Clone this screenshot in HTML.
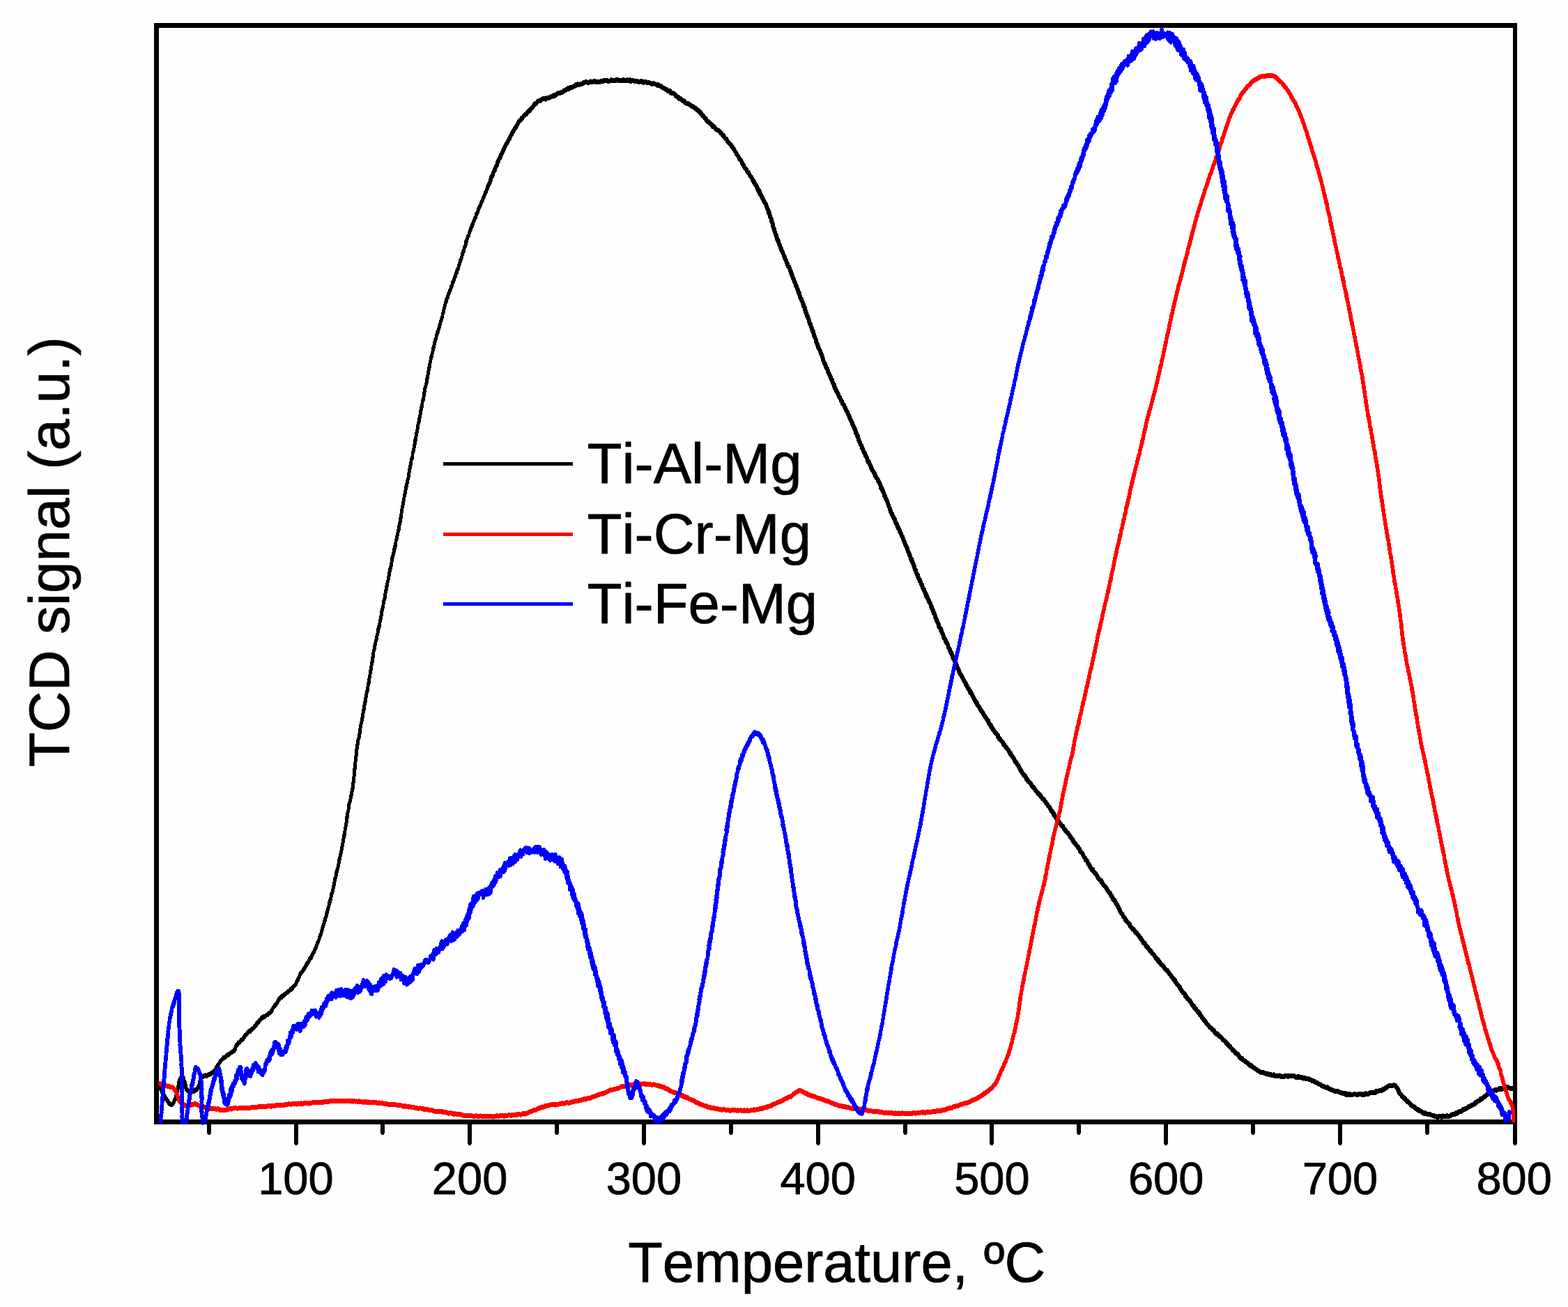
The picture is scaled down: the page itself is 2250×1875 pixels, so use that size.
<!DOCTYPE html>
<html lang="en">
<head>
<meta charset="utf-8">
<title>TCD signal vs Temperature</title>
<style>
html,body{margin:0;padding:0;background:#fefefe;}
body{width:2250px;height:1875px;overflow:hidden;}
svg{display:block;}
text{font-family:"Liberation Sans",Arial,Helvetica,sans-serif;fill:#000;stroke:#000;stroke-width:0.8px;stroke-linejoin:round;font-kerning:none;font-variant-ligatures:none;text-rendering:geometricPrecision;}
</style>
</head>
<body>
<svg width="2250" height="1875" viewBox="0 0 2250 1875">
<rect x="0" y="0" width="2250" height="1875" fill="#fefefe"/>
<g shape-rendering="crispEdges" fill="#000">
<rect x="221" y="33" width="1956" height="7"/>
<rect x="221" y="1606" width="1956" height="7"/>
<rect x="221" y="33" width="7" height="1580"/>
<rect x="2171" y="33" width="6" height="1580"/>
<rect x="297" y="1612" width="6" height="13.5"/>
<rect x="298" y="1625.5" width="4" height="2"/>
<rect x="422" y="1612" width="6" height="29.0"/>
<rect x="423" y="1641.0" width="4" height="2"/>
<rect x="546" y="1612" width="6" height="13.5"/>
<rect x="547" y="1625.5" width="4" height="2"/>
<rect x="671" y="1612" width="6" height="29.0"/>
<rect x="672" y="1641.0" width="4" height="2"/>
<rect x="796" y="1612" width="6" height="13.5"/>
<rect x="797" y="1625.5" width="4" height="2"/>
<rect x="921" y="1612" width="6" height="29.0"/>
<rect x="922" y="1641.0" width="4" height="2"/>
<rect x="1046" y="1612" width="6" height="13.5"/>
<rect x="1047" y="1625.5" width="4" height="2"/>
<rect x="1171" y="1612" width="6" height="29.0"/>
<rect x="1172" y="1641.0" width="4" height="2"/>
<rect x="1296" y="1612" width="6" height="13.5"/>
<rect x="1297" y="1625.5" width="4" height="2"/>
<rect x="1420" y="1612" width="6" height="29.0"/>
<rect x="1421" y="1641.0" width="4" height="2"/>
<rect x="1545" y="1612" width="6" height="13.5"/>
<rect x="1546" y="1625.5" width="4" height="2"/>
<rect x="1670" y="1612" width="6" height="29.0"/>
<rect x="1671" y="1641.0" width="4" height="2"/>
<rect x="1795" y="1612" width="6" height="13.5"/>
<rect x="1796" y="1625.5" width="4" height="2"/>
<rect x="1920" y="1612" width="6" height="29.0"/>
<rect x="1921" y="1641.0" width="4" height="2"/>
<rect x="2045" y="1612" width="6" height="13.5"/>
<rect x="2046" y="1625.5" width="4" height="2"/>
<rect x="2171" y="1612" width="6" height="29.0"/>
<rect x="2172" y="1641.0" width="4" height="2"/>
</g>
<g fill="none" stroke-linejoin="round" stroke-linecap="round" shape-rendering="crispEdges">
<g transform="scale(1 1.4583)"><path d="M229.2 1069.8 L230.5 1071.4 L231.6 1071.8 L232.0 1073.9 L233.1 1074.4 L234.7 1076.0 L235.5 1077.2 L236.3 1078.0 L237.1 1079.9 L237.8 1080.7 L238.8 1080.9 L239.8 1082.6 L240.3 1082.9 L241.8 1084.4 L242.8 1085.8 L244.9 1086.3 L246.7 1086.5 L248.9 1085.3 L250.2 1082.9 L250.7 1081.7 L251.8 1080.9 L252.1 1079.7 L252.4 1078.5 L252.8 1077.5 L253.4 1076.5 L253.9 1075.2 L254.5 1074.0 L254.7 1071.8 L255.2 1071.6 L255.5 1070.0 L255.6 1068.5 L256.0 1067.9 L256.1 1065.2 L257.3 1064.6 L257.5 1063.2 L258.5 1061.3 L259.2 1060.9 L260.8 1059.2 L261.9 1058.5 L263.2 1060.1 L263.9 1062.2 L264.2 1063.5 L264.7 1063.7 L265.5 1065.0 L265.7 1066.8 L266.6 1067.8 L266.7 1070.1 L267.5 1071.6 L268.6 1071.8 L269.0 1073.0 L270.5 1073.6 L271.8 1074.1 L273.7 1073.9 L275.0 1074.1 L276.7 1073.4 L279.1 1073.4 L280.5 1072.2 L282.1 1072.3 L282.9 1071.3 L284.3 1069.5 L285.1 1068.6 L285.9 1067.1 L286.5 1066.3 L286.5 1064.2 L287.5 1063.9 L287.8 1061.9 L288.7 1060.7 L289.3 1059.6 L291.0 1059.4 L292.6 1058.5 L294.9 1057.9 L296.6 1058.5 L298.3 1057.4 L300.5 1057.0 L301.8 1056.7 L303.9 1055.6 L305.2 1054.9 L307.2 1054.0 L308.2 1052.9 L308.7 1052.6 L310.1 1051.6 L310.4 1050.2 L311.4 1049.4 L312.3 1049.3 L312.5 1047.6 L313.9 1047.0 L314.8 1045.7 L316.1 1044.0 L317.6 1043.1 L318.2 1042.4 L319.4 1041.6 L320.9 1040.4 L321.4 1040.6 L323.3 1039.9 L324.4 1039.2 L326.2 1037.6 L327.7 1037.8 L329.3 1036.8 L330.7 1036.0 L332.2 1035.1 L333.8 1034.7 L335.2 1033.8 L336.3 1033.5 L337.3 1032.7 L338.0 1031.1 L337.9 1030.2 L338.8 1028.6 L339.9 1027.8 L340.8 1027.4 L342.1 1025.8 L343.0 1025.7 L344.4 1024.9 L345.6 1023.3 L347.0 1023.2 L347.8 1022.4 L349.3 1021.6 L350.3 1019.8 L351.1 1020.0 L351.8 1018.4 L353.0 1017.9 L354.2 1017.0 L355.6 1015.6 L356.2 1015.0 L357.4 1014.3 L359.3 1014.6 L359.8 1013.5 L361.2 1012.5 L362.5 1012.2 L363.8 1011.1 L364.8 1010.3 L366.6 1009.0 L368.0 1007.9 L368.4 1006.8 L369.6 1006.5 L370.8 1005.3 L371.8 1004.8 L372.5 1003.6 L373.6 1003.3 L374.5 1002.5 L376.0 1001.1 L377.5 1000.9 L378.8 999.9 L380.6 999.8 L382.6 998.5 L384.1 998.3 L385.0 997.2 L386.3 996.9 L387.9 996.1 L389.2 994.9 L390.3 993.9 L390.9 992.9 L391.8 991.4 L393.4 990.3 L393.8 989.5 L395.3 988.7 L395.6 988.4 L396.7 987.2 L397.9 986.2 L399.0 984.8 L400.0 983.0 L401.2 982.5 L403.2 980.7 L404.4 981.1 L405.1 979.7 L406.8 979.7 L407.8 978.2 L409.1 978.1 L410.8 977.1 L411.7 976.5 L412.9 975.8 L413.9 975.2 L415.7 974.4 L416.6 973.4 L417.8 973.4 L418.9 972.3 L419.9 971.8 L421.2 970.4 L421.7 970.4 L424.1 968.5 L424.7 967.8 L425.4 966.2 L426.1 965.6 L426.8 964.2 L427.8 964.0 L428.1 962.6 L429.1 961.6 L430.1 959.7 L431.2 957.7 L432.2 957.2 L432.8 956.2 L433.8 955.8 L434.5 955.1 L435.6 953.6 L436.5 952.9 L437.6 951.5 L438.3 950.8 L439.4 949.4 L440.2 949.1 L440.8 947.3 L441.5 946.9 L442.7 946.3 L443.7 944.4 L444.1 943.5 L445.0 943.1 L446.3 942.4 L446.7 941.4 L447.6 939.9 L448.7 938.6 L449.0 938.5 L449.9 937.0 L450.8 936.3 L451.2 934.7 L452.2 933.8 L452.7 932.8 L453.9 931.4 L454.2 930.0 L454.6 929.5 L455.1 928.6 L456.4 926.4 L457.0 925.6 L457.8 924.2 L458.4 922.2 L459.6 920.5 L459.8 919.4 L460.8 918.4 L461.0 916.7 L461.4 916.0 L462.0 915.3 L462.4 913.7 L462.9 913.2 L463.1 912.5 L464.2 909.7 L465.3 907.8 L465.7 906.5 L466.3 905.4 L466.7 904.2 L466.9 902.9 L467.2 902.6 L468.1 901.3 L468.5 900.1 L468.6 899.0 L469.4 897.6 L469.6 896.8 L470.2 895.8 L470.6 894.0 L471.5 892.5 L472.1 890.6 L472.3 888.9 L472.7 887.7 L473.6 887.4 L473.5 885.8 L474.0 885.4 L474.7 884.4 L474.9 882.6 L475.1 881.6 L475.6 881.0 L475.7 879.6 L476.5 878.2 L476.9 878.2 L477.7 875.6 L478.1 873.8 L478.5 873.3 L478.8 871.5 L479.3 870.7 L479.4 869.9 L479.3 868.9 L480.1 867.6 L480.3 866.5 L480.4 865.5 L480.7 864.4 L481.4 863.3 L481.7 862.9 L482.3 860.8 L482.5 860.4 L482.3 859.0 L482.8 857.7 L483.3 857.7 L483.5 856.6 L484.1 854.6 L484.6 854.2 L485.0 853.3 L485.2 851.8 L485.6 851.4 L486.0 849.8 L486.2 848.8 L486.1 847.2 L486.4 846.3 L486.8 845.7 L487.6 844.7 L487.7 843.8 L488.0 842.5 L488.6 841.4 L488.5 841.0 L489.6 838.4 L489.9 836.6 L490.4 835.2 L490.3 834.1 L491.1 833.0 L491.2 832.1 L491.6 830.1 L492.3 828.1 L492.5 826.1 L493.2 824.6 L493.6 822.0 L494.2 821.4 L494.6 819.9 L494.7 819.2 L494.7 818.8 L495.2 815.9 L495.9 814.0 L496.4 812.2 L496.3 810.8 L496.9 810.0 L497.2 809.2 L497.5 807.9 L497.2 806.8 L497.8 806.2 L497.7 804.5 L498.2 804.5 L498.4 802.2 L498.2 801.3 L498.5 800.1 L498.7 799.8 L499.5 798.2 L499.8 797.5 L500.0 797.0 L500.3 794.9 L500.1 794.5 L500.9 792.8 L500.7 792.7 L500.9 791.1 L501.4 790.5 L502.1 788.8 L502.3 788.5 L502.7 787.2 L503.1 785.9 L503.1 784.7 L503.7 784.0 L503.6 782.6 L504.3 782.1 L504.6 780.8 L504.7 779.4 L505.2 778.2 L505.3 778.1 L505.8 776.3 L505.7 776.1 L506.3 775.1 L506.7 773.6 L507.0 772.9 L506.8 771.4 L506.8 770.4 L507.6 768.9 L507.6 767.9 L507.4 767.5 L507.7 765.7 L507.7 765.3 L508.2 763.5 L508.1 763.6 L508.2 762.0 L508.5 761.2 L508.8 760.1 L508.8 758.3 L508.7 757.2 L509.3 756.2 L508.8 756.2 L509.2 754.1 L509.4 751.6 L509.8 750.1 L510.3 748.7 L510.6 747.7 L510.4 746.3 L510.7 744.6 L511.3 743.2 L511.6 740.8 L511.5 740.1 L511.9 738.6 L511.8 738.0 L511.8 736.9 L512.5 735.5 L512.8 734.5 L512.8 732.7 L513.7 731.2 L513.7 729.2 L514.0 727.5 L515.0 726.2 L515.2 725.5 L515.3 724.4 L515.5 722.7 L516.0 722.3 L516.3 720.7 L516.5 719.5 L517.0 719.0 L516.7 718.0 L517.0 715.8 L517.7 714.9 L517.8 714.2 L517.8 713.2 L518.2 711.7 L518.6 710.9 L519.2 709.2 L519.0 708.1 L519.6 706.7 L519.7 706.4 L520.4 705.5 L520.9 704.3 L520.7 702.3 L521.0 701.5 L521.4 700.6 L521.6 699.9 L521.8 698.3 L522.5 697.7 L522.4 695.9 L523.0 694.5 L522.8 694.1 L523.4 692.5 L523.4 691.5 L524.2 690.7 L524.6 690.0 L524.9 688.0 L524.6 686.9 L525.1 686.2 L525.1 685.4 L525.4 684.0 L525.8 683.5 L526.2 681.7 L526.2 680.9 L526.9 680.1 L527.4 679.2 L527.2 677.3 L527.8 677.0 L527.9 676.0 L528.2 674.3 L528.2 672.9 L528.8 673.0 L529.3 671.4 L529.4 671.0 L529.7 669.5 L529.9 667.4 L530.0 665.9 L530.7 665.8 L530.9 663.9 L531.0 662.9 L531.6 661.8 L532.0 660.3 L531.7 659.7 L532.1 659.1 L532.6 658.1 L532.7 655.9 L532.9 655.5 L533.1 654.2 L533.5 653.9 L533.3 652.6 L533.7 651.4 L534.4 650.9 L534.4 648.9 L534.9 647.9 L534.7 647.6 L534.9 645.9 L535.7 645.7 L535.5 644.0 L535.7 642.7 L536.0 642.7 L536.1 640.7 L536.5 639.5 L537.0 639.2 L537.5 638.0 L537.8 636.2 L537.7 636.3 L537.9 634.5 L538.5 633.4 L538.9 632.1 L538.9 632.2 L539.2 631.1 L539.5 630.1 L540.2 628.7 L540.2 626.9 L540.9 626.0 L540.9 625.8 L541.7 623.8 L542.1 623.3 L542.0 621.7 L542.3 621.8 L542.6 619.6 L542.8 618.6 L543.3 618.5 L543.4 616.5 L544.3 616.4 L544.7 614.4 L544.6 614.2 L545.0 612.8 L545.2 610.9 L545.5 610.8 L546.1 609.6 L546.1 608.5 L546.4 607.5 L547.0 606.0 L547.1 605.9 L547.6 604.0 L547.9 603.8 L547.7 602.0 L548.0 600.7 L548.8 600.1 L549.0 598.7 L548.7 598.6 L549.5 597.7 L549.8 596.1 L550.1 594.5 L550.2 593.8 L550.3 592.9 L550.7 591.7 L551.0 590.4 L551.3 589.7 L552.1 589.0 L552.3 587.8 L552.2 586.8 L552.5 584.7 L553.0 584.3 L553.2 583.0 L553.4 582.4 L553.8 580.8 L554.2 580.3 L554.8 578.8 L554.7 577.9 L554.8 576.6 L555.6 576.0 L555.4 575.0 L555.9 574.1 L556.2 572.1 L556.6 571.8 L556.9 570.7 L557.4 569.0 L557.4 568.1 L557.8 566.8 L558.3 566.3 L558.6 564.3 L558.6 563.5 L559.2 562.1 L559.2 561.2 L559.6 559.8 L560.1 559.8 L560.5 558.5 L561.0 557.5 L561.4 555.9 L561.5 554.5 L562.0 553.7 L562.0 553.3 L562.2 551.3 L562.9 550.8 L562.7 549.0 L563.2 548.0 L563.9 547.1 L563.8 546.2 L564.3 545.2 L564.8 544.4 L565.0 542.6 L565.7 542.2 L565.4 540.8 L566.2 540.4 L566.1 538.0 L566.7 537.5 L567.4 536.9 L567.3 535.3 L567.9 534.8 L567.9 533.1 L568.2 532.3 L568.5 531.6 L569.2 530.1 L569.2 528.6 L569.9 528.3 L570.2 526.5 L570.9 525.9 L570.9 524.3 L571.0 524.2 L571.2 522.7 L571.9 521.4 L572.3 521.1 L572.7 519.9 L572.5 518.0 L573.3 516.3 L573.4 515.9 L573.7 514.7 L574.5 512.8 L574.8 512.0 L574.5 510.7 L574.7 510.0 L575.2 509.5 L575.7 507.4 L575.9 505.8 L576.2 503.7 L576.7 502.2 L577.2 499.5 L577.4 498.9 L577.8 497.6 L578.2 496.5 L578.4 496.0 L578.3 495.1 L578.7 493.7 L579.2 492.7 L579.3 490.9 L579.9 490.7 L580.0 489.2 L580.4 487.7 L581.2 484.8 L581.6 484.8 L581.6 483.8 L582.0 481.7 L582.4 480.9 L582.7 480.1 L582.6 479.0 L583.4 477.9 L583.5 477.3 L583.8 475.8 L584.2 475.1 L584.3 473.1 L585.0 472.6 L585.0 471.9 L585.7 470.4 L586.1 469.7 L586.3 467.9 L586.1 467.3 L586.9 465.8 L587.1 464.9 L587.2 464.0 L587.8 462.5 L587.8 461.6 L588.3 460.7 L588.5 459.1 L588.8 458.1 L589.4 456.6 L589.4 455.9 L589.8 454.8 L590.3 452.4 L591.1 451.4 L591.9 448.9 L592.1 446.4 L592.6 444.7 L593.6 442.5 L594.1 441.0 L594.3 438.7 L595.2 436.6 L595.5 435.0 L595.5 433.6 L596.3 433.3 L596.4 432.4 L596.3 431.1 L597.0 429.5 L597.1 429.4 L597.3 428.1 L597.4 427.0 L597.8 425.7 L598.1 425.1 L598.7 423.6 L598.9 422.5 L599.3 421.2 L599.4 420.5 L599.6 418.8 L599.8 418.5 L600.3 416.6 L601.1 414.9 L601.6 413.6 L601.6 411.7 L602.0 411.6 L602.6 409.9 L602.3 409.8 L603.0 408.1 L603.3 406.7 L603.5 406.3 L603.8 404.6 L603.8 404.1 L604.6 402.4 L604.3 401.3 L605.1 400.6 L605.2 400.3 L605.6 398.3 L606.0 397.0 L606.0 396.8 L606.2 394.9 L606.8 394.2 L607.4 392.8 L607.6 392.1 L607.9 391.2 L608.1 390.0 L608.1 389.1 L608.8 387.9 L608.7 387.0 L608.9 385.8 L609.5 385.1 L609.8 383.7 L609.7 382.4 L610.5 380.6 L611.2 378.8 L611.9 377.3 L612.2 376.3 L612.4 374.7 L612.6 373.1 L613.2 372.5 L613.1 371.8 L613.7 370.3 L614.0 368.5 L614.7 367.4 L614.5 367.3 L614.7 365.6 L615.3 364.1 L615.9 363.2 L615.5 362.2 L615.9 361.3 L616.8 360.5 L616.5 359.1 L617.0 357.8 L617.3 356.5 L617.5 355.8 L617.8 355.2 L618.0 354.2 L618.4 352.0 L619.1 351.6 L619.5 350.5 L620.0 348.0 L620.6 346.6 L621.4 344.1 L621.4 343.1 L622.5 341.5 L622.7 340.4 L623.0 339.1 L623.6 337.4 L623.8 337.1 L624.2 335.7 L624.6 334.5 L625.3 333.9 L626.0 332.5 L625.9 331.3 L626.2 330.2 L627.0 329.7 L627.2 328.2 L627.6 327.2 L628.3 326.3 L629.0 325.7 L629.1 324.5 L629.3 323.9 L630.2 322.4 L630.7 321.2 L630.8 320.1 L631.2 319.5 L631.9 318.6 L631.9 317.6 L632.6 316.1 L633.0 315.2 L633.1 314.1 L633.9 313.5 L634.4 311.8 L634.8 311.5 L635.0 310.7 L635.0 309.4 L635.9 307.6 L636.1 307.5 L636.3 306.4 L637.1 304.8 L637.0 303.5 L637.9 302.6 L637.9 301.6 L638.8 300.3 L638.6 300.0 L639.3 298.2 L640.2 297.0 L640.1 296.6 L640.7 294.7 L641.7 293.6 L642.6 291.8 L643.1 289.8 L644.2 288.4 L645.1 286.4 L645.6 285.8 L646.6 284.8 L647.0 283.0 L647.2 282.1 L647.6 282.1 L648.7 281.1 L649.0 279.1 L649.5 278.0 L650.4 277.3 L650.5 277.1 L651.0 276.1 L651.6 274.8 L652.0 274.1 L652.8 272.4 L653.5 271.7 L653.8 270.1 L654.5 269.0 L655.3 268.3 L655.3 267.3 L655.8 266.3 L656.6 265.4 L657.0 264.2 L657.6 263.8 L658.0 262.8 L658.6 260.9 L658.8 260.8 L659.5 259.2 L660.1 258.7 L660.4 257.0 L660.9 255.5 L661.5 255.0 L662.0 253.9 L662.4 253.1 L662.7 252.4 L663.1 251.2 L663.6 250.0 L664.2 248.0 L664.8 247.9 L665.5 246.9 L666.1 244.8 L666.1 243.8 L666.9 243.2 L667.3 242.5 L668.0 241.3 L668.4 240.2 L668.3 239.5 L668.7 237.5 L669.7 236.8 L670.1 235.5 L670.2 235.3 L671.1 233.2 L672.3 231.7 L672.7 231.3 L673.1 230.3 L673.8 228.3 L673.9 227.9 L675.1 226.4 L675.3 225.3 L676.1 224.7 L676.4 224.0 L676.7 223.0 L677.7 222.2 L677.9 220.5 L678.4 220.3 L679.1 218.7 L680.3 217.2 L681.2 214.9 L682.7 213.6 L683.4 210.8 L684.9 209.8 L685.8 207.6 L686.6 206.6 L686.7 205.1 L687.4 204.7 L688.0 204.1 L688.8 202.6 L689.4 201.8 L690.0 200.7 L690.5 199.7 L691.9 197.5 L693.0 195.7 L693.6 194.5 L694.0 194.0 L694.7 192.8 L695.0 191.7 L695.8 191.2 L696.0 189.7 L696.8 189.7 L697.6 188.1 L698.2 187.1 L699.2 186.0 L699.7 183.9 L700.6 182.5" stroke="#000000" stroke-width="4.80"/></g>
<g transform="scale(1 1.2500)"><path d="M699.7 214.6 L700.6 212.9 L701.4 212.2 L701.6 211.5 L702.4 210.1 L703.2 209.0 L703.4 207.1 L704.1 206.3 L704.7 205.1 L704.9 203.4 L705.7 202.3 L706.8 201.8 L706.9 200.7 L707.8 198.5 L708.5 197.5 L709.3 196.2 L709.4 195.1 L710.4 194.7 L710.8 192.6 L711.3 192.2 L711.7 191.3 L712.8 190.1 L713.3 188.5 L714.1 186.9 L714.2 185.6 L715.3 184.4 L715.9 183.0 L716.9 181.9 L717.9 180.4 L718.6 178.2 L718.9 177.4 L719.8 176.6 L720.8 175.5 L721.5 174.2 L721.8 172.8 L722.8 172.0 L723.2 170.2 L724.1 168.9 L725.0 167.4 L725.5 167.0 L725.9 166.0 L726.8 165.4 L727.8 163.8 L728.5 163.2 L729.4 161.0 L731.2 159.1 L732.0 157.0 L732.5 156.1 L733.4 155.0 L734.5 153.8 L735.2 151.9 L736.5 151.2 L737.0 149.8 L737.9 148.7 L738.8 147.1 L740.0 146.8 L740.7 144.8 L741.1 144.4 L742.4 143.3 L742.7 142.3 L744.5 139.9 L746.1 138.3 L747.3 137.5 L748.8 135.3 L749.5 135.6 L750.7 134.2 L752.9 131.9 L754.9 131.2 L756.0 129.8 L757.2 128.6 L759.0 127.1 L760.3 127.0 L761.0 126.0 L761.9 124.6 L762.8 124.2 L764.3 123.0 L764.9 122.1 L765.9 120.9 L767.3 119.2 L769.4 118.7 L771.6 116.5 L773.2 115.9 L774.6 115.3 L775.5 115.6 L776.9 114.1 L780.2 113.2 L782.9 113.7 L785.8 112.2 L788.4 112.1 L790.6 111.2 L792.8 110.2 L794.8 110.5 L795.6 108.9 L797.8 109.1 L799.8 107.5 L802.3 106.8 L804.8 106.3 L807.3 105.8 L808.1 105.2 L809.6 103.8 L810.8 104.0 L812.6 102.8 L814.2 102.1 L815.4 101.3 L816.8 101.9 L818.5 100.3 L819.8 100.4 L821.3 100.2 L822.7 99.6 L824.6 99.0 L825.9 97.4 L827.3 97.8 L828.7 96.6 L830.7 97.3 L833.6 96.5 L834.9 96.2 L836.5 95.5 L837.8 94.4 L839.1 94.5 L840.9 94.1 L842.7 94.5 L844.1 94.8 L845.2 94.6 L847.3 93.6 L848.2 94.2 L850.3 94.1 L851.5 93.7 L852.8 93.1 L854.5 93.8 L855.8 93.9 L857.3 93.9 L858.9 93.6 L860.9 93.8 L862.1 93.3 L863.5 93.4 L864.9 93.4 L866.8 92.2 L868.5 92.5 L869.4 92.3 L870.9 92.2 L872.9 93.2 L874.4 92.9 L876.0 92.7 L877.2 91.9 L878.6 92.3 L880.1 92.5 L881.7 92.3 L883.4 92.3 L884.6 91.7 L886.5 91.7 L888.0 92.7 L889.3 92.7 L891.0 92.7 L892.5 92.4 L894.1 91.6 L895.5 92.2 L896.9 92.4 L898.8 92.6 L900.2 91.7 L901.7 92.5 L903.4 91.7 L904.4 93.2 L906.2 92.9 L908.0 92.5 L909.5 92.9 L911.5 93.0 L913.0 92.8 L914.6 93.4 L916.2 93.9 L917.4 94.2 L919.4 93.3 L920.8 93.3 L922.2 94.5 L924.1 94.7 L925.2 93.8 L928.2 94.7 L931.0 94.8 L933.5 95.6 L934.6 96.1 L935.9 96.1 L937.5 95.6 L939.4 96.6 L941.3 96.8 L943.0 97.8 L943.9 97.1 L945.9 98.2 L946.6 98.4 L948.6 99.0 L949.9 100.3 L951.3 100.8 L953.1 101.5 L954.3 101.9 L955.4 102.6 L957.1 103.2 L958.3 104.1 L959.5 104.7 L961.5 104.4 L962.4 106.5 L963.6 107.0 L965.4 106.7 L966.8 107.3 L968.3 108.5 L969.8 110.1 L970.6 110.1 L972.0 111.4 L973.3 111.3 L974.7 113.2 L976.2 113.2 L977.7 114.4 L979.1 115.7 L980.4 115.8 L982.2 116.2 L983.1 117.8 L984.6 118.6 L986.3 118.5 L987.3 118.7 L989.1 119.8 L990.1 120.0 L991.4 121.6 L992.8 121.7 L994.5 122.3 L995.8 122.8 L997.0 124.1 L998.9 124.6 L999.8 126.0 L1001.9 126.4 L1003.2 128.2 L1004.2 128.1 L1005.6 129.1 L1006.2 131.2 L1007.5 131.8 L1008.1 132.9 L1009.3 132.7 L1010.7 135.0 L1011.2 135.3 L1012.8 136.1 L1013.4 137.7 L1014.6 139.0 L1015.9 139.6 L1016.8 139.6 L1018.0 141.0 L1019.1 141.9 L1020.1 142.2 L1021.7 143.3 L1022.3 145.0 L1023.8 145.4 L1024.9 145.4 L1026.1 147.2 L1027.2 148.1 L1028.4 148.9 L1029.5 149.1 L1030.7 149.6 L1032.1 150.9 L1033.3 151.6 L1034.2 152.6 L1035.7 153.2 L1036.4 155.2 L1037.5 155.2 L1038.9 156.0 L1039.3 156.8 L1040.6 159.0 L1041.5 159.1 L1042.9 159.8 L1043.4 161.7 L1044.5 162.5 L1045.6 163.7 L1047.1 164.6 L1047.7 165.9 L1049.1 166.2 L1049.8 167.8 L1051.7 169.6 L1052.6 170.6 L1053.6 171.7 L1054.0 172.4 L1054.7 173.6 L1056.1 175.0 L1056.6 176.8 L1057.9 177.6 L1058.2 178.1 L1059.2 179.1 L1059.9 180.2 L1060.7 182.0 L1061.8 182.7 L1062.5 184.1 L1063.5 184.3 L1064.4 186.1 L1064.9 187.9 L1066.1 188.1 L1066.4 189.3 L1067.5 190.2 L1068.1 191.6 L1069.0 192.9 L1070.0 193.2 L1071.1 194.5 L1071.4 195.3 L1072.2 196.5 L1073.6 198.3 L1074.3 198.1 L1074.8 199.2 L1075.7 200.9 L1076.3 201.7 L1077.4 203.0 L1078.6 203.7 L1079.2 204.6 L1079.9 206.2 L1080.5 207.2" stroke="#000000" stroke-width="5.60"/></g>
<g transform="scale(1 1.1667)"><path d="M1079.9 221.0 L1080.5 222.0 L1081.6 222.7 L1082.3 224.9 L1083.2 225.2 L1084.6 227.9 L1085.4 228.8 L1086.0 229.8 L1086.9 231.6 L1087.4 232.8 L1088.3 234.6 L1089.5 234.5 L1090.1 236.1 L1090.4 238.2 L1091.7 239.4 L1092.3 240.9 L1092.9 241.7 L1093.7 243.3 L1094.6 243.6 L1094.8 245.3 L1095.8 246.2 L1096.7 248.2 L1097.2 248.9 L1097.8 249.5 L1099.1 251.6 L1100.3 254.5 L1100.6 255.3 L1101.5 257.1 L1102.2 257.9 L1102.9 259.7 L1103.1 261.4 L1103.8 262.2 L1104.5 264.6 L1105.2 266.6 L1106.6 268.7 L1107.0 272.2 L1107.7 273.0 L1108.4 274.6 L1109.1 277.1 L1109.6 279.5 L1110.7 281.5 L1111.4 284.0 L1112.3 286.2 L1112.7 287.8 L1113.5 288.1 L1114.0 290.6 L1114.1 290.8 L1115.2 293.4 L1115.1 294.5 L1116.4 295.3 L1116.9 296.9 L1117.8 299.3 L1118.6 300.9 L1119.8 304.0 L1120.7 305.4 L1121.1 306.9 L1122.4 308.8 L1122.9 310.1 L1123.0 310.7 L1124.2 312.7 L1124.8 313.9 L1125.3 315.1 L1126.0 315.9 L1126.1 317.0 L1126.7 318.2 L1127.7 319.5 L1128.1 320.5 L1128.8 322.4 L1129.7 324.4 L1129.9 324.6 L1130.5 327.0 L1131.6 327.8 L1132.3 328.1 L1133.0 329.9 L1133.4 331.3 L1134.6 333.5 L1134.8 334.7 L1135.7 336.2 L1135.8 337.2 L1136.7 338.5 L1137.3 340.4 L1137.8 341.5 L1138.2 342.9 L1139.2 343.6 L1139.1 344.1 L1140.2 346.5 L1140.7 347.2 L1141.1 347.8 L1141.7 350.4 L1142.0 351.1 L1143.0 352.4 L1143.2 353.0 L1144.0 355.3 L1144.7 355.7 L1145.2 357.6 L1145.5 358.8 L1146.0 359.2 L1146.3 361.3 L1147.4 361.5 L1147.5 363.2 L1148.1 365.1 L1148.7 366.1 L1149.5 367.1 L1150.3 368.5 L1150.5 370.1 L1151.0 370.5 L1151.9 372.7 L1152.2 373.5 L1152.8 374.5 L1152.9 376.2 L1154.1 376.8 L1154.7 378.5 L1155.2 380.5 L1155.3 381.0 L1156.3 383.5 L1156.8 384.2 L1157.1 385.8 L1157.9 387.2 L1158.0 388.6 L1159.1 389.5 L1158.9 390.2 L1159.9 391.9 L1160.7 393.5 L1161.0 394.1 L1161.4 396.2 L1162.3 397.8 L1162.3 398.4 L1163.3 399.0 L1163.7 401.5 L1165.1 404.1 L1166.0 407.0 L1166.9 407.9 L1167.5 410.6 L1168.1 412.2 L1168.8 413.2 L1169.4 414.5 L1169.4 415.4 L1170.5 416.8 L1171.2 420.0 L1172.3 422.2 L1173.1 423.9 L1173.7 425.6 L1174.7 428.3 L1176.0 429.8 L1177.1 432.2 L1177.5 433.3 L1178.1 434.7 L1179.5 437.4 L1180.4 439.9 L1181.1 442.9 L1182.2 444.7 L1183.6 447.9 L1184.2 447.6 L1184.6 450.2 L1185.5 450.5 L1185.5 451.6 L1186.6 452.8 L1187.3 454.1 L1187.8 456.1 L1188.1 457.1 L1189.5 459.0 L1190.6 461.8 L1192.1 463.6 L1192.1 465.2 L1193.0 466.3 L1193.9 467.1 L1194.2 468.7 L1194.6 469.9 L1195.4 471.0 L1196.3 473.1 L1197.1 473.2 L1197.3 475.5 L1197.7 475.4 L1198.4 478.0 L1199.3 478.4 L1199.7 480.3 L1201.0 481.2 L1201.6 482.2 L1201.8 482.9 L1202.5 484.0 L1203.2 485.0 L1203.6 487.5 L1204.9 488.6 L1205.2 489.2 L1206.1 490.9 L1206.6 491.7 L1207.5 493.4 L1208.0 493.3 L1208.8 495.9 L1209.4 496.6 L1210.0 497.3 L1211.1 498.2 L1211.7 500.2 L1212.4 501.6 L1213.4 502.1 L1214.1 504.0 L1214.7 504.9 L1215.4 506.3 L1216.2 506.8 L1216.8 508.7 L1217.4 510.1 L1217.9 510.8 L1218.8 512.1 L1219.1 513.4 L1219.7 514.3 L1220.6 515.9 L1221.6 517.6 L1221.8 518.8 L1222.6 519.5 L1222.9 521.3 L1223.6 521.7 L1224.3 523.0 L1224.9 524.3 L1225.6 525.7 L1226.4 527.9 L1227.1 528.4 L1227.5 530.2 L1228.1 531.0 L1228.3 532.8 L1229.2 533.5 L1229.8 534.4 L1230.4 537.0 L1231.2 537.0 L1231.6 539.4 L1231.8 540.4 L1232.4 541.1 L1233.0 542.5 L1234.1 544.2 L1234.7 545.9 L1234.8 546.9 L1236.0 547.8 L1236.2 548.3 L1236.8 549.8 L1237.3 551.4 L1238.2 552.0 L1238.5 553.6 L1239.5 555.0 L1240.1 556.6 L1240.8 557.1 L1241.4 558.6 L1241.7 559.0 L1242.4 561.1 L1243.3 561.6 L1243.8 562.5 L1244.5 564.2 L1245.2 566.1 L1245.4 567.4 L1246.1 568.6 L1247.3 568.6 L1247.5 569.7 L1248.6 571.9 L1249.3 573.1 L1249.5 574.3 L1250.2 574.8 L1251.0 576.5 L1251.6 577.5 L1252.5 579.1 L1253.1 579.7 L1253.9 580.9 L1254.8 581.6 L1255.1 582.6 L1256.0 585.1 L1256.8 585.9 L1257.8 587.4 L1258.0 587.7 L1258.9 588.9 L1259.7 589.8 L1260.2 592.0 L1260.8 592.3 L1261.9 593.6 L1262.7 595.4 L1263.3 596.5 L1263.7 597.2 L1264.0 599.5 L1264.8 599.4 L1266.0 601.4 L1266.4 603.2 L1267.1 603.5 L1267.4 605.4 L1268.3 606.1 L1268.6 607.8 L1269.1 609.5 L1270.1 609.8 L1270.7 611.8 L1270.9 612.9 L1272.0 614.2 L1272.5 615.2 L1273.3 617.1 L1273.5 617.4 L1274.0 618.7 L1274.6 620.3 L1275.0 621.8 L1275.6 623.0 L1276.4 624.1 L1277.1 626.6 L1277.8 627.9 L1278.0 628.8 L1278.7 630.4 L1279.5 631.3 L1280.3 631.6 L1280.4 633.8 L1281.6 634.4 L1281.6 635.0 L1282.8 637.2 L1283.1 638.4 L1284.1 638.5 L1284.7 641.2 L1285.4 642.3 L1285.8 643.0 L1286.2 644.5 L1287.2 645.1 L1287.4 645.9 L1288.3 648.3 L1289.0 649.4 L1289.4 649.6 L1290.1 650.9 L1291.1 652.2 L1291.4 653.9 L1292.1 655.4 L1292.8 656.5 L1293.2 657.0 L1293.9 659.2 L1294.9 659.9 L1295.2 660.4 L1296.1 662.5 L1296.4 663.2 L1297.1 665.3 L1297.5 665.9 L1298.3 667.6 L1298.5 668.2 L1299.4 670.5 L1300.0 670.7 L1300.5 672.3 L1301.5 673.6 L1302.2 675.0 L1302.3 675.9 L1303.1 678.0 L1303.9 679.5 L1304.3 679.8 L1305.2 681.4 L1305.3 682.6 L1306.2 684.7 L1306.6 685.3 L1307.0 687.2 L1308.1 687.7 L1308.3 690.0 L1309.3 690.3 L1310.0 692.5 L1310.4 693.2 L1311.2 694.7 L1311.6 696.8 L1312.3 696.9 L1312.4 698.2 L1313.0 700.6 L1313.9 701.2 L1314.3 702.6 L1315.0 704.2 L1315.6 705.7 L1316.5 707.0 L1317.0 707.3 L1317.4 709.6 L1318.0 710.5 L1318.5 712.2 L1319.2 712.7 L1320.2 713.6 L1320.2 715.3 L1321.2 716.0 L1321.7 718.2 L1322.7 719.7 L1323.3 719.6 L1323.6 721.3 L1324.0 723.0 L1324.8 724.2 L1325.7 724.6 L1326.1 726.1 L1326.6 726.6 L1327.4 728.2 L1328.0 730.2 L1329.0 730.8 L1329.1 732.6 L1329.9 732.7 L1330.9 735.2 L1331.2 735.8 L1332.2 737.0 L1332.5 737.6 L1332.9 739.9 L1334.0 740.0 L1334.5 741.2 L1335.2 742.7 L1335.8 744.2 L1336.0 745.6 L1337.0 746.1 L1337.2 747.7 L1338.3 750.1 L1338.7 751.2 L1339.4 751.6 L1339.9 753.8 L1340.5 754.6 L1341.2 755.3 L1341.6 757.2 L1342.3 758.8 L1342.7 759.7 L1343.4 760.4 L1344.2 763.1 L1344.6 763.5 L1345.1 764.9 L1345.7 765.9 L1346.7 767.3 L1346.8 769.1 L1347.3 769.9 L1348.3 771.9 L1348.8 771.9 L1349.8 773.1 L1350.0 775.0 L1351.1 776.0 L1351.1 777.0 L1351.8 778.0 L1352.8 779.8 L1353.3 780.6 L1353.9 782.8 L1354.2 784.0 L1354.9 784.8 L1356.0 785.6 L1356.6 786.7 L1356.9 788.7 L1357.7 788.6 L1358.0 790.5 L1358.8 791.0 L1359.7 792.6 L1360.4 793.8 L1360.6 795.1 L1361.6 797.0 L1362.1 797.2 L1362.7 798.4 L1363.2 799.2 L1363.6 801.8 L1364.7 802.0 L1365.2 802.8 L1366.0 804.9 L1366.5 805.8 L1366.9 807.6 L1367.4 807.7 L1367.9 810.2 L1368.6 810.0 L1369.4 811.3 L1369.9 813.5 L1370.4 814.2 L1371.5 816.0 L1372.1 816.0 L1372.8 818.0 L1372.8 819.8 L1373.4 821.0 L1374.0 820.8 L1374.9 822.8 L1375.7 824.3 L1376.0 825.4 L1376.8 826.9 L1377.7 827.7 L1378.0 829.2 L1378.9 829.3 L1379.7 831.4 L1380.3 832.1 L1381.2 833.0 L1381.6 834.4 L1382.8 836.0 L1383.2 837.2 L1384.4 838.4 L1384.7 838.6 L1386.0 840.8 L1386.3 842.1 L1387.2 843.1 L1387.9 844.3 L1388.7 845.1 L1389.4 846.8 L1390.6 847.3 L1390.8 848.4 L1392.1 849.8 L1392.4 851.7 L1393.5 851.7 L1394.5 853.6 L1395.4 855.3 L1396.1 856.5 L1396.6 857.6 L1397.5 858.6 L1398.1 859.7 L1398.8 861.3 L1399.7 862.1 L1401.1 863.7 L1401.9 864.3 L1402.2 866.4 L1403.2 867.5 L1404.2 868.1 L1405.1 869.5 L1406.2 870.8 L1406.6 871.9 L1407.4 873.6 L1408.3 874.1 L1409.4 875.3 L1410.5 877.2 L1410.9 877.8 L1412.1 879.1 L1412.8 880.0 L1413.6 881.5 L1414.6 882.2 L1415.4 883.1 L1416.5 885.3 L1418.0 886.4 L1418.5 888.3 L1419.8 889.9 L1420.3 890.7 L1421.7 891.6 L1422.2 893.8 L1423.0 893.9 L1424.1 896.2 L1425.1 896.7 L1426.1 898.6 L1426.7 898.6 L1427.8 900.4 L1428.5 901.2 L1429.7 901.7 L1430.4 902.8 L1431.8 903.9 L1432.1 905.9 L1433.1 907.0 L1434.1 908.7 L1435.2 908.9 L1435.8 910.2 L1437.2 911.6 L1438.1 912.4 L1439.2 913.3 L1439.8 915.2 L1440.9 915.5 L1441.9 917.0 L1442.4 917.5 L1443.7 918.5 L1444.3 919.9 L1445.1 920.5 L1446.6 921.6 L1447.4 922.4 L1448.0 924.3 L1448.9 926.1 L1450.3 926.3 L1450.6 928.3 L1451.9 928.8 L1452.2 929.2 L1453.5 931.3 L1454.2 932.0 L1454.9 933.2 L1455.8 934.8 L1456.6 935.5 L1457.3 937.2 L1458.7 937.7 L1459.4 939.6 L1459.8 940.0 L1461.1 941.2 L1461.4 942.3 L1462.8 944.0 L1463.0 945.0 L1464.2 946.4 L1464.8 948.1 L1466.0 948.3 L1466.6 949.3 L1467.3 951.0 L1468.4 952.3 L1469.7 952.8 L1470.2 954.0 L1471.3 954.6 L1472.2 956.1 L1472.9 957.9 L1474.2 958.5 L1474.7 959.9 L1475.8 961.1 L1477.9 962.2 L1479.8 964.7 L1481.3 967.0 L1483.2 968.0 L1484.0 969.8 L1485.2 970.2 L1486.1 972.2 L1487.3 973.4 L1488.8 974.4 L1489.4 975.6 L1490.7 976.5 L1491.9 976.7 L1492.6 978.6 L1493.6 978.4 L1494.4 980.2 L1495.7 981.9 L1496.5 982.1 L1498.1 983.5 L1499.2 984.8 L1500.3 986.4 L1501.9 987.9 L1503.3 989.8 L1504.0 990.5 L1505.0 991.8 L1505.8 992.4 L1507.0 993.8 L1507.5 995.0 L1508.4 996.8 L1509.5 997.6 L1510.3 998.3 L1510.8 999.4 L1512.0 1000.2 L1512.3 1002.3 L1513.2 1002.3 L1514.9 1005.0 L1516.7 1006.7 L1517.5 1007.9 L1518.3 1009.4 L1519.3 1009.9 L1520.7 1012.1 L1521.2 1012.6 L1521.9 1012.8 L1523.2 1015.3 L1523.8 1015.6 L1525.2 1015.9 L1526.0 1017.3 L1527.0 1019.2 L1528.0 1020.2 L1528.4 1021.0 L1529.6 1021.5 L1530.3 1022.8 L1531.4 1023.7 L1532.7 1024.5 L1533.6 1025.5 L1534.4 1027.0 L1535.1 1028.1 L1535.8 1028.8 L1536.9 1029.8 L1538.2 1031.6 L1539.0 1032.7 L1539.5 1032.7 L1540.4 1035.1 L1541.6 1036.3 L1542.4 1036.5 L1543.6 1038.3 L1544.4 1038.9 L1545.3 1039.6 L1546.6 1041.7 L1547.2 1041.7 L1548.4 1043.3 L1549.2 1044.4 L1549.7 1046.1 L1550.6 1047.5 L1551.4 1047.7 L1552.1 1048.6 L1553.4 1049.5 L1553.9 1050.6 L1554.7 1052.5 L1555.7 1054.1 L1556.8 1054.9 L1557.8 1056.8 L1558.2 1057.7 L1559.3 1057.9 L1560.2 1058.9 L1561.0 1061.4 L1561.8 1062.3 L1562.6 1063.0 L1563.1 1064.1 L1564.1 1065.8 L1565.3 1067.2 L1566.6 1069.2 L1567.9 1069.0 L1568.6 1070.2 L1569.2 1071.8 L1570.5 1072.5 L1571.2 1073.9 L1572.3 1074.4 L1573.8 1076.2 L1575.8 1079.7 L1577.5 1081.3 L1579.7 1083.4 L1580.7 1083.2 L1581.3 1085.5 L1582.5 1086.6 L1583.0 1087.6 L1584.9 1089.6 L1586.7 1091.0 L1587.6 1091.6 L1588.7 1093.9 L1589.4 1094.7 L1590.3 1095.4 L1590.8 1096.9 L1592.2 1098.3 L1592.9 1098.3 L1593.4 1099.6 L1594.4 1101.6 L1595.3 1102.3 L1596.0 1102.7 L1596.7 1105.0 L1598.8 1106.7 L1600.1 1108.1 L1600.5 1109.1 L1601.4 1110.6 L1602.9 1112.5 L1603.2 1113.0 L1603.8 1114.1 L1604.7 1115.9 L1605.4 1116.9 L1606.5 1118.0 L1606.9 1120.2 L1607.8 1121.2 L1608.6 1122.6 L1609.2 1123.2 L1610.7 1124.5 L1611.4 1125.6 L1612.0 1127.2 L1613.3 1127.9 L1614.2 1129.5 L1614.9 1131.1 L1616.3 1131.6 L1616.8 1133.3 L1618.1 1134.0 L1619.0 1134.8 L1620.1 1136.2 L1621.2 1136.9 L1621.7 1138.9 L1623.1 1139.9 L1624.3 1140.9 L1625.1 1142.2 L1626.4 1142.5 L1627.1 1143.1 L1628.2 1144.6 L1629.3 1146.1 L1630.7 1147.1 L1631.5 1147.2 L1632.5 1149.1 L1633.5 1149.8 L1634.4 1151.1 L1635.5 1152.1 L1636.5 1153.9 L1637.3 1154.4 L1638.3 1155.4 L1639.4 1157.1 L1640.0 1157.8 L1640.7 1159.2 L1642.8 1159.8 L1644.2 1163.1 L1646.6 1164.8 L1648.1 1166.2 L1650.0 1169.2 L1651.1 1168.9 L1651.9 1170.1 L1653.4 1172.4 L1654.5 1172.8 L1655.1 1173.3 L1656.1 1174.8 L1657.2 1175.9 L1658.5 1177.8 L1659.3 1178.7 L1660.3 1179.0 L1661.7 1179.7 L1662.2 1182.2 L1663.6 1182.4 L1664.8 1184.2 L1665.6 1185.1 L1666.4 1186.3 L1667.7 1186.6 L1668.4 1187.1 L1669.7 1188.3 L1671.0 1190.7 L1671.7 1191.3 L1673.0 1192.2 L1674.2 1193.0 L1675.2 1193.5 L1676.2 1195.2 L1676.9 1195.8 L1678.4 1197.5 L1679.1 1198.3 L1680.4 1199.6 L1681.0 1201.2 L1682.5 1202.1 L1683.5 1203.1 L1684.1 1204.6 L1685.3 1204.4 L1686.3 1205.9 L1686.7 1207.7 L1687.7 1208.1 L1688.6 1209.4 L1689.8 1211.0 L1691.0 1212.2 L1691.8 1212.6 L1692.9 1213.5 L1693.4 1215.2 L1694.3 1216.3 L1695.1 1216.9 L1695.9 1218.4 L1697.0 1220.1 L1698.0 1220.2 L1699.2 1221.3 L1700.2 1222.9 L1700.7 1224.3 L1702.2 1224.7 L1702.8 1226.1 L1704.0 1227.9 L1704.3 1228.0 L1705.8 1229.0 L1706.5 1230.3 L1707.1 1230.5 L1708.6 1232.1 L1709.2 1233.3 L1710.4 1234.9 L1710.8 1235.5 L1711.7 1236.4 L1713.2 1237.3 L1713.8 1238.9 L1715.0 1240.0 L1715.8 1240.1 L1716.8 1241.4 L1717.3 1241.9 L1718.9 1243.7 L1719.1 1244.9 L1720.6 1244.9 L1721.7 1246.2 L1722.2 1248.1 L1723.1 1248.6 L1724.1 1250.1 L1725.3 1251.5 L1726.3 1252.5 L1726.8 1252.8 L1728.1 1254.8 L1728.5 1255.6 L1729.5 1255.5 L1731.4 1258.7 L1733.3 1260.5 L1734.7 1261.6 L1735.5 1262.9 L1736.6 1263.3 L1737.8 1264.2 L1739.5 1265.9 L1740.8 1266.5 L1741.7 1266.9 L1742.8 1269.0 L1743.9 1269.9 L1745.1 1270.8 L1746.2 1272.0 L1747.3 1271.7 L1748.9 1273.7 L1750.2 1274.2 L1751.3 1274.9 L1752.3 1276.0 L1753.4 1276.7 L1754.6 1278.4 L1756.0 1279.1 L1757.2 1280.2 L1758.6 1280.7 L1759.7 1283.1 L1760.8 1283.7 L1762.3 1283.9 L1762.8 1285.5 L1764.5 1286.6 L1765.5 1287.4 L1766.7 1289.1 L1767.6 1289.8 L1768.8 1291.2 L1770.1 1292.1 L1771.3 1293.0 L1772.6 1294.5 L1773.8 1294.9 L1775.0 1295.6 L1776.5 1296.8 L1777.1 1297.6 L1778.7 1299.7 L1779.8 1300.8 L1780.7 1301.6 L1782.3 1301.5 L1783.0 1302.7 L1784.7 1303.8 L1786.3 1304.4 L1787.5 1305.5 L1788.9 1306.6 L1790.7 1307.2 L1791.8 1308.8 L1793.2 1309.8 L1795.0 1309.6 L1795.9 1311.3 L1797.3 1311.9 L1800.0 1313.2 L1801.5 1314.4 L1803.2 1315.3 L1805.0 1316.2 L1805.7 1316.5 L1807.9 1318.2 L1810.2 1318.4 L1812.7 1319.0 L1814.2 1319.3 L1816.0 1319.8 L1817.2 1320.5 L1818.8 1320.1 L1820.8 1321.5 L1822.5 1321.0 L1824.3 1321.8 L1826.1 1322.0 L1828.1 1321.5 L1829.7 1322.9 L1831.4 1323.0 L1833.0 1322.8 L1834.9 1323.2 L1836.3 1322.5 L1838.2 1323.7 L1839.9 1323.7 L1841.5 1323.9 L1842.8 1323.7 L1844.6 1322.6 L1846.5 1322.9 L1848.5 1323.7 L1849.9 1322.6 L1851.3 1323.0 L1853.1 1322.7 L1854.7 1322.9 L1856.6 1322.8 L1859.4 1324.5 L1861.3 1324.2 L1862.9 1324.9 L1863.8 1323.8 L1865.6 1324.8 L1867.6 1324.3 L1869.0 1325.7 L1870.2 1326.0 L1872.2 1325.3 L1873.6 1326.2 L1875.2 1326.0 L1876.6 1326.1 L1877.7 1327.1 L1880.7 1327.8 L1883.1 1329.3 L1884.9 1329.1 L1886.6 1330.2 L1887.9 1330.9 L1889.4 1331.4 L1890.9 1331.6 L1892.1 1332.6 L1894.6 1333.8 L1897.4 1335.2 L1900.4 1336.2 L1901.4 1336.8 L1903.1 1337.4 L1905.3 1337.0 L1906.4 1338.6 L1908.2 1339.0 L1910.3 1340.0 L1911.7 1340.4 L1913.7 1340.8 L1914.9 1341.6 L1916.6 1342.0 L1918.3 1341.9 L1919.7 1341.8 L1922.0 1342.9 L1923.5 1343.4 L1925.2 1344.0 L1926.4 1344.1 L1928.4 1344.2 L1930.3 1344.5 L1931.7 1346.0 L1933.5 1345.2 L1934.7 1346.2 L1936.6 1345.4 L1938.0 1346.3 L1939.6 1345.8 L1942.0 1345.7 L1943.6 1345.3 L1944.8 1345.3 L1946.8 1346.0 L1948.5 1346.3 L1950.2 1345.1 L1951.6 1344.9 L1953.6 1345.4 L1955.0 1346.1 L1957.0 1345.5 L1958.3 1345.8 L1960.3 1344.7 L1961.7 1345.6 L1963.7 1345.4 L1965.0 1344.0 L1967.0 1343.8 L1968.4 1343.8 L1970.3 1343.4 L1971.6 1343.7 L1973.5 1343.6 L1974.7 1341.8 L1976.8 1341.9 L1978.6 1341.4 L1979.6 1340.9 L1981.5 1340.9 L1983.5 1340.5 L1984.7 1339.4 L1986.5 1339.4 L1988.3 1338.1 L1990.5 1336.5 L1992.1 1335.6 L1993.5 1335.1 L1995.1 1334.8 L1997.2 1335.0 L1999.8 1334.3 L2002.5 1335.2 L2003.2 1336.4 L2004.6 1337.4 L2005.4 1338.4 L2005.9 1340.0 L2006.8 1341.2 L2007.8 1343.6 L2009.1 1345.2 L2009.9 1345.4 L2011.8 1347.6 L2013.7 1350.0 L2014.9 1349.8 L2016.0 1351.3 L2016.9 1352.1 L2018.4 1354.1 L2019.5 1353.9 L2020.3 1354.9 L2021.8 1356.0 L2023.3 1356.8 L2025.2 1359.3 L2028.1 1360.5 L2029.3 1361.0 L2030.3 1361.6 L2031.5 1363.1 L2032.8 1363.8 L2034.0 1363.8 L2035.5 1365.4 L2036.4 1365.0 L2037.5 1365.8 L2039.0 1366.4 L2040.4 1367.2 L2043.1 1369.3 L2044.6 1368.4 L2046.8 1369.5 L2048.3 1369.8 L2049.5 1369.8 L2051.9 1370.2 L2053.2 1371.0 L2055.1 1371.4 L2057.0 1371.5 L2058.5 1372.9 L2060.2 1373.1 L2061.5 1373.1 L2063.4 1373.5 L2065.2 1372.4 L2066.9 1372.4 L2068.5 1373.3 L2070.0 1372.2 L2072.2 1372.3 L2073.8 1372.6 L2075.0 1373.0 L2076.8 1371.9 L2078.8 1372.7 L2080.0 1372.4 L2081.5 1371.7 L2083.5 1370.5 L2085.0 1370.1 L2086.8 1369.9 L2088.1 1369.8 L2089.5 1368.4 L2091.0 1369.1 L2092.3 1367.6 L2094.3 1366.8 L2095.8 1366.4 L2096.7 1366.4 L2098.6 1365.3 L2099.6 1364.1 L2100.9 1364.3 L2102.8 1363.1 L2104.0 1363.1 L2105.5 1362.3 L2107.0 1361.0 L2108.5 1360.9 L2109.5 1360.3 L2110.9 1359.2 L2112.7 1359.1 L2113.9 1358.4 L2115.5 1357.0 L2116.2 1357.2 L2117.6 1355.7 L2118.9 1355.1 L2120.8 1353.6 L2121.9 1353.4 L2123.4 1353.4 L2124.8 1351.3 L2126.0 1351.1 L2127.3 1350.8 L2128.9 1349.2 L2130.2 1348.6 L2132.1 1347.0 L2133.3 1346.4 L2134.4 1345.7 L2136.1 1345.2 L2137.8 1344.5 L2139.0 1343.9 L2140.1 1343.5 L2142.1 1342.5 L2143.5 1341.0 L2145.6 1340.0 L2147.0 1340.7 L2148.5 1339.8 L2150.2 1339.6 L2152.0 1338.3 L2153.2 1339.1 L2155.1 1338.9 L2156.8 1337.8 L2158.3 1338.1 L2160.2 1337.7 L2161.9 1336.8 L2163.6 1336.5 L2165.2 1337.9 L2166.3 1338.0 L2168.0 1338.2 L2170.2 1338.8 L2171.8 1338.8" stroke="#000000" stroke-width="6.00"/></g>
<g transform="scale(1 1.2727)"><path d="M229.5 1221.2 L231.1 1222.1 L232.6 1222.7 L233.6 1222.8 L235.4 1223.5 L236.8 1223.5 L238.7 1223.9 L240.9 1224.6 L242.7 1224.6 L244.9 1225.6 L246.8 1225.6 L248.4 1226.2 L249.7 1227.2 L250.8 1228.9 L252.2 1230.2 L253.2 1232.0 L253.4 1233.3 L254.1 1234.1 L254.5 1235.6 L255.2 1236.7 L255.9 1237.2 L256.1 1238.2 L256.6 1239.3 L257.4 1240.8 L258.0 1241.9 L259.2 1242.5 L260.5 1243.6 L261.5 1244.5 L263.0 1245.0 L265.6 1246.0 L267.3 1246.7 L268.8 1246.6 L270.7 1246.0 L272.4 1245.1 L274.2 1245.5 L276.1 1244.8 L278.2 1244.8 L279.7 1244.0 L281.5 1244.8 L283.1 1245.2 L285.3 1246.1 L286.8 1246.9 L288.3 1246.8 L290.0 1247.8 L291.5 1248.4 L293.2 1248.3 L294.8 1248.6 L296.4 1249.0 L299.5 1250.0 L302.2 1249.2 L304.2 1249.7 L305.4 1249.4 L307.1 1250.0 L308.6 1249.7 L310.0 1250.3 L311.6 1250.1 L313.6 1250.0 L315.2 1251.0 L316.9 1251.1 L318.3 1251.0 L320.0 1251.4 L321.7 1251.1 L323.6 1251.4 L325.2 1250.9 L326.5 1250.8 L328.1 1250.1 L329.7 1249.7 L331.3 1250.2 L333.4 1249.6 L335.0 1249.1 L337.5 1248.9 L340.8 1249.4 L342.1 1249.3 L343.8 1249.2 L345.3 1249.2 L346.8 1249.2 L348.3 1248.9 L350.1 1249.1 L351.4 1249.3 L353.1 1248.9 L355.7 1248.7 L358.7 1248.6 L361.6 1248.4 L364.6 1248.2 L366.0 1247.9 L367.8 1247.9 L369.3 1247.8 L371.2 1247.6 L373.9 1247.7 L376.6 1247.2 L379.4 1247.4 L381.3 1247.0 L382.7 1247.2 L384.3 1246.6 L385.9 1246.9 L387.4 1246.7 L388.9 1247.0 L390.5 1246.9 L391.7 1246.3 L393.5 1246.7 L394.9 1246.6 L396.6 1245.9 L398.0 1246.0 L399.3 1245.8 L400.9 1245.7 L402.4 1245.5 L404.0 1245.7 L405.6 1245.7 L406.9 1245.9 L408.3 1245.3 L409.9 1245.2 L411.3 1245.4 L412.9 1244.6 L414.6 1244.5 L416.0 1244.6 L417.5 1245.1 L419.2 1244.5 L420.7 1244.6 L422.0 1244.1 L423.7 1244.4 L425.5 1244.7 L427.0 1244.1 L428.7 1243.7 L430.0 1244.2 L431.8 1243.7 L433.4 1244.4 L434.8 1243.9 L437.7 1243.6 L440.8 1243.6 L443.2 1244.0 L444.7 1243.3 L446.5 1243.4 L448.3 1243.0 L450.9 1243.0 L452.7 1242.8 L454.8 1242.8 L457.3 1242.3 L460.0 1242.7 L462.4 1242.2 L464.1 1242.5 L465.8 1241.7 L467.2 1241.5 L469.1 1241.5 L470.6 1241.6 L472.3 1241.6 L474.1 1241.0 L475.8 1241.1 L477.5 1241.1 L479.1 1241.2 L481.0 1240.9 L482.9 1241.1 L484.4 1240.7 L486.4 1241.3 L488.4 1240.9 L489.8 1241.1 L492.8 1241.0 L495.9 1241.1 L497.4 1241.4 L498.9 1240.9 L500.7 1240.8 L502.0 1241.4 L503.4 1241.5 L505.4 1241.2 L506.8 1241.6 L508.7 1241.1 L510.1 1241.5 L511.7 1241.4 L513.2 1241.7 L515.1 1241.3 L516.5 1242.1 L518.4 1242.0 L519.6 1242.2 L521.6 1242.5 L523.1 1241.7 L524.7 1242.0 L526.1 1242.8 L527.7 1242.1 L530.4 1243.0 L533.1 1242.9 L535.0 1242.5 L536.8 1242.5 L538.2 1243.0 L539.8 1242.8 L541.6 1243.5 L543.3 1243.0 L544.6 1243.3 L546.2 1243.6 L549.4 1243.7 L551.9 1244.2 L554.8 1244.4 L557.9 1244.9 L560.8 1244.9 L563.6 1245.1 L565.1 1245.4 L566.7 1245.0 L568.1 1245.4 L569.8 1245.4 L571.3 1246.0 L572.6 1246.1 L574.1 1245.8 L575.8 1246.1 L577.5 1246.5 L578.7 1247.0 L580.1 1247.1 L581.6 1246.7 L583.6 1247.4 L584.7 1247.1 L586.6 1247.8 L588.0 1247.5 L589.5 1247.9 L590.8 1248.0 L592.5 1248.2 L593.9 1248.2 L595.6 1248.9 L597.1 1248.9 L598.7 1249.1 L600.0 1249.4 L601.6 1249.4 L602.8 1249.2 L604.4 1249.4 L606.2 1250.0 L607.7 1249.7 L609.1 1250.7 L610.6 1250.5 L612.1 1250.3 L613.5 1250.6 L615.1 1251.0 L616.8 1250.9 L618.0 1251.2 L619.5 1251.4 L621.1 1251.8 L622.5 1252.4 L624.1 1252.6 L625.8 1252.5 L627.2 1252.9 L628.6 1252.8 L630.2 1253.0 L631.9 1252.7 L633.2 1252.8 L634.7 1253.0 L636.3 1254.0 L637.8 1253.6 L639.4 1253.8 L641.0 1254.4 L642.2 1254.1 L644.0 1255.0 L645.5 1254.7 L647.2 1254.5 L648.3 1255.4 L650.0 1254.9 L651.5 1256.0 L653.0 1255.6 L654.4 1255.5 L656.3 1256.1 L657.8 1255.8 L659.0 1256.0 L660.6 1256.2 L662.0 1256.6 L663.6 1256.5 L665.0 1257.5 L666.5 1257.2 L668.2 1257.3 L669.5 1257.2 L671.1 1257.5 L673.0 1257.7 L674.4 1257.4 L675.6 1257.8 L677.3 1257.9 L678.8 1258.0 L680.4 1258.4 L681.8 1258.0 L683.5 1257.9 L684.7 1258.0 L686.2 1258.5 L688.0 1258.1 L689.2 1257.9 L690.8 1258.0 L692.4 1258.5 L693.8 1258.0 L695.6 1258.0 L696.8 1258.3 L698.4 1258.1 L700.0 1258.3 L701.7 1258.5 L703.3 1258.6 L704.8 1258.5 L706.2 1258.7 L707.8 1258.8 L709.5 1258.5 L710.8 1258.6 L712.5 1257.9 L713.9 1257.9 L715.6 1258.3 L717.2 1257.6 L719.0 1258.0 L720.1 1257.5 L721.7 1257.7 L723.6 1258.2 L725.0 1257.4 L727.8 1257.4 L730.6 1256.9 L733.3 1257.5 L735.3 1256.6 L737.1 1256.6 L739.0 1256.7 L740.8 1256.9 L742.1 1256.3 L744.1 1256.4 L745.4 1256.2 L747.1 1256.5 L748.5 1256.3 L750.1 1255.3 L751.8 1255.4 L753.1 1255.7 L754.8 1255.0 L756.7 1254.9 L759.4 1253.6 L762.2 1252.8 L763.7 1252.5 L765.2 1251.9 L766.4 1251.5 L768.2 1251.5 L769.6 1250.8 L770.8 1249.9 L772.5 1249.7 L773.6 1248.9 L775.1 1249.0 L777.1 1248.0 L778.6 1247.7 L780.1 1247.8 L781.7 1247.3 L783.2 1246.2 L786.1 1246.3 L788.8 1245.7 L791.8 1244.9 L793.3 1245.1 L794.9 1245.3 L796.4 1245.4 L798.2 1245.2 L799.7 1244.8 L801.2 1244.8 L802.6 1244.4 L804.4 1244.2 L805.7 1243.6 L807.2 1243.7 L809.0 1244.0 L810.6 1243.4 L812.3 1243.2 L813.7 1242.8 L815.3 1243.1 L816.9 1243.1 L818.3 1242.9 L819.9 1242.4 L821.2 1242.1 L823.0 1241.6 L824.6 1241.6 L825.9 1240.8 L827.5 1240.8 L829.2 1241.2 L830.9 1240.6 L832.2 1239.9 L833.9 1240.0 L835.4 1239.6 L837.0 1239.2 L838.3 1238.9 L839.9 1239.2 L841.2 1238.7 L843.0 1238.0 L844.1 1238.0 L847.4 1237.7 L850.1 1236.6 L851.6 1236.3 L853.5 1235.7 L854.8 1235.6 L856.7 1234.7 L857.8 1234.2 L859.5 1234.2 L860.9 1233.4 L862.6 1233.3 L864.1 1232.9 L865.2 1232.2 L867.0 1232.2 L868.2 1231.7 L869.8 1231.3 L871.0 1230.6 L874.1 1229.6 L876.5 1228.6 L878.1 1228.1 L879.6 1228.2 L881.1 1227.9 L882.9 1227.6 L884.4 1227.2 L885.9 1227.0 L888.6 1226.4 L891.2 1224.9 L894.0 1224.5 L897.1 1224.2 L900.1 1224.0 L901.5 1223.4 L903.3 1223.1 L904.8 1223.1 L906.6 1223.0 L908.3 1223.1 L910.2 1222.0 L911.8 1222.5 L913.2 1221.8 L915.0 1221.9 L916.7 1222.3 L918.2 1221.7 L920.0 1222.0 L921.8 1221.9 L923.2 1221.6 L925.2 1221.9 L926.5 1221.8 L928.2 1222.1 L929.9 1221.9 L931.6 1222.2 L933.7 1222.4 L935.1 1223.0 L936.7 1222.6 L938.7 1222.5 L940.4 1223.1 L941.7 1223.3 L943.5 1223.6 L945.1 1223.6 L946.6 1224.8 L948.2 1224.7 L949.5 1224.9 L951.4 1225.7 L952.6 1225.5 L953.9 1226.7 L955.3 1226.9 L956.9 1227.5 L958.1 1227.4 L959.2 1228.6 L960.8 1229.2 L962.4 1229.8 L963.6 1230.4 L965.3 1230.8 L966.5 1231.2 L968.1 1231.9 L969.7 1231.6 L970.9 1232.2 L972.4 1232.7 L973.9 1233.0 L975.2 1233.8 L976.6 1234.2 L978.5 1235.2 L979.7 1234.9 L981.5 1236.3 L982.9 1236.0 L984.2 1237.3 L986.0 1236.9 L987.1 1237.8 L988.5 1238.6 L989.9 1239.1 L991.3 1239.4 L993.2 1240.1 L994.2 1240.1 L995.9 1240.9 L997.2 1241.6 L998.7 1242.6 L999.9 1242.8 L1001.3 1243.3 L1002.9 1243.4 L1004.1 1244.5 L1005.3 1245.0 L1007.0 1245.3 L1008.6 1246.0 L1009.8 1246.1 L1011.4 1246.4 L1013.1 1246.5 L1014.7 1247.3 L1016.5 1248.1 L1018.0 1248.1 L1019.9 1248.8 L1021.7 1249.2 L1023.0 1248.8 L1025.0 1249.0 L1026.5 1249.9 L1028.3 1249.8 L1030.1 1250.0 L1031.6 1250.7 L1033.1 1250.5 L1035.0 1250.9 L1036.5 1250.9 L1038.1 1250.7 L1039.9 1250.9 L1041.9 1251.1 L1043.2 1251.7 L1045.1 1251.3 L1046.8 1251.7 L1048.3 1251.8 L1049.9 1251.5 L1051.9 1251.7 L1053.6 1251.5 L1054.9 1251.4 L1056.8 1251.9 L1058.1 1251.5 L1060.2 1251.9 L1061.9 1251.5 L1063.5 1251.6 L1065.3 1252.1 L1066.9 1251.7 L1068.8 1251.6 L1070.0 1252.1 L1071.7 1251.5 L1073.6 1252.0 L1075.4 1251.9 L1076.6 1251.8 L1078.6 1251.2 L1080.1 1251.2 L1081.7 1250.8 L1083.6 1251.1 L1085.4 1250.8 L1086.7 1250.3 L1088.4 1250.7 L1090.1 1249.7 L1091.8 1249.4 L1093.4 1249.6 L1095.2 1248.8 L1096.5 1248.7 L1098.4 1248.3 L1100.0 1248.3 L1101.3 1247.3 L1102.9 1247.2 L1104.5 1246.8 L1105.9 1246.2 L1107.4 1246.2 L1108.6 1245.0 L1110.1 1244.7 L1111.8 1244.2 L1113.2 1244.0 L1114.7 1243.0 L1116.1 1242.7 L1117.1 1242.5 L1120.2 1241.5 L1121.3 1241.3 L1123.0 1240.5 L1124.7 1239.5 L1126.0 1239.0 L1127.3 1238.2 L1129.1 1238.0 L1130.5 1237.1 L1131.7 1236.7 L1134.6 1236.2 L1136.9 1234.9 L1137.9 1234.0 L1139.4 1232.8 L1140.6 1232.2 L1141.5 1231.5 L1144.1 1230.6 L1146.7 1229.3 L1149.7 1229.7 L1151.1 1230.1 L1152.9 1231.0 L1154.4 1231.4 L1156.1 1232.7 L1157.8 1232.7 L1159.7 1234.1 L1161.4 1234.4 L1163.5 1234.7 L1166.1 1235.7 L1168.5 1235.9 L1171.7 1237.0 L1174.3 1238.2 L1175.8 1238.1 L1177.1 1238.7 L1178.6 1238.9 L1180.4 1239.4 L1181.6 1239.4 L1183.4 1240.3 L1185.8 1241.3 L1188.7 1241.4 L1190.1 1242.1 L1191.7 1242.9 L1193.0 1243.2 L1194.4 1243.5 L1195.9 1243.8 L1197.3 1244.6 L1198.9 1245.0 L1200.5 1245.3 L1202.1 1245.6 L1203.8 1246.4 L1205.0 1246.2 L1206.9 1246.3 L1209.5 1247.2 L1212.6 1247.4 L1215.4 1248.5 L1216.9 1248.0 L1218.5 1248.5 L1220.0 1249.1 L1221.3 1249.4 L1222.9 1249.2 L1224.4 1249.5 L1225.9 1249.8 L1227.5 1249.6 L1228.8 1249.6 L1230.5 1250.5 L1232.0 1250.0 L1233.3 1250.6 L1234.8 1250.5 L1236.9 1251.3 L1238.2 1251.5 L1240.0 1251.3 L1241.7 1251.3 L1243.2 1251.3 L1245.0 1252.0 L1246.8 1252.1 L1248.3 1252.0 L1250.1 1252.2 L1251.7 1252.7 L1253.3 1252.8 L1254.8 1252.6 L1256.8 1252.6 L1258.1 1252.6 L1260.1 1252.8 L1261.6 1253.3 L1263.5 1253.5 L1265.0 1253.2 L1266.7 1254.0 L1268.3 1254.2 L1269.9 1254.3 L1271.7 1254.3 L1272.9 1254.7 L1275.0 1254.1 L1276.2 1254.4 L1277.9 1254.5 L1279.6 1254.5 L1281.3 1254.8 L1283.1 1255.1 L1284.9 1254.7 L1286.9 1255.4 L1289.6 1254.8 L1292.4 1255.1 L1295.3 1254.7 L1298.3 1255.4 L1301.4 1255.4 L1302.9 1255.3 L1304.5 1255.4 L1306.0 1254.9 L1307.4 1255.1 L1309.1 1255.1 L1310.4 1254.5 L1311.9 1254.5 L1313.6 1255.0 L1315.0 1254.7 L1316.9 1254.4 L1319.4 1254.5 L1321.1 1254.0 L1322.6 1253.8 L1324.1 1254.1 L1325.6 1253.6 L1327.4 1254.4 L1329.1 1253.7 L1330.8 1253.3 L1332.0 1253.2 L1333.6 1253.6 L1335.5 1253.4 L1337.1 1253.2 L1338.7 1253.2 L1340.0 1252.7 L1341.5 1252.8 L1344.7 1252.3 L1347.2 1252.5 L1349.8 1251.9 L1351.6 1251.8 L1353.4 1251.0 L1355.1 1251.0 L1356.4 1251.1 L1358.1 1250.3 L1359.6 1249.8 L1362.3 1249.1 L1365.1 1249.2 L1367.8 1247.7 L1370.5 1247.4 L1373.3 1246.4 L1374.7 1246.3 L1376.1 1246.1 L1377.7 1245.4 L1379.1 1245.0 L1381.0 1244.6 L1382.2 1244.2 L1384.1 1243.6 L1385.3 1243.3 L1387.0 1243.1 L1388.2 1243.1 L1389.8 1242.5 L1391.3 1242.2 L1393.9 1240.7 L1396.6 1239.9 L1398.5 1239.5 L1399.8 1238.9 L1401.5 1238.3 L1402.8 1237.8 L1404.3 1236.9 L1405.6 1236.0 L1406.9 1236.0 L1408.2 1234.9 L1409.6 1234.4 L1410.6 1233.6 L1412.2 1232.5 L1413.1 1232.5 L1415.0 1231.0 L1416.0 1230.7 L1417.5 1229.9 L1418.8 1229.0 L1420.2 1228.0 L1421.8 1227.3 L1423.2 1226.7 L1424.3 1225.7 L1425.3 1224.2 L1426.6 1223.2 L1428.1 1221.6 L1429.0 1220.5 L1430.0 1219.6 L1430.5 1218.4 L1431.5 1216.6 L1432.0 1216.0 L1432.6 1214.5 L1433.1 1213.4 L1434.1 1212.2 L1434.5 1211.2 L1435.3 1210.0 L1436.0 1208.4 L1436.5 1207.7 L1437.4 1206.1 L1438.0 1205.3 L1438.6 1204.5 L1439.4 1202.8 L1439.9 1202.0 L1440.4 1201.1 L1441.0 1199.5 L1441.8 1198.4 L1442.3 1196.9 L1443.4 1196.3 L1443.7 1194.8 L1444.2 1193.3 L1444.9 1193.0 L1445.5 1191.1 L1445.9 1189.8 L1446.9 1189.2 L1447.4 1188.2 L1447.8 1186.5 L1448.4 1184.3 L1449.2 1182.1 L1450.3 1180.2 L1450.7 1177.8 L1451.5 1177.1 L1451.8 1175.9 L1452.3 1174.5 L1452.4 1173.3 L1452.8 1171.5 L1453.2 1170.7 L1453.8 1168.2 L1454.5 1166.3 L1455.6 1164.1 L1455.9 1163.2 L1456.1 1161.6 L1456.4 1160.4 L1456.8 1159.8 L1457.2 1158.0 L1457.3 1156.5 L1457.8 1155.5 L1457.9 1154.4 L1458.3 1153.1 L1458.8 1152.2 L1459.0 1151.1 L1459.3 1150.0 L1459.5 1148.5 L1460.1 1147.4 L1460.5 1145.2 L1460.8 1143.8 L1460.8 1142.2 L1461.2 1141.3 L1461.3 1140.3 L1461.6 1138.8 L1462.0 1137.9 L1462.1 1136.4 L1462.4 1135.3 L1462.5 1133.7 L1462.8 1132.8 L1463.1 1131.1 L1463.2 1130.3 L1463.3 1128.6 L1463.9 1127.4 L1463.9 1126.4 L1463.9 1125.2 L1464.4 1123.1 L1465.2 1120.6 L1465.2 1119.9 L1465.6 1118.0 L1465.7 1117.1 L1466.3 1116.0 L1466.5 1113.8 L1467.1 1111.3 L1467.7 1109.6 L1468.2 1107.2 L1468.9 1105.3 L1469.1 1103.3 L1469.4 1102.7 L1469.6 1101.4 L1469.9 1100.1 L1470.6 1098.0 L1471.3 1095.8 L1471.5 1094.6 L1471.6 1093.3 L1472.1 1091.6 L1472.4 1090.6 L1472.6 1089.7 L1473.0 1088.7 L1473.2 1087.7 L1473.5 1086.1 L1474.1 1084.6 L1474.3 1084.0 L1474.3 1082.6 L1474.9 1081.2 L1475.3 1080.2 L1475.3 1078.7 L1475.8 1077.6 L1476.3 1076.5 L1476.6 1074.6 L1476.7 1074.2 L1477.2 1072.9 L1477.2 1071.7 L1477.6 1070.4 L1478.0 1069.4 L1478.3 1068.3 L1478.5 1066.7 L1478.9 1065.5 L1478.9 1064.7 L1479.3 1063.1 L1479.5 1061.6 L1480.2 1060.5 L1480.2 1059.8 L1480.5 1058.5 L1480.9 1057.5 L1481.2 1055.8 L1481.4 1054.6 L1481.6 1053.2 L1481.9 1052.2 L1482.5 1051.6 L1482.6 1049.7 L1482.9 1048.9 L1483.3 1047.2 L1483.6 1046.2 L1483.7 1045.5 L1484.0 1044.0 L1484.6 1042.9 L1485.0 1041.5 L1485.3 1040.0 L1485.6 1039.2 L1485.4 1037.8 L1486.2 1037.1 L1486.4 1036.0 L1486.3 1034.3 L1486.8 1033.7 L1487.3 1031.8 L1487.7 1031.0 L1487.7 1029.4 L1488.0 1028.6 L1488.3 1027.2 L1488.9 1026.2 L1488.9 1025.3 L1489.2 1023.7 L1489.5 1022.4 L1490.2 1021.5 L1490.4 1020.4 L1490.8 1019.1 L1491.0 1017.5 L1491.2 1016.3 L1491.8 1015.0 L1492.3 1014.1 L1492.5 1012.9 L1493.0 1011.6 L1493.5 1010.7 L1493.5 1009.1 L1494.3 1008.4 L1494.4 1007.4 L1494.7 1006.3 L1495.5 1004.9 L1495.5 1003.5 L1496.3 1002.5 L1496.3 1001.0 L1496.7 1000.0 L1497.1 998.8 L1497.8 998.0 L1497.9 996.7 L1498.1 995.7 L1498.8 994.1 L1499.1 992.7 L1499.5 991.6 L1499.8 990.9 L1500.1 989.6 L1500.0 988.0 L1500.9 986.3 L1501.5 983.2 L1501.6 982.3 L1501.8 981.0 L1502.2 980.0 L1502.4 978.9 L1503.0 977.8 L1503.2 977.0 L1503.2 975.7 L1503.5 973.8 L1504.1 973.1 L1504.4 971.6 L1504.8 970.2 L1504.9 968.8 L1505.4 966.3 L1506.1 966.0 L1506.1 964.3 L1506.4 963.4 L1506.8 961.6 L1507.3 961.1 L1507.3 959.3 L1507.7 958.2 L1508.1 956.6 L1508.4 955.6 L1508.8 954.2 L1509.2 952.9 L1509.7 951.6 L1510.0 950.8 L1510.2 949.2 L1510.6 948.1 L1510.7 946.6 L1511.0 945.0 L1511.6 944.1 L1511.7 942.6 L1511.9 942.1 L1512.6 939.6 L1513.4 938.0 L1513.8 936.0 L1514.3 934.5 L1514.5 933.7 L1514.8 932.7 L1515.3 931.4 L1515.5 930.4 L1516.3 928.0 L1517.2 925.6 L1517.7 923.5 L1518.8 921.6 L1518.9 920.4 L1519.3 919.0 L1519.4 917.6 L1520.0 916.8 L1520.8 914.6 L1521.4 912.7 L1521.5 911.0 L1521.8 909.7 L1522.3 908.7 L1522.3 907.9 L1522.8 906.4 L1523.1 905.1 L1523.4 903.4 L1523.5 902.7 L1523.9 900.9 L1524.4 900.3 L1524.7 898.7 L1524.7 897.8 L1525.0 896.5 L1525.6 894.9 L1525.6 894.0 L1526.2 892.8 L1526.9 890.2 L1527.1 889.2 L1527.4 887.8 L1527.6 886.8 L1528.1 885.9 L1528.4 884.3 L1528.8 883.3 L1529.0 881.7 L1529.4 880.7 L1529.4 879.3 L1529.9 878.6 L1530.4 877.2 L1530.8 875.9 L1530.9 875.2 L1531.4 873.7 L1531.8 872.2 L1532.0 871.8 L1532.8 868.9 L1533.4 866.9 L1533.9 865.4 L1534.1 864.4 L1534.7 862.8 L1534.8 861.3 L1535.3 860.0 L1535.8 858.7 L1535.9 858.2 L1536.5 856.7 L1536.8 855.0 L1537.2 854.4 L1537.5 853.0 L1538.2 851.6 L1538.3 850.4 L1538.9 849.1 L1539.3 846.9 L1540.2 844.7 L1540.2 843.0 L1540.8 841.5 L1540.9 839.7 L1541.4 837.9 L1541.7 835.9 L1542.3 834.4 L1542.5 833.4 L1543.0 831.9 L1543.4 830.3 L1544.0 828.0 L1544.2 826.6 L1545.2 823.6 L1545.6 823.0 L1545.9 821.9 L1546.0 820.1 L1546.6 819.5 L1546.8 817.8 L1547.1 817.2 L1547.6 815.2 L1548.2 814.6 L1548.2 812.6 L1548.8 811.5 L1549.1 810.4 L1549.4 809.1 L1549.7 807.4 L1550.3 806.3 L1550.8 804.8 L1551.2 803.7 L1551.3 802.3 L1551.6 801.9 L1552.0 800.5 L1552.6 799.2 L1552.6 797.8 L1552.9 796.4 L1553.4 795.1 L1553.9 794.2 L1554.0 792.8 L1554.3 791.5 L1554.8 790.2 L1555.2 789.2 L1555.6 788.0 L1556.0 787.4 L1556.4 785.5 L1556.8 784.6 L1557.1 783.4 L1557.3 782.0 L1557.7 780.9 L1558.1 780.0 L1558.2 778.2 L1558.5 777.3 L1558.9 776.3 L1559.1 775.0 L1559.8 774.2 L1560.1 772.8 L1560.4 771.9 L1560.8 770.2 L1561.0 769.4 L1561.4 767.9 L1561.6 766.8 L1562.1 765.9 L1562.7 764.7 L1563.0 762.7 L1562.9 761.8 L1563.6 760.8 L1563.7 759.2 L1564.0 758.0 L1564.3 757.4 L1564.7 755.7 L1565.2 754.5 L1565.7 753.8 L1566.1 752.6 L1566.3 751.0 L1566.5 749.9 L1566.9 749.2 L1567.2 747.8 L1567.7 745.9 L1567.8 745.2 L1568.4 743.6 L1568.5 742.6 L1568.9 741.4 L1569.5 740.4 L1569.5 739.0 L1569.9 737.6 L1570.2 736.3 L1570.6 735.8 L1571.1 734.4 L1571.1 733.1 L1571.6 731.5 L1571.9 730.6 L1572.0 729.3 L1572.7 728.3 L1572.7 726.6 L1573.2 725.7 L1573.4 724.4 L1573.8 723.3 L1574.3 721.9 L1574.5 720.8 L1574.8 719.3 L1575.0 718.7 L1575.2 717.3 L1575.6 715.9 L1576.0 714.5 L1576.2 714.0 L1576.5 712.1 L1577.2 711.0 L1577.2 710.2 L1578.0 708.4 L1578.2 707.4 L1578.7 706.3 L1579.0 705.2 L1579.0 703.8 L1579.6 702.3 L1579.6 701.9 L1580.4 700.4 L1580.3 699.2 L1581.1 698.1 L1581.3 696.6 L1581.6 695.9 L1581.9 693.9 L1582.1 693.5 L1582.7 692.3 L1582.8 690.3 L1583.4 689.5 L1583.6 688.1 L1584.1 687.4 L1584.4 685.9 L1584.6 684.7 L1585.0 683.4 L1585.3 682.8 L1585.8 680.8 L1586.1 680.3 L1586.3 679.2 L1586.9 677.2 L1587.1 676.3 L1587.4 675.3 L1587.9 674.2 L1588.3 672.6 L1588.6 671.6 L1588.6 670.8 L1589.2 669.1 L1589.7 668.1 L1589.9 667.4 L1590.1 665.8 L1590.5 664.3 L1590.9 663.8 L1591.3 661.9 L1591.7 661.0 L1591.8 659.9 L1592.2 658.7 L1592.6 657.5 L1592.9 655.7 L1593.2 654.4 L1593.8 654.0 L1593.9 652.2 L1594.4 651.5 L1594.5 649.8 L1594.9 648.5 L1595.1 647.5 L1595.4 646.1 L1595.9 645.0 L1596.4 644.4 L1596.6 642.5 L1597.0 641.3 L1597.4 640.2 L1597.6 639.3 L1597.9 638.0 L1598.1 636.2 L1598.4 635.8 L1598.6 633.9 L1599.0 632.8 L1599.6 631.3 L1599.6 630.0 L1600.0 629.4 L1600.4 628.2 L1600.7 626.7 L1601.0 625.2 L1601.6 624.7 L1601.5 623.0 L1602.2 622.1 L1602.5 621.1 L1602.6 619.9 L1602.9 618.0 L1603.6 617.4 L1603.7 615.8 L1604.2 614.5 L1604.4 614.0 L1604.6 612.8 L1605.4 611.6 L1605.4 609.7 L1605.8 608.5 L1606.4 607.7 L1606.7 606.4 L1606.9 605.7 L1607.1 603.8 L1607.8 602.9 L1608.1 602.1 L1608.4 600.6 L1608.7 599.3 L1608.8 598.0 L1609.5 597.0 L1609.4 595.9 L1610.2 594.7 L1610.3 593.3 L1610.8 592.3 L1611.0 591.3 L1611.6 590.0 L1611.8 588.8 L1611.9 587.3 L1612.3 585.9 L1613.0 584.7 L1613.3 584.1 L1613.4 582.1 L1613.6 581.5 L1614.2 580.0 L1614.5 578.6 L1614.9 578.0 L1615.3 576.6 L1615.6 574.9 L1615.8 574.0 L1616.0 572.5 L1616.8 571.9 L1616.9 570.7 L1617.4 569.4 L1617.6 568.0 L1618.2 567.3 L1618.1 566.0 L1618.7 564.4 L1619.1 563.1 L1619.5 562.2 L1619.7 560.5 L1620.2 560.2 L1620.5 558.4 L1620.8 557.0 L1621.1 556.1 L1621.4 554.8 L1621.5 553.8 L1621.9 552.3 L1622.3 551.1 L1622.5 550.7 L1622.9 549.4 L1623.4 547.5 L1623.7 546.7 L1623.9 545.5 L1624.2 544.1 L1624.9 543.4 L1625.1 541.7 L1625.8 540.4 L1625.8 539.1 L1626.5 538.0 L1626.8 537.3 L1627.1 535.4 L1627.4 534.4 L1627.8 533.5 L1628.4 532.4 L1628.5 531.3 L1628.9 529.6 L1629.4 528.5 L1629.5 527.4 L1630.0 525.8 L1630.4 525.5 L1630.8 523.8 L1631.2 522.9 L1631.6 521.4 L1632.0 520.1 L1632.5 519.0 L1632.9 517.7 L1633.2 516.3 L1633.6 515.4 L1633.7 513.8 L1634.3 513.2 L1634.9 512.0 L1635.3 510.9 L1635.4 508.9 L1635.8 508.2 L1636.2 506.5 L1636.5 505.8 L1636.9 504.0 L1637.5 503.3 L1637.5 502.0 L1638.1 500.8 L1638.5 499.8 L1639.0 498.7 L1639.1 496.7 L1639.5 495.5 L1639.9 494.7 L1640.3 493.8 L1640.7 492.5 L1640.8 491.3 L1641.3 489.6 L1641.8 488.6 L1642.0 487.1 L1642.5 486.1 L1642.8 485.2 L1643.0 483.8 L1643.4 482.2 L1643.9 481.6 L1643.9 479.6 L1644.4 478.4 L1644.8 477.4 L1645.1 476.6 L1645.6 475.5 L1645.8 473.8 L1646.4 472.9 L1646.7 471.1 L1647.0 470.3 L1647.7 469.1 L1648.0 468.1 L1648.2 466.6 L1648.8 465.6 L1649.0 463.9 L1649.6 462.8 L1649.8 461.6 L1650.4 460.7 L1651.0 459.5 L1651.2 458.6 L1651.4 457.1 L1652.3 455.6 L1652.3 454.2 L1652.7 453.6 L1653.3 452.5 L1653.9 450.5 L1654.1 449.5 L1654.5 448.1 L1654.9 447.2 L1655.4 446.1 L1656.1 444.5 L1656.1 444.0 L1656.6 442.4 L1657.0 441.5 L1657.7 440.0 L1657.7 438.5 L1658.4 437.5 L1658.6 436.1 L1658.8 435.0 L1659.5 433.8 L1659.7 432.5 L1660.5 430.4 L1661.1 428.5 L1661.7 425.6 L1662.5 423.9 L1662.6 422.4 L1663.3 421.4 L1663.4 419.9 L1663.7 419.1 L1664.4 418.0 L1664.7 416.6 L1664.6 415.3 L1665.1 413.8 L1665.4 413.3 L1666.1 411.3 L1666.1 410.9 L1666.5 408.9 L1666.9 407.5 L1667.2 406.4 L1667.9 404.6 L1668.2 403.3 L1668.7 402.5 L1669.2 400.7 L1669.4 398.9 L1669.9 396.8 L1670.7 394.7 L1671.2 392.4 L1672.0 389.6 L1672.3 388.6 L1672.4 387.6 L1672.9 386.6 L1673.1 385.3 L1673.4 384.0 L1673.7 383.1 L1674.0 381.4 L1674.3 380.2 L1674.8 378.9 L1674.9 378.3 L1675.4 376.5 L1675.7 375.8 L1676.2 374.6 L1676.5 372.9 L1676.8 371.3 L1677.2 370.8 L1677.6 369.6 L1677.8 368.3 L1678.0 366.8 L1678.3 365.9 L1678.8 364.0 L1679.4 363.1 L1679.3 362.1 L1679.9 360.6 L1680.3 359.1 L1680.4 358.1 L1680.7 357.0 L1681.2 355.3 L1681.4 354.0 L1681.9 353.5 L1682.4 352.2 L1682.6 351.0 L1682.9 349.4 L1683.5 348.1 L1683.7 347.2 L1683.8 346.0 L1684.5 345.1 L1684.7 343.9 L1684.9 342.7 L1685.5 341.4 L1685.8 340.0 L1686.3 338.5 L1686.4 337.8 L1687.1 336.1 L1687.3 335.2 L1687.6 334.3 L1688.0 333.0 L1688.4 331.2 L1689.0 330.0 L1689.0 328.7 L1689.5 327.5 L1689.8 327.2 L1690.2 325.8 L1690.6 323.9 L1690.9 322.8 L1691.7 321.9 L1691.8 320.4 L1692.3 319.4 L1692.5 318.3 L1693.2 317.1 L1693.5 315.7 L1693.9 314.4 L1694.4 314.0 L1694.6 312.4 L1694.9 311.5 L1695.4 310.3 L1695.7 308.8 L1696.3 307.4 L1696.5 306.3 L1696.8 305.7 L1697.2 304.4 L1697.5 303.4 L1698.1 302.0 L1698.3 300.7 L1699.0 299.3 L1699.0 298.2 L1699.7 297.4 L1699.8 295.8 L1700.6 294.6 L1700.6 293.9 L1701.3 292.3 L1701.7 291.3 L1702.2 289.6 L1702.5 289.1 L1702.9 287.5 L1703.1 286.7 L1703.8 285.3 L1704.0 284.1 L1704.6 282.6 L1704.6 281.4 L1705.0 280.0 L1705.6 278.9 L1706.0 278.0 L1706.6 276.3 L1707.0 275.1 L1707.1 274.3 L1707.8 272.8 L1708.1 271.9 L1708.3 270.5 L1709.0 268.8 L1709.0 268.4 L1709.6 266.8 L1710.1 265.6 L1710.2 264.3 L1710.9 263.4 L1711.1 261.6 L1711.8 260.5 L1711.8 260.0 L1712.5 258.8 L1712.7 257.7 L1713.2 256.3 L1713.7 255.2 L1713.9 253.8 L1714.5 252.5 L1714.9 250.7 L1715.7 248.7 L1716.6 246.1 L1717.1 244.9 L1717.7 243.3 L1718.1 242.8 L1718.4 240.8 L1718.9 239.4 L1719.3 239.0 L1720.2 236.8 L1720.6 236.1 L1720.8 235.1 L1721.3 233.7 L1722.0 232.5 L1722.3 230.7 L1723.0 229.6 L1723.4 228.8 L1723.6 227.6 L1724.6 226.1 L1724.9 224.8 L1725.5 223.5 L1725.6 222.6 L1726.2 221.5 L1726.6 220.6 L1727.2 219.0 L1727.8 217.5 L1728.3 217.1 L1728.9 214.5 L1729.7 212.7 L1731.0 210.4 L1731.9 208.2 L1732.7 206.5 L1733.5 204.2 L1733.9 202.4 L1734.8 200.9 L1735.2 200.1 L1735.5 198.5 L1736.2 196.9 L1736.8 196.0 L1737.4 195.2 L1738.1 194.2 L1738.7 191.7 L1739.9 189.8 L1740.7 187.2 L1741.9 185.0 L1742.5 184.0 L1742.9 182.6 L1743.6 182.3 L1744.1 180.5 L1744.6 179.8 L1744.8 177.7 L1746.0 176.5 L1746.6 174.1 L1747.4 172.6 L1747.7 171.5 L1748.3 170.0 L1749.0 169.4 L1749.2 168.1 L1749.9 167.2 L1750.6 165.9 L1750.6 164.3 L1751.2 163.4 L1751.7 162.2 L1752.4 160.9 L1753.1 159.9 L1753.5 158.5 L1753.9 157.2 L1754.1 155.7 L1754.9 154.8 L1755.7 153.0 L1756.6 150.8 L1757.6 148.9 L1758.2 146.8 L1758.9 145.3 L1759.3 143.5 L1759.9 142.8 L1760.7 141.2 L1761.5 139.0 L1762.3 136.8 L1763.1 135.4 L1764.3 132.6 L1764.5 132.2 L1765.3 130.9 L1766.0 129.6 L1766.9 128.0 L1768.1 126.1 L1769.0 124.0 L1769.9 123.4 L1770.7 122.4 L1771.2 120.8 L1772.2 119.8 L1773.0 118.6 L1773.5 117.7 L1774.6 115.9 L1775.4 114.7 L1776.2 114.1 L1776.8 112.5 L1777.6 111.9 L1778.6 110.9 L1779.2 109.7 L1780.1 108.1 L1781.6 106.2 L1783.1 104.3 L1784.6 103.5 L1785.5 102.4 L1786.4 101.1 L1787.6 100.0 L1788.6 99.5 L1789.6 97.9 L1790.7 97.5 L1791.5 96.5 L1792.4 96.0 L1793.7 95.1 L1795.4 93.1 L1797.9 91.4 L1800.2 90.6 L1801.2 89.5 L1802.8 89.4 L1804.4 88.3 L1805.8 88.0 L1807.1 87.2 L1808.5 86.5 L1810.2 86.2 L1811.6 86.1 L1813.0 85.7 L1814.6 86.1 L1817.4 85.4 L1820.0 85.5 L1822.0 85.5 L1823.9 85.4 L1825.5 85.3 L1826.9 85.6 L1828.6 86.2 L1830.1 86.7 L1831.5 88.2 L1833.3 88.8 L1835.0 90.7 L1837.1 91.9 L1838.4 92.7 L1839.3 93.3 L1840.6 94.6 L1841.5 95.4 L1842.6 96.4 L1843.4 97.4 L1844.8 99.0 L1845.8 99.9 L1847.0 101.1 L1848.1 102.0 L1849.1 103.7 L1850.0 104.8 L1851.2 106.1 L1852.6 108.7 L1854.1 110.3 L1855.5 112.6 L1857.1 114.1 L1857.7 115.1 L1858.6 116.1 L1859.3 117.5 L1859.6 119.0 L1860.3 119.9 L1861.0 120.5 L1862.0 122.4 L1862.7 123.4 L1863.3 124.2 L1864.2 125.6 L1864.7 126.6 L1865.2 128.3 L1866.0 129.6 L1866.6 130.5 L1867.7 132.8 L1868.5 134.8 L1869.7 137.3 L1870.6 138.8 L1871.6 141.4 L1872.6 144.0 L1873.0 144.7 L1873.3 145.5 L1873.9 146.7 L1874.4 147.8 L1875.2 149.4 L1875.5 150.6 L1875.9 152.0 L1876.6 152.8 L1876.7 153.6 L1877.2 155.5 L1877.7 156.5 L1878.4 157.6 L1878.8 159.4 L1879.6 160.4 L1879.9 161.9 L1880.5 162.4 L1880.7 163.6 L1881.2 165.1 L1881.9 166.2 L1882.1 167.6 L1882.8 169.4 L1883.5 170.6 L1884.0 172.7 L1884.9 174.7 L1885.8 176.5 L1886.7 178.8 L1887.6 180.9 L1888.4 183.1 L1888.9 185.6 L1889.7 186.9 L1889.9 187.9 L1890.3 189.2 L1890.7 189.9 L1891.5 190.9 L1891.5 192.4 L1892.0 193.7 L1892.5 194.5 L1893.1 196.2 L1893.2 196.9 L1893.5 198.4 L1894.2 199.8 L1894.4 201.2 L1895.2 202.0 L1895.2 203.0 L1895.9 204.1 L1896.3 206.0 L1896.4 206.7 L1897.0 208.2 L1897.7 209.8 L1897.9 210.4 L1898.3 211.8 L1898.6 213.8 L1899.1 214.6 L1899.7 216.5 L1899.8 217.5 L1900.7 219.1 L1901.1 221.5 L1901.9 223.9 L1902.8 226.1 L1903.2 228.6 L1904.1 230.3 L1904.5 232.7 L1905.0 235.1 L1905.6 236.1 L1905.8 237.7 L1906.2 238.6 L1906.6 239.8 L1906.7 241.2 L1907.3 241.6 L1907.6 242.8 L1907.9 244.4 L1908.2 245.3 L1908.3 246.4 L1908.5 247.5 L1908.8 249.4 L1909.3 250.6 L1909.9 251.4 L1909.8 253.0 L1910.1 253.9 L1910.8 254.7 L1910.8 256.4 L1911.1 257.8 L1911.7 258.7 L1912.0 259.5 L1912.4 261.1 L1912.5 262.5 L1912.8 263.0 L1913.3 264.2 L1913.5 265.6 L1913.8 266.9 L1914.2 268.3 L1914.4 269.1 L1914.9 270.2 L1915.1 272.0 L1915.5 272.5 L1915.5 274.2 L1916.2 275.4 L1916.6 276.6 L1916.7 278.0 L1916.9 278.4 L1917.3 279.5 L1917.7 281.1 L1917.8 282.3 L1918.3 283.6 L1918.8 284.8 L1919.0 285.3 L1919.3 287.0 L1919.4 287.9 L1919.9 288.9 L1920.0 290.1 L1920.5 291.7 L1921.4 294.1 L1922.0 296.5 L1922.5 298.5 L1922.9 300.9 L1923.9 302.8 L1924.2 303.7 L1924.6 305.2 L1924.7 306.1 L1925.2 308.0 L1925.3 308.7 L1925.6 310.1 L1926.1 311.3 L1926.1 312.2 L1926.9 312.9 L1927.0 314.4 L1927.1 315.5 L1927.8 316.5 L1927.9 318.3 L1928.1 318.7 L1928.6 320.4 L1928.7 321.8 L1929.3 322.7 L1929.4 324.2 L1929.7 325.4 L1930.2 326.5 L1930.5 327.4 L1931.0 328.4 L1931.0 330.1 L1931.7 330.4 L1931.9 332.2 L1931.9 332.9 L1932.2 334.6 L1932.5 335.8 L1933.1 337.1 L1933.1 338.1 L1933.7 339.8 L1934.4 341.0 L1934.6 343.0 L1934.8 343.7 L1935.3 345.1 L1935.7 346.3 L1935.7 346.9 L1936.3 348.9 L1936.2 350.0 L1936.6 351.0 L1936.9 352.0 L1937.3 353.8 L1937.8 355.2 L1938.2 356.4 L1938.2 357.7 L1938.8 358.3 L1938.7 360.4 L1939.1 361.6 L1939.8 362.5 L1939.9 363.4 L1940.0 365.4 L1940.6 366.1 L1940.7 367.2 L1941.3 368.7 L1941.3 370.5 L1941.7 371.1 L1942.2 372.5 L1942.4 373.9 L1942.8 374.9 L1943.0 376.8 L1943.2 377.5 L1943.6 378.8 L1943.9 380.1 L1944.4 380.9 L1944.5 382.8 L1944.6 383.7 L1945.0 384.7 L1945.8 386.7 L1946.0 389.3 L1946.9 391.3 L1947.4 393.4 L1947.8 395.5 L1948.3 397.4 L1948.7 399.2 L1948.9 401.1 L1949.4 402.0 L1949.7 403.1 L1949.8 404.8 L1950.2 405.9 L1950.7 407.6 L1950.8 408.7 L1951.4 409.9 L1951.9 412.2 L1952.1 415.1 L1952.7 416.5 L1953.0 418.0 L1953.6 420.6 L1954.2 422.0 L1954.5 424.1 L1954.9 425.3 L1954.9 426.6 L1955.6 429.4 L1955.9 431.2 L1956.6 433.2 L1956.7 434.6 L1957.0 435.7 L1957.2 437.5 L1957.2 438.1 L1957.6 439.2 L1957.8 440.6 L1958.1 441.7 L1958.3 443.1 L1958.5 444.7 L1958.5 445.6 L1959.0 447.2 L1959.3 447.8 L1959.4 449.4 L1959.8 450.8 L1959.8 451.8 L1960.1 453.2 L1960.2 454.8 L1960.8 455.8 L1960.9 457.5 L1961.4 458.9 L1961.6 459.4 L1961.6 460.8 L1962.1 462.4 L1962.4 463.0 L1962.3 465.0 L1962.7 465.9 L1963.0 467.2 L1963.0 468.5 L1963.8 469.6 L1963.8 470.9 L1964.0 472.2 L1964.6 473.3 L1964.8 474.6 L1965.1 476.1 L1965.4 477.3 L1965.7 477.8 L1965.7 479.8 L1965.9 481.1 L1966.5 481.6 L1966.9 483.4 L1966.9 484.3 L1967.4 485.8 L1967.6 487.2 L1967.8 488.5 L1968.4 489.7 L1968.4 490.3 L1968.7 491.7 L1969.0 492.6 L1969.1 493.7 L1969.3 495.1 L1970.0 497.9 L1970.2 499.3 L1970.6 500.6 L1970.8 501.3 L1971.0 503.0 L1971.5 504.4 L1971.7 505.5 L1971.8 506.9 L1972.0 507.4 L1972.7 508.5 L1973.0 510.6 L1972.8 511.3 L1973.4 513.0 L1973.6 514.2 L1973.8 515.2 L1973.9 516.3 L1974.2 517.6 L1974.5 518.1 L1974.8 519.5 L1975.1 520.4 L1975.3 521.8 L1975.5 523.3 L1975.9 524.4 L1976.2 526.5 L1976.8 529.2 L1976.8 529.9 L1977.3 531.3 L1977.5 532.8 L1977.4 533.8 L1978.0 535.4 L1978.1 536.8 L1978.5 537.7 L1978.6 538.6 L1979.0 540.8 L1979.4 543.7 L1979.7 546.0 L1979.9 547.0 L1979.8 548.2 L1980.0 549.5 L1980.5 550.7 L1980.7 551.4 L1980.8 552.8 L1981.2 554.1 L1981.2 555.5 L1981.6 556.7 L1981.6 558.0 L1982.2 559.8 L1982.2 561.0 L1982.6 562.1 L1982.9 563.7 L1982.8 565.0 L1983.4 565.6 L1983.6 567.3 L1983.9 568.9 L1984.0 570.0 L1984.0 571.2 L1984.5 572.4 L1984.6 573.2 L1984.8 574.4 L1985.2 576.1 L1985.4 577.5 L1985.5 578.6 L1986.0 579.8 L1986.0 580.7 L1986.3 582.0 L1986.7 583.3 L1986.7 585.1 L1987.1 586.3 L1987.3 586.7 L1987.4 588.7 L1987.6 589.1 L1988.1 590.6 L1988.1 591.7 L1988.6 592.8 L1988.8 594.2 L1989.1 596.0 L1989.4 597.1 L1989.8 597.7 L1989.7 599.7 L1990.1 600.6 L1990.6 601.7 L1990.7 603.4 L1991.0 604.0 L1991.1 606.0 L1991.5 606.8 L1991.9 608.1 L1992.2 609.1 L1992.3 610.4 L1992.3 611.9 L1992.8 612.7 L1993.0 614.0 L1993.4 615.7 L1993.7 616.9 L1994.0 618.3 L1994.4 621.4 L1994.8 623.6 L1995.5 624.9 L1995.5 625.6 L1995.9 626.9 L1995.8 628.4 L1996.5 630.1 L1996.5 630.5 L1996.7 632.1 L1997.0 633.2 L1997.1 634.9 L1997.5 635.5 L1997.6 636.5 L1997.8 637.6 L1998.3 640.3 L1998.9 642.7 L1999.0 645.3 L1999.5 647.3 L2000.1 649.5 L2000.3 650.4 L2000.4 651.6 L2000.7 653.2 L2000.9 654.3 L2001.0 656.0 L2001.7 656.6 L2002.2 659.3 L2002.5 661.2 L2003.1 663.9 L2003.6 665.9 L2003.9 666.8 L2004.1 668.7 L2004.0 669.2 L2004.6 670.8 L2004.6 671.4 L2005.2 673.6 L2005.7 675.0 L2005.8 676.5 L2005.9 677.6 L2006.3 678.9 L2006.2 679.7 L2006.4 681.3 L2007.0 682.6 L2007.3 684.1 L2007.5 685.0 L2007.6 686.4 L2007.9 687.1 L2008.1 688.6 L2008.3 689.8 L2008.5 691.2 L2008.7 691.9 L2009.2 693.7 L2009.1 695.0 L2009.5 695.7 L2009.5 696.7 L2009.8 699.0 L2010.4 701.0 L2010.5 702.2 L2010.4 703.0 L2011.0 703.9 L2010.7 705.8 L2011.2 707.0 L2011.1 708.0 L2011.5 709.2 L2011.7 710.8 L2012.1 713.4 L2012.2 715.5 L2012.5 718.3 L2013.2 720.1 L2013.1 722.0 L2013.4 722.9 L2013.6 724.3 L2014.0 724.8 L2014.3 727.7 L2014.7 729.5 L2015.3 731.7 L2015.6 734.1 L2016.0 735.9 L2016.5 736.7 L2016.7 738.3 L2017.1 738.9 L2017.2 740.7 L2017.5 741.1 L2017.8 743.0 L2018.0 743.5 L2018.0 744.7 L2018.5 746.5 L2018.9 749.0 L2019.3 749.6 L2019.7 750.8 L2019.8 752.0 L2020.4 753.1 L2020.4 754.3 L2021.0 756.0 L2021.2 756.8 L2021.3 758.7 L2021.9 759.1 L2022.2 761.0 L2022.4 762.4 L2022.7 763.1 L2023.1 764.8 L2023.4 765.8 L2023.9 766.6 L2024.0 767.9 L2024.3 768.8 L2024.5 770.8 L2025.4 772.3 L2025.7 773.7 L2025.9 775.0 L2026.0 776.2 L2026.1 777.5 L2026.4 779.1 L2026.9 779.6 L2027.2 781.1 L2027.4 782.4 L2027.7 783.1 L2028.0 784.8 L2028.4 787.1 L2028.6 789.6 L2029.3 791.9 L2029.4 792.5 L2029.9 794.3 L2030.0 794.7 L2030.1 796.2 L2030.2 797.2 L2030.7 798.9 L2031.0 800.1 L2031.1 801.3 L2031.3 801.9 L2031.8 803.1 L2031.7 804.7 L2032.0 805.8 L2032.3 806.9 L2032.9 808.0 L2032.8 809.7 L2033.4 810.5 L2033.6 811.4 L2033.5 812.6 L2034.0 814.3 L2034.0 814.8 L2034.6 817.3 L2035.1 820.0 L2035.4 821.2 L2035.8 822.6 L2036.0 823.9 L2036.2 824.7 L2036.4 825.5 L2036.7 827.4 L2037.3 828.2 L2037.3 829.2 L2037.6 830.5 L2038.1 831.9 L2038.3 834.1 L2038.9 836.7 L2039.3 838.8 L2039.9 840.6 L2040.1 841.8 L2040.6 843.2 L2041.1 844.3 L2041.3 845.9 L2041.8 847.2 L2042.0 848.1 L2042.6 850.0 L2042.7 850.4 L2043.4 852.5 L2043.6 853.7 L2044.0 855.0 L2044.2 855.6 L2045.0 857.5 L2045.0 859.3 L2045.5 860.8 L2046.4 863.5 L2046.9 865.7 L2047.2 866.6 L2047.4 868.1 L2047.7 869.5 L2048.3 870.5 L2048.2 871.5 L2048.8 872.8 L2049.0 873.7 L2049.3 875.3 L2049.5 877.1 L2050.1 878.3 L2050.1 879.3 L2050.7 880.2 L2050.9 881.8 L2051.2 882.9 L2051.4 883.8 L2051.7 885.3 L2052.1 886.2 L2052.2 888.1 L2052.6 889.2 L2053.2 889.7 L2053.2 891.0 L2053.4 892.1 L2054.0 893.8 L2054.1 894.8 L2054.6 896.2 L2054.9 897.4 L2054.9 898.0 L2055.6 899.5 L2055.9 900.9 L2056.2 902.1 L2056.3 903.5 L2056.8 904.3 L2057.1 905.3 L2057.2 906.8 L2057.8 907.6 L2057.8 908.7 L2058.3 910.2 L2058.5 911.3 L2058.7 912.7 L2058.9 913.8 L2059.2 915.0 L2059.7 916.1 L2059.9 917.7 L2060.2 918.6 L2060.9 919.6 L2060.9 921.1 L2061.2 922.4 L2061.7 923.1 L2061.9 924.5 L2062.1 925.8 L2062.3 926.7 L2062.6 928.0 L2063.0 929.1 L2063.6 930.6 L2063.6 931.3 L2064.1 932.9 L2064.3 933.6 L2064.6 935.5 L2064.9 936.6 L2065.1 937.5 L2065.4 939.0 L2065.9 940.0 L2066.1 941.0 L2066.6 941.9 L2066.7 943.4 L2067.1 945.2 L2067.3 946.1 L2067.5 947.6 L2067.9 948.7 L2068.0 949.4 L2068.6 950.4 L2068.6 951.7 L2069.2 953.4 L2069.2 954.4 L2069.9 955.7 L2070.1 956.7 L2070.2 957.7 L2070.6 958.9 L2071.0 960.0 L2071.3 961.2 L2071.6 963.0 L2072.0 963.8 L2072.3 964.7 L2072.3 966.0 L2072.6 967.0 L2072.9 968.7 L2073.4 969.7 L2073.8 971.1 L2074.0 972.5 L2074.1 973.6 L2074.4 974.3 L2074.8 975.9 L2074.8 977.1 L2075.6 977.7 L2075.9 979.2 L2076.1 980.4 L2076.2 981.8 L2076.5 982.6 L2076.9 983.9 L2077.0 985.0 L2077.7 986.7 L2077.7 987.6 L2078.2 988.5 L2078.7 990.4 L2078.9 991.5 L2079.2 992.1 L2079.7 993.9 L2080.0 994.4 L2080.6 996.3 L2080.8 996.9 L2080.9 998.0 L2081.6 999.6 L2082.1 1000.4 L2082.2 1001.7 L2082.8 1003.3 L2083.2 1004.3 L2083.3 1005.4 L2083.6 1006.8 L2084.3 1007.9 L2084.8 1008.7 L2085.0 1009.8 L2085.2 1011.5 L2085.7 1012.9 L2086.0 1013.7 L2086.4 1014.8 L2086.9 1016.0 L2087.1 1017.6 L2087.3 1018.7 L2087.8 1019.7 L2088.1 1020.6 L2088.2 1022.3 L2088.6 1023.1 L2088.9 1024.6 L2089.4 1025.8 L2089.3 1026.8 L2089.8 1027.8 L2090.3 1029.2 L2090.6 1030.5 L2090.6 1032.0 L2090.8 1032.7 L2091.2 1033.7 L2091.7 1035.1 L2092.1 1036.8 L2092.0 1037.4 L2092.6 1039.0 L2092.7 1039.9 L2093.4 1041.6 L2093.4 1042.6 L2094.1 1043.7 L2094.2 1045.2 L2094.6 1046.1 L2095.1 1046.7 L2095.1 1047.9 L2095.5 1050.0 L2096.1 1050.6 L2096.4 1051.9 L2096.8 1053.0 L2097.4 1054.5 L2097.3 1055.6 L2098.1 1056.6 L2098.1 1057.4 L2098.7 1058.9 L2099.1 1060.4 L2099.5 1061.5 L2099.9 1062.7 L2100.3 1063.5 L2100.5 1065.2 L2101.2 1065.8 L2101.2 1067.3 L2102.0 1068.9 L2102.0 1069.9 L2102.4 1071.2 L2102.7 1072.6 L2103.3 1073.1 L2103.6 1074.2 L2104.0 1075.4 L2104.2 1076.9 L2105.0 1078.3 L2105.3 1078.9 L2105.6 1080.2 L2106.0 1082.0 L2106.2 1082.9 L2106.8 1084.0 L2106.9 1085.6 L2107.7 1086.1 L2108.1 1087.6 L2108.5 1088.6 L2108.5 1090.4 L2109.0 1090.7 L2109.3 1092.2 L2110.0 1094.0 L2110.1 1094.4 L2110.4 1096.4 L2110.9 1096.8 L2111.2 1098.3 L2111.8 1099.5 L2112.2 1100.6 L2112.6 1102.1 L2112.9 1102.7 L2113.1 1104.1 L2113.8 1105.8 L2114.1 1106.8 L2114.2 1107.4 L2114.5 1109.0 L2115.0 1110.7 L2115.3 1111.6 L2115.8 1112.3 L2116.4 1114.1 L2116.6 1115.0 L2116.8 1116.3 L2117.5 1117.8 L2117.9 1118.9 L2118.0 1120.2 L2118.3 1120.7 L2118.9 1122.4 L2119.3 1123.5 L2119.7 1124.5 L2119.8 1125.6 L2120.4 1127.2 L2120.7 1128.2 L2121.3 1129.5 L2121.5 1130.5 L2121.7 1131.7 L2122.5 1133.0 L2122.6 1134.4 L2122.9 1135.4 L2123.3 1136.7 L2123.8 1138.1 L2124.3 1138.9 L2124.8 1140.3 L2124.9 1141.1 L2125.1 1142.4 L2125.7 1143.5 L2125.9 1144.8 L2126.2 1145.7 L2126.8 1147.4 L2127.1 1148.6 L2127.6 1149.3 L2128.2 1151.0 L2128.6 1152.3 L2128.9 1152.9 L2129.2 1154.6 L2129.8 1155.4 L2130.3 1157.4 L2130.6 1158.6 L2131.0 1159.7 L2131.2 1160.6 L2132.0 1162.1 L2132.5 1162.9 L2132.5 1164.3 L2133.4 1165.7 L2133.7 1165.9 L2134.5 1169.0 L2135.1 1170.8 L2135.8 1171.9 L2136.4 1172.9 L2136.6 1174.8 L2137.4 1175.8 L2138.0 1176.8 L2138.2 1177.9 L2139.0 1179.3 L2139.4 1180.7 L2139.9 1181.6 L2140.2 1183.2 L2141.4 1185.0 L2142.4 1186.7 L2143.4 1188.9 L2144.1 1190.2 L2144.8 1192.1 L2145.9 1193.2 L2146.6 1194.3 L2147.4 1195.1 L2148.4 1196.0 L2148.8 1197.2 L2149.2 1198.9 L2150.2 1199.8 L2150.5 1201.8 L2151.4 1203.9 L2151.9 1204.3 L2152.5 1205.5 L2153.0 1206.8 L2153.4 1208.0 L2153.5 1209.9 L2154.2 1211.2 L2154.4 1212.4 L2155.2 1213.9 L2155.6 1215.1 L2156.0 1216.2 L2156.3 1217.6 L2156.9 1218.4 L2157.0 1220.2 L2157.4 1220.7 L2158.4 1223.6 L2158.6 1224.1 L2159.4 1225.9 L2159.9 1227.2 L2160.4 1228.0 L2160.8 1229.6 L2161.6 1230.8 L2161.9 1232.1 L2162.4 1233.2 L2163.1 1234.9 L2164.0 1237.0 L2164.9 1239.2 L2165.8 1239.9 L2167.0 1241.3 L2167.6 1242.5 L2168.6 1243.8 L2169.4 1245.5 L2170.2 1246.5 L2170.2 1247.8 L2170.3 1249.1 L2170.9 1250.2 L2170.7 1251.5 L2171.0 1254.0 L2171.2 1254.7 L2171.5 1256.3 L2171.4 1258.1 L2171.7 1259.7 L2171.5 1261.0 L2171.7 1262.7" stroke="#ff0000" stroke-width="5.50"/></g>
<g transform="scale(1 1.2500)"><path d="M230.5 1286.9 L230.8 1285.3 L230.9 1284.8 L230.6 1284.0 L230.7 1282.8 L230.8 1281.3 L231.2 1281.4 L231.0 1279.8 L231.4 1279.9 L231.5 1278.3 L231.8 1277.0 L231.8 1276.4 L231.5 1275.3 L231.7 1275.2 L231.7 1274.0 L232.1 1272.7 L232.1 1271.4 L231.9 1270.6 L232.4 1269.9 L232.2 1269.1 L232.4 1267.8 L232.7 1267.3 L232.5 1266.2 L232.7 1265.6 L233.0 1264.0 L233.2 1262.8 L232.9 1262.7 L232.9 1261.3 L232.9 1260.3 L233.5 1259.1 L233.7 1257.6 L233.7 1256.8 L233.8 1255.4 L234.0 1254.8 L233.9 1253.3 L233.8 1252.5 L234.2 1252.1 L234.4 1250.4 L234.2 1250.1 L234.1 1249.0 L234.3 1247.7 L234.3 1247.8 L234.4 1246.3 L234.6 1246.3 L234.5 1244.9 L234.9 1244.7 L235.2 1243.8 L234.9 1242.4 L235.1 1242.2 L235.5 1240.4 L235.1 1239.7 L235.2 1239.2 L235.6 1238.1 L235.3 1237.5 L235.6 1236.9 L236.0 1236.3 L235.8 1235.4 L236.0 1233.8 L236.3 1234.0 L236.3 1233.2 L236.1 1231.9 L236.0 1231.4 L236.0 1229.8 L236.2 1229.2 L236.4 1228.2 L236.3 1227.6 L236.4 1227.0 L236.4 1226.9 L236.9 1225.2 L236.7 1224.6 L236.9 1223.5 L237.3 1223.8 L237.1 1222.4 L237.0 1221.1 L237.2 1220.5 L237.6 1219.6 L237.2 1219.8 L237.6 1217.9 L237.7 1217.0 L237.7 1217.4 L238.0 1216.3 L237.7 1215.0 L237.7 1214.7 L238.1 1214.0 L238.0 1212.4 L238.4 1212.6 L238.5 1211.6 L238.6 1210.7 L238.3 1209.6 L238.5 1208.2 L238.3 1207.7 L238.6 1207.4 L239.1 1206.3 L239.2 1206.2 L239.3 1204.6 L238.9 1203.6 L239.0 1202.8 L239.4 1202.9 L239.6 1201.5 L239.6 1201.1 L239.3 1200.1 L239.9 1199.4 L239.9 1198.1 L239.7 1197.7 L239.8 1196.8 L240.4 1195.5 L240.1 1195.3 L240.4 1193.5 L240.1 1192.6 L240.7 1192.6 L240.3 1191.7 L241.0 1190.7 L240.7 1189.7 L240.6 1188.2 L241.3 1188.1 L241.1 1187.7 L241.1 1186.8 L241.5 1185.1 L241.2 1184.4 L241.4 1183.6 L241.5 1182.2 L241.6 1181.7 L241.9 1180.0 L242.2 1179.5 L242.2 1178.5 L242.5 1177.0 L242.6 1175.4 L242.7 1174.7 L242.6 1174.6 L242.8 1173.4 L243.3 1172.6 L243.3 1171.5 L243.6 1170.9 L243.5 1169.6 L243.8 1168.3 L244.3 1167.7 L244.4 1167.2 L244.8 1165.9 L244.8 1165.2 L244.9 1164.6 L245.2 1163.2 L245.5 1162.6 L245.9 1161.7 L246.3 1160.2 L246.2 1160.2 L246.7 1158.3 L246.5 1157.7 L246.8 1156.6 L247.1 1156.2 L247.9 1155.7 L247.8 1154.5 L248.4 1153.0 L248.9 1153.2 L248.8 1152.4 L249.2 1151.0 L250.0 1150.7 L249.8 1149.4 L250.5 1148.1 L250.8 1147.0 L251.5 1145.7 L251.7 1145.4 L251.8 1144.4 L252.5 1143.7 L252.4 1143.5 L253.2 1142.8 L253.1 1141.1 L253.4 1141.0 L253.8 1139.3 L254.4 1139.5 L255.1 1137.8 L255.1 1137.8 L256.4 1137.9 L256.4 1138.1 L256.9 1140.1 L256.5 1141.7 L257.0 1142.5 L256.6 1143.7 L256.7 1144.8 L256.9 1145.0 L257.0 1146.6 L256.8 1146.4 L257.0 1147.5 L256.7 1148.3 L256.7 1149.2 L256.8 1150.3 L257.1 1151.2 L257.0 1152.0 L256.8 1152.8 L256.8 1153.8 L257.1 1155.4 L256.7 1156.3 L257.2 1156.8 L257.1 1158.2 L256.9 1159.7 L256.9 1160.2 L257.0 1161.8 L256.8 1162.5 L257.1 1163.1 L256.9 1163.7 L256.7 1164.2 L256.7 1165.9 L256.8 1166.0 L256.8 1167.6 L257.3 1168.2 L256.9 1168.5 L257.0 1169.5 L256.9 1170.3 L257.0 1171.8 L257.5 1172.1 L257.0 1173.4 L257.1 1173.4 L256.9 1174.2 L257.3 1175.2 L257.1 1176.0 L257.0 1176.5 L257.1 1177.5 L257.1 1177.8 L257.3 1178.9 L257.5 1180.0 L257.6 1181.0 L257.7 1182.1 L257.5 1182.2 L257.9 1182.8 L257.8 1184.2 L257.4 1185.2 L257.9 1185.8 L257.9 1186.8 L257.5 1187.2 L257.8 1188.4 L258.0 1189.2 L257.9 1190.1 L258.0 1190.6 L257.8 1190.6 L257.8 1191.8 L257.8 1193.2 L258.1 1193.8 L258.2 1194.6 L258.2 1194.6 L258.4 1196.3 L258.3 1196.8 L258.5 1197.0 L258.6 1198.1 L258.2 1198.9 L258.7 1199.6 L258.8 1201.4 L258.7 1201.4 L258.7 1202.6 L259.0 1203.3 L259.0 1203.5 L258.8 1204.5 L259.2 1205.3 L259.2 1205.8 L258.9 1206.9 L259.4 1208.2 L259.5 1208.5 L259.4 1209.6 L259.5 1209.9 L259.8 1210.8 L260.0 1212.6 L259.4 1212.7 L260.0 1214.2 L259.9 1214.1 L259.8 1215.8 L259.8 1216.1 L259.9 1216.8 L260.5 1217.1 L260.4 1218.4 L260.5 1219.5 L260.2 1220.5 L260.4 1220.2 L260.1 1221.6 L260.5 1222.1 L260.3 1223.0 L260.5 1224.4 L260.3 1225.5 L260.9 1225.9 L261.0 1227.8 L261.1 1228.5 L260.8 1229.8 L261.2 1231.2 L260.8 1232.1 L260.8 1232.8 L260.7 1235.0 L260.8 1236.3 L260.8 1236.6 L261.0 1237.6 L260.9 1239.8 L261.3 1240.8 L261.1 1242.1 L261.3 1242.8 L261.2 1243.0 L261.2 1244.3 L261.3 1245.4 L261.0 1245.4 L261.4 1246.4 L261.1 1247.5 L261.0 1248.8 L261.4 1249.0 L261.3 1249.9 L261.2 1250.9 L261.0 1251.5 L261.0 1253.3 L261.2 1253.6 L261.5 1255.8 L261.2 1255.6 L261.0 1256.4 L261.1 1257.2 L261.1 1258.3 L261.3 1260.0 L261.4 1260.3 L261.2 1261.4 L261.2 1262.1 L261.0 1263.0 L261.5 1263.7 L261.2 1265.3 L261.5 1265.8 L261.1 1266.8 L261.2 1268.0 L261.5 1269.5 L261.5 1269.4 L260.9 1271.2 L261.5 1271.8 L261.3 1272.2 L261.2 1274.3 L261.5 1275.1 L261.6 1275.2 L261.0 1276.0 L261.3 1277.6 L261.6 1278.5 L261.4 1279.3 L261.3 1279.9 L261.1 1281.3 L261.2 1282.7 L261.5 1282.9 L261.3 1283.9 L261.6 1285.3 L261.4 1285.4 L261.8 1287.5 L262.9 1287.0 L264.3 1286.7 L265.3 1287.3 L266.9 1287.6 L267.4 1285.8 L267.1 1284.5 L267.9 1284.2 L267.6 1281.9 L268.0 1281.8 L268.1 1280.3 L268.5 1280.5 L268.3 1278.1 L268.5 1277.8 L269.0 1276.5 L269.2 1276.5 L269.2 1274.6 L269.7 1273.8 L269.7 1272.7 L269.4 1272.6 L269.6 1272.0 L270.0 1269.7 L269.9 1269.2 L270.4 1269.1 L270.1 1267.2 L270.4 1267.4 L270.5 1264.9 L270.5 1264.6 L271.4 1264.7 L271.4 1264.1 L271.8 1262.1 L271.3 1262.3 L272.0 1259.8 L272.1 1259.5 L272.1 1258.6 L272.1 1257.1 L272.4 1256.9 L273.2 1255.6 L273.4 1255.0 L273.1 1255.3 L273.7 1253.8 L273.2 1253.1 L273.7 1253.1 L273.8 1250.9 L274.8 1249.1 L274.6 1249.5 L275.3 1246.8 L274.8 1245.7 L276.0 1245.0 L276.1 1245.1 L276.0 1242.7 L276.9 1242.5 L276.4 1241.8 L276.7 1240.0 L276.6 1239.9 L277.7 1238.7 L278.0 1236.4 L277.5 1236.3 L278.5 1236.3 L278.1 1233.8 L278.3 1233.4 L279.1 1231.8 L279.2 1232.0 L279.4 1231.2 L279.4 1229.4 L279.3 1228.7 L280.2 1227.1 L279.9 1227.6 L280.7 1224.9 L281.5 1226.2 L282.8 1227.3 L284.0 1228.1 L283.9 1226.7 L284.2 1228.5 L285.5 1229.1 L285.3 1229.9 L286.1 1231.4 L286.6 1232.7 L286.8 1231.8 L287.4 1233.1 L287.3 1234.2 L287.8 1234.6 L287.4 1235.7 L287.5 1238.4 L288.2 1238.0 L288.1 1240.8 L288.4 1240.0 L288.9 1242.3 L289.2 1241.7 L288.7 1244.4 L289.2 1245.5 L288.3 1244.7 L288.5 1245.3 L289.6 1247.3 L289.6 1247.7 L289.6 1248.8 L288.9 1250.6 L289.8 1249.8 L289.5 1252.1 L289.1 1252.5 L289.0 1253.1 L289.2 1255.2 L289.7 1255.3 L289.0 1256.8 L289.8 1257.3 L289.4 1258.2 L290.0 1260.0 L289.1 1259.7 L289.5 1261.8 L289.8 1261.4 L289.2 1264.0 L289.5 1263.8 L289.4 1266.5 L289.4 1266.4 L289.5 1266.9 L290.1 1269.4 L289.5 1268.1 L289.9 1269.1 L289.1 1271.8 L289.6 1272.5 L289.6 1273.5 L289.6 1272.4 L289.1 1274.3 L289.9 1276.1 L289.2 1276.1 L289.6 1276.9 L289.4 1277.4 L289.9 1280.1 L289.4 1280.0 L290.3 1282.0 L289.6 1280.6 L290.7 1283.7 L290.3 1282.0 L291.0 1283.7 L291.2 1285.2 L291.3 1284.7 L291.4 1285.7 L291.1 1288.2 L293.4 1286.5 L293.4 1285.8 L294.1 1284.7 L294.0 1283.2 L295.0 1284.2 L294.5 1282.3 L295.6 1279.9 L296.0 1279.1 L296.0 1279.4 L296.3 1277.6 L296.2 1277.6 L296.5 1277.1 L296.7 1275.6 L296.4 1275.4 L297.2 1273.2 L297.8 1273.9 L297.7 1271.0 L298.1 1269.7 L298.0 1269.5 L298.1 1268.8 L298.8 1266.7 L299.2 1266.0 L299.5 1267.4 L299.4 1264.3 L299.6 1264.5 L300.3 1262.9 L300.4 1264.8 L300.5 1263.4 L300.0 1263.1 L300.6 1262.1 L301.3 1258.7 L301.3 1260.4 L300.7 1257.7 L301.7 1256.2 L302.1 1255.8 L302.2 1254.6 L302.0 1256.4 L301.9 1253.1 L302.6 1252.2 L302.3 1250.8 L302.7 1252.5 L303.6 1251.4 L303.2 1250.2 L303.4 1248.5 L304.3 1247.0 L304.8 1246.9 L304.7 1247.2 L304.4 1246.8 L305.3 1243.9 L305.8 1242.7 L306.3 1243.0 L305.9 1242.6 L306.4 1239.3 L307.2 1237.8 L307.8 1237.5 L308.0 1239.4 L308.3 1237.3 L308.4 1233.9 L308.4 1233.6 L309.6 1233.9 L309.9 1234.9 L309.9 1231.3 L311.0 1229.6 L310.8 1230.1 L311.5 1229.2 L312.2 1229.3 L314.1 1226.6 L315.2 1228.8 L314.8 1231.7 L315.2 1229.1 L315.3 1232.2 L316.4 1233.7 L316.0 1232.2 L315.6 1234.8 L316.5 1234.3 L316.7 1235.6 L317.2 1237.8 L316.5 1239.4 L316.5 1238.5 L317.1 1238.3 L316.9 1241.9 L317.0 1241.6 L318.2 1240.6 L317.4 1243.5 L317.9 1244.5 L318.4 1243.2 L317.9 1244.6 L317.7 1248.2 L318.7 1248.2 L317.9 1249.7 L319.0 1248.7 L319.1 1249.5 L318.6 1248.7 L318.8 1249.5 L319.2 1254.0 L319.8 1255.3 L320.1 1253.3 L320.1 1255.0 L320.6 1256.2 L320.2 1257.6 L321.2 1256.4 L321.4 1256.2 L320.8 1258.0 L321.7 1262.5 L322.1 1260.4 L322.5 1261.3 L322.2 1265.3 L323.2 1265.3 L324.1 1267.2 L324.8 1267.0 L325.9 1267.6 L326.5 1267.4 L327.1 1264.3 L327.1 1265.2 L327.3 1265.9 L327.6 1260.2 L327.9 1264.2 L328.5 1258.9 L328.5 1257.3 L329.6 1259.5 L329.8 1259.3 L329.3 1257.7 L329.9 1258.2 L330.7 1257.8 L330.2 1256.7 L331.5 1256.2 L330.9 1251.1 L331.3 1249.4 L332.6 1253.0 L332.7 1252.3 L333.3 1248.1 L333.2 1246.0 L334.6 1245.5 L334.7 1245.6 L334.7 1243.9 L335.5 1245.8 L336.0 1242.8 L337.1 1243.0 L337.4 1242.8 L336.8 1240.8 L337.7 1242.0 L338.0 1240.7 L338.6 1237.0 L339.2 1235.5 L339.5 1235.2 L338.8 1234.6 L340.0 1238.2 L339.4 1234.7 L340.3 1235.6 L340.2 1233.1 L340.7 1234.2 L341.0 1233.8 L341.4 1228.7 L342.3 1229.3 L341.9 1229.4 L342.2 1229.5 L343.3 1228.7 L344.2 1225.1 L344.9 1226.0 L345.7 1225.2 L345.9 1225.7 L345.3 1228.0 L346.3 1230.3 L345.8 1233.3 L345.8 1231.7 L346.3 1234.3 L346.8 1234.6 L346.6 1233.6 L346.6 1237.5 L347.5 1237.8 L347.3 1236.9 L348.4 1238.6 L348.0 1238.8 L349.2 1238.4 L349.3 1239.4 L350.8 1243.3 L350.8 1237.8 L351.1 1237.9 L351.6 1236.1 L351.5 1235.4 L352.5 1237.7 L351.6 1238.3 L351.7 1234.1 L352.9 1235.7 L352.8 1232.6 L352.4 1232.7 L352.4 1229.1 L353.0 1227.3 L353.2 1230.9 L353.8 1228.3 L354.4 1226.7 L354.5 1228.2 L355.5 1229.7 L356.5 1228.8 L356.5 1231.7 L356.7 1229.5 L357.4 1234.3 L358.4 1234.0 L359.4 1234.7 L360.2 1232.0 L360.2 1232.2 L360.4 1230.1 L361.6 1231.1 L361.8 1227.3 L362.0 1227.5 L362.7 1226.2 L363.2 1228.3 L363.0 1225.7 L364.1 1223.1 L364.2 1225.8 L364.1 1222.4 L364.6 1223.0 L366.7 1220.3 L367.3 1221.4 L368.4 1223.1 L368.9 1223.4 L369.7 1223.6 L369.6 1226.9 L369.7 1226.1 L370.3 1227.3 L370.4 1229.5 L371.1 1224.6 L371.5 1227.4 L371.6 1228.3 L373.1 1230.6 L373.9 1228.5 L374.7 1232.0 L376.6 1231.3 L376.7 1233.5 L377.4 1229.1 L377.7 1231.8 L378.9 1230.1 L378.9 1228.9 L379.0 1230.5 L379.5 1227.5 L380.5 1227.6 L380.5 1223.5 L381.0 1221.4 L381.8 1221.9 L382.2 1220.3 L382.0 1219.4 L382.5 1218.1 L382.4 1220.6 L383.2 1216.8 L383.7 1217.4 L384.4 1217.5 L385.1 1215.1 L386.0 1217.3 L385.4 1216.4 L386.9 1215.4 L386.5 1214.9 L387.6 1209.1 L387.4 1214.1 L388.7 1208.9 L388.5 1207.4 L389.1 1210.4 L389.7 1205.6 L390.9 1208.7 L390.4 1208.6 L391.2 1207.1 L391.7 1207.0 L392.2 1205.8 L391.9 1204.1 L392.6 1203.7 L392.9 1203.8 L393.4 1199.1 L393.5 1197.5 L394.3 1196.2 L394.8 1196.0 L396.2 1197.1 L397.0 1200.1 L397.2 1200.6 L398.1 1199.6 L398.7 1202.2 L398.8 1200.3 L399.8 1199.0 L399.8 1203.5 L399.4 1204.2 L400.6 1207.1 L400.5 1208.4 L401.2 1206.0 L402.2 1203.9 L402.5 1208.5 L403.0 1210.3 L404.0 1208.1 L405.2 1210.3 L405.9 1207.5 L407.1 1207.7 L408.6 1205.4 L409.2 1205.3 L409.4 1203.7 L410.0 1207.1 L410.8 1204.9 L410.8 1200.9 L411.2 1201.8 L412.0 1202.3 L411.6 1201.0 L413.1 1199.0 L412.5 1196.5 L412.8 1194.9 L414.3 1196.8 L414.4 1197.1 L415.1 1195.0 L415.1 1194.2 L415.6 1193.1 L416.0 1189.6 L416.4 1190.2 L416.9 1186.9 L416.6 1185.5 L417.7 1190.2 L418.0 1185.7 L418.6 1187.5 L418.7 1183.2 L418.8 1183.4 L419.4 1182.4 L420.4 1184.6 L420.4 1181.5 L421.2 1177.8 L422.9 1180.1 L423.8 1178.5 L423.7 1177.8 L425.3 1181.1 L426.8 1177.8 L427.1 1175.7 L428.3 1176.8 L428.7 1175.8 L429.4 1180.7 L430.5 1183.0 L431.5 1181.7 L432.5 1175.3 L433.9 1176.1 L434.6 1175.0 L434.4 1178.3 L435.9 1178.0 L436.6 1172.1 L437.2 1175.5 L437.6 1176.2 L438.0 1175.6 L439.2 1168.3 L439.0 1171.8 L440.6 1167.0 L440.7 1170.5 L441.2 1170.6 L442.3 1164.3 L442.8 1166.9 L443.5 1166.9 L443.7 1167.0 L444.6 1165.3 L445.5 1163.1 L445.8 1164.9 L447.1 1164.2 L447.3 1160.2 L447.3 1164.2 L449.2 1162.6 L450.0 1160.4 L451.8 1162.8 L452.4 1160.0 L452.7 1164.8 L453.1 1164.2 L453.9 1166.4 L454.7 1162.9 L454.9 1163.2 L456.6 1166.0 L457.8 1167.5 L457.6 1166.5 L459.3 1165.7 L459.9 1160.6 L460.8 1163.5 L461.1 1163.4 L461.3 1156.7 L462.1 1160.8 L462.3 1159.5 L463.8 1155.0 L464.0 1157.2 L464.4 1153.0 L464.7 1156.0 L465.9 1153.2 L465.6 1154.9 L467.0 1150.1 L467.4 1154.1 L468.4 1150.7 L468.6 1150.4 L468.8 1146.9 L469.4 1149.8 L470.2 1148.2 L470.9 1147.2 L471.2 1143.2 L472.8 1144.9 L472.8 1145.9 L474.6 1141.7 L475.2 1142.5 L475.9 1139.7 L476.1 1146.2 L478.1 1142.1 L478.8 1140.1 L480.0 1140.9 L481.4 1143.0 L482.4 1144.1 L482.9 1136.9 L484.0 1137.7 L485.1 1136.4 L486.9 1142.3 L487.9 1142.7 L489.6 1135.7 L490.4 1138.1 L490.8 1142.4 L492.0 1139.2 L493.5 1142.3 L494.7 1138.0 L495.7 1136.4 L497.6 1143.5 L497.7 1136.1 L498.7 1139.2 L500.4 1144.4 L501.5 1137.3 L502.5 1143.0 L503.5 1145.5 L504.0 1137.8 L506.1 1144.2 L506.9 1138.1 L507.8 1141.6 L508.1 1137.2 L509.2 1134.8 L510.5 1134.5 L511.1 1133.6 L512.6 1131.8 L513.5 1132.8 L513.6 1138.9 L514.7 1138.5 L516.3 1137.5 L516.3 1132.9 L517.1 1136.8 L518.9 1133.3 L519.4 1129.9 L520.7 1130.6 L521.2 1126.7 L521.6 1125.3 L523.4 1129.3 L523.9 1131.7 L525.2 1127.2 L526.3 1125.8 L528.1 1127.2 L528.2 1129.4 L529.1 1134.3 L529.4 1135.9 L530.0 1136.0 L531.2 1130.3 L531.5 1131.7 L531.7 1131.7 L532.3 1140.1 L533.7 1140.2 L533.3 1134.9 L535.0 1133.5 L535.9 1136.2 L537.3 1134.0 L538.8 1136.4 L538.8 1132.4 L540.6 1136.7 L540.4 1135.1 L541.9 1132.3 L542.1 1130.9 L542.2 1136.1 L543.5 1129.8 L543.4 1128.0 L544.7 1131.1 L544.9 1127.5 L546.0 1131.5 L546.9 1129.5 L546.9 1123.8 L548.2 1126.3 L548.9 1122.3 L549.7 1124.4 L550.4 1128.9 L550.9 1120.1 L552.2 1123.9 L553.0 1121.3 L553.1 1126.1 L554.2 1119.1 L555.2 1122.6 L555.7 1121.3 L557.1 1120.7 L557.7 1122.1 L559.5 1123.1 L559.8 1121.1 L560.9 1121.1 L561.4 1121.9 L563.5 1118.0 L563.9 1118.0 L565.3 1112.9 L567.3 1114.7 L567.7 1113.9 L569.2 1121.1 L569.8 1114.7 L571.6 1116.2 L571.7 1120.6 L573.2 1120.5 L574.3 1117.2 L575.4 1123.8 L575.4 1118.7 L576.8 1123.0 L577.5 1120.1 L578.6 1120.7 L579.7 1128.1 L580.1 1125.8 L582.2 1122.0 L583.7 1129.6 L584.4 1124.2 L586.1 1124.8 L586.3 1128.3 L587.6 1122.0 L587.8 1121.4 L588.8 1127.0 L590.0 1125.6 L590.8 1124.3 L590.7 1120.4 L592.6 1123.6 L592.5 1117.9 L593.8 1116.5 L594.5 1112.9 L595.1 1116.3 L595.4 1112.0 L597.4 1117.4 L598.1 1115.2 L598.8 1117.0 L599.7 1108.2 L600.2 1109.8 L601.0 1109.3 L601.6 1115.0 L602.5 1108.0 L603.2 1109.3 L604.5 1107.4 L604.5 1110.3 L605.5 1109.1 L607.7 1107.7 L608.1 1106.5 L609.6 1102.8 L610.3 1101.9 L611.7 1103.8 L612.5 1101.7 L613.0 1104.1 L614.7 1104.2 L615.2 1104.0 L615.5 1104.0 L616.7 1101.8 L617.5 1100.5 L617.9 1097.7 L618.4 1099.7 L619.3 1099.7 L619.6 1096.9 L621.3 1095.1 L621.6 1096.8 L622.0 1100.9 L622.7 1098.1 L623.2 1090.6 L624.8 1093.5 L624.5 1092.3 L625.6 1094.9 L625.9 1089.3 L627.6 1093.5 L627.3 1088.9 L628.3 1091.5 L629.3 1092.5 L630.2 1088.6 L630.8 1090.1 L631.5 1086.9 L632.3 1088.6 L633.1 1082.4 L633.7 1080.6 L634.4 1085.6 L634.9 1088.6 L635.8 1082.8 L636.8 1086.6 L637.4 1081.4 L638.0 1081.6 L639.1 1079.5 L639.5 1081.5 L640.3 1078.8 L642.0 1083.2 L642.8 1078.6 L643.7 1076.6 L644.8 1078.5 L646.1 1073.3 L647.3 1075.1 L648.0 1079.5 L649.0 1072.9 L649.1 1079.1 L649.4 1070.3 L650.9 1074.1 L652.1 1076.1 L652.5 1077.7 L653.3 1072.6 L654.3 1070.8 L654.8 1072.2 L655.6 1075.0 L656.9 1070.4 L657.0 1068.3 L658.2 1069.5 L659.3 1072.0 L660.6 1067.6 L660.7 1068.3 L662.2 1065.0 L662.5 1068.9 L662.8 1063.4 L664.5 1067.5 L664.7 1060.0 L665.8 1064.7 L666.4 1066.8 L667.2 1060.6 L667.0 1058.3 L668.1 1059.3 L668.2 1055.5 L669.2 1058.7 L669.3 1061.7 L670.0 1051.7 L670.1 1058.0 L670.4 1056.3 L670.4 1051.7 L671.8 1053.5 L672.0 1048.9 L672.1 1051.5 L672.2 1051.5 L672.9 1054.0 L673.3 1047.5 L673.1 1044.2 L674.2 1042.8 L673.7 1042.6 L674.5 1048.1 L675.0 1047.1 L674.8 1038.4 L676.1 1040.2 L676.5 1039.6 L676.3 1037.8 L676.6 1043.0 L677.6 1036.8 L677.9 1036.2 L677.8 1040.2 L678.9 1039.9 L679.1 1035.8 L679.3 1029.3 L680.6 1036.3 L680.3 1036.0 L681.4 1029.5 L681.9 1035.1 L682.5 1034.4 L683.0 1028.3 L684.5 1026.3 L684.9 1032.2 L686.0 1031.0 L686.8 1024.9 L688.0 1024.8 L689.8 1025.6 L690.5 1023.7 L691.7 1026.1 L692.7 1022.9 L693.6 1029.8 L695.1 1023.9 L696.1 1023.9 L697.1 1021.0 L698.4 1023.5 L698.7 1026.5 L699.5 1021.8 L701.2 1019.7 L701.6 1025.7 L702.9 1018.3 L703.2 1022.8 L703.8 1024.3 L704.1 1023.5 L705.0 1015.9 L705.5 1014.2 L706.4 1014.7 L707.2 1017.1 L707.1 1013.0 L707.9 1011.9 L708.8 1010.2 L708.9 1013.4 L709.2 1014.8 L709.9 1012.9 L710.7 1008.7 L711.0 1005.8 L711.3 1012.3 L712.0 1009.8 L712.3 1008.0 L713.2 1006.7 L713.7 1001.8 L714.3 1002.6 L714.6 1006.6 L715.6 1002.7 L717.2 1005.3 L718.0 1005.3 L717.8 998.9 L718.5 1002.0 L720.1 998.2 L720.6 1000.4 L721.7 995.8 L722.7 996.1 L723.2 993.8 L723.4 1000.2 L724.9 997.7 L724.8 990.6 L725.8 991.5 L726.7 992.7 L727.2 991.5 L728.7 989.7 L729.8 992.8 L730.4 989.3 L730.8 992.8 L731.5 985.7 L732.9 992.6 L733.0 985.0 L734.5 989.8 L734.3 985.8 L735.2 990.4 L736.1 991.0 L737.6 982.5 L738.3 984.9 L739.2 988.5 L739.4 980.9 L741.0 983.5 L741.8 985.5 L742.3 986.3 L743.0 982.2 L743.1 984.0 L744.3 981.7 L745.7 977.6 L746.7 976.1 L747.9 982.7 L748.5 979.7 L750.6 980.0 L751.2 975.8 L751.7 976.3 L753.2 974.4 L754.2 973.4 L755.8 978.1 L756.4 973.6 L757.8 975.2 L759.4 974.0 L759.8 978.8 L760.7 975.6 L762.1 977.8 L763.4 977.1 L764.1 976.2 L765.7 974.3 L767.0 977.8 L767.6 972.9 L769.3 972.3 L769.9 973.4 L771.0 977.7 L772.2 972.4 L772.9 976.3 L773.9 973.8 L774.5 972.7 L776.5 980.3 L776.3 980.4 L778.3 979.4 L778.2 979.2 L779.5 976.8 L780.6 975.5 L782.0 982.0 L782.5 985.2 L783.5 979.0 L784.1 978.2 L785.0 984.7 L787.1 980.5 L787.5 984.0 L789.5 987.1 L789.9 986.0 L791.9 985.9 L792.4 980.9 L794.2 982.5 L794.7 985.0 L795.8 988.1 L796.8 980.9 L798.1 987.0 L799.4 988.2 L800.5 990.9 L800.8 987.2 L801.2 985.8 L802.5 984.2 L803.7 985.8 L804.4 994.4 L804.6 986.1 L805.6 988.2 L806.6 987.1 L807.3 996.1 L807.9 992.8 L807.8 995.8 L808.6 994.3 L808.9 995.2 L809.7 999.7 L810.5 994.1 L810.2 997.7 L811.1 997.7 L811.1 996.2 L811.7 1000.8 L813.0 1006.2 L813.3 1008.0 L813.8 1005.3 L813.9 1000.7 L814.1 1006.8 L813.9 1007.2 L815.0 1007.2 L815.0 1006.3 L814.9 1012.7 L814.9 1006.9 L816.0 1010.2 L815.6 1013.2 L816.3 1013.3 L816.7 1013.6 L817.2 1013.2 L817.0 1012.1 L818.3 1016.5 L817.7 1020.4 L818.2 1013.9 L818.9 1016.3 L819.2 1020.1 L819.3 1021.2 L819.5 1021.5 L820.6 1018.5 L820.9 1019.5 L821.3 1027.9 L821.8 1027.2 L822.4 1022.2 L823.0 1028.8 L822.3 1030.6 L823.0 1025.1 L824.1 1029.6 L824.3 1026.3 L824.6 1026.4 L824.4 1030.2 L824.5 1033.1 L825.1 1031.1 L826.1 1033.2 L826.7 1035.8 L827.1 1036.1 L827.5 1039.9 L827.0 1039.5 L827.6 1040.5 L828.4 1041.9 L828.1 1038.4 L829.3 1044.8 L829.6 1036.9 L829.9 1038.3 L830.2 1045.9 L830.0 1047.9 L831.1 1042.3 L830.9 1045.0 L832.0 1047.2 L831.5 1042.6 L831.8 1051.0 L832.3 1049.5 L832.7 1051.6 L833.2 1047.2 L834.0 1051.8 L834.1 1055.2 L834.7 1048.3 L834.3 1050.5 L834.7 1058.2 L835.4 1051.0 L834.9 1059.3 L835.8 1056.0 L835.8 1054.6 L836.5 1057.6 L836.8 1060.5 L836.1 1058.6 L836.5 1064.9 L837.2 1057.5 L837.0 1061.4 L837.6 1064.3 L837.8 1063.0 L837.5 1066.0 L838.2 1061.5 L838.6 1071.6 L838.3 1064.3 L839.3 1066.4 L839.1 1069.4 L839.3 1070.9 L839.9 1075.4 L840.7 1067.4 L840.4 1075.3 L841.0 1076.2 L841.0 1075.7 L840.9 1073.1 L841.7 1079.6 L842.1 1078.6 L841.6 1080.2 L842.3 1078.6 L842.5 1077.9 L842.6 1079.3 L842.3 1079.4 L842.8 1086.5 L843.3 1081.4 L843.2 1080.9 L843.6 1080.8 L843.5 1088.7 L844.3 1085.4 L844.7 1084.9 L844.4 1083.5 L844.9 1086.6 L845.6 1089.8 L846.1 1088.6 L846.4 1091.8 L845.6 1088.7 L846.5 1097.3 L846.5 1096.1 L846.8 1097.9 L846.6 1095.0 L847.9 1093.9 L847.4 1092.3 L847.5 1095.5 L848.4 1095.8 L848.3 1096.5 L848.8 1103.7 L849.1 1098.1 L849.5 1106.3 L849.6 1098.7 L850.1 1107.1 L849.8 1100.9 L849.8 1105.5 L850.9 1107.3 L851.2 1104.0 L850.8 1110.0 L851.4 1107.5 L851.7 1107.7 L851.2 1109.2 L851.5 1112.0 L852.1 1111.5 L852.6 1110.0 L852.9 1108.8 L853.8 1115.3 L854.2 1111.2 L854.0 1118.5 L854.0 1113.3 L854.1 1114.7 L855.1 1115.0 L855.5 1119.0 L855.5 1121.4 L855.8 1122.9 L856.1 1120.5 L856.6 1120.6 L856.9 1126.3 L857.3 1122.7 L857.6 1129.9 L857.5 1123.9 L857.9 1131.1 L857.7 1122.9 L858.4 1129.9 L859.1 1127.8 L859.6 1127.3 L859.7 1126.8 L859.1 1128.0 L859.4 1132.3 L860.3 1130.0 L861.1 1132.5 L860.5 1131.5 L861.5 1139.5 L861.1 1131.7 L862.1 1134.6 L862.7 1137.9 L862.6 1137.3 L863.1 1139.2 L862.8 1144.4 L862.8 1143.6 L863.2 1143.9 L864.0 1147.2 L863.8 1145.1 L864.5 1149.3 L865.4 1147.3 L864.8 1144.5 L865.1 1147.0 L865.3 1145.6 L866.2 1150.7 L865.9 1154.9 L866.0 1151.7 L866.2 1155.3 L867.3 1150.4 L867.4 1156.6 L867.1 1152.8 L867.6 1159.0 L867.5 1157.8 L868.3 1156.5 L868.5 1161.5 L868.3 1162.3 L868.8 1162.2 L869.6 1157.3 L869.9 1166.0 L869.5 1157.5 L869.5 1167.4 L869.6 1167.7 L870.1 1166.8 L870.3 1162.2 L871.2 1162.3 L871.1 1171.1 L871.8 1171.5 L872.3 1164.2 L871.7 1172.3 L872.5 1165.8 L872.5 1168.5 L872.8 1168.4 L872.7 1178.1 L873.4 1177.9 L873.5 1175.0 L873.8 1175.3 L874.1 1178.6 L874.4 1180.0 L875.1 1174.9 L875.3 1179.4 L876.3 1178.9 L875.7 1185.6 L876.8 1184.2 L876.4 1179.7 L876.7 1179.5 L876.8 1184.6 L877.5 1185.9 L877.8 1181.4 L878.5 1188.4 L878.6 1188.2 L879.1 1193.2 L879.6 1191.4 L879.4 1188.4 L879.7 1195.5 L879.9 1190.6 L880.3 1189.1 L881.3 1188.6 L881.3 1198.4 L881.3 1196.6 L881.9 1194.3 L882.1 1194.3 L883.3 1201.5 L883.8 1195.9 L883.9 1199.3 L884.2 1202.2 L884.1 1206.8 L884.0 1205.7 L885.4 1204.4 L885.4 1209.5 L885.3 1207.2 L886.3 1205.8 L886.5 1206.8 L886.6 1209.5 L887.1 1207.8 L887.4 1210.5 L887.2 1211.9 L887.6 1215.1 L888.1 1214.4 L888.5 1213.1 L888.5 1211.1 L889.6 1215.1 L889.6 1216.2 L890.4 1215.0 L890.0 1220.7 L890.8 1220.4 L891.7 1223.4 L892.1 1217.8 L891.9 1224.8 L892.8 1220.2 L892.3 1222.0 L892.6 1223.6 L893.8 1225.7 L893.8 1223.3 L894.0 1230.7 L894.7 1227.5 L894.8 1230.7 L895.6 1227.2 L896.0 1229.8 L896.3 1230.0 L896.5 1231.8 L897.0 1230.7 L897.2 1235.6 L897.4 1234.1 L898.6 1235.9 L898.3 1236.6 L899.2 1236.5 L899.2 1242.5 L898.9 1240.7 L899.8 1242.9 L899.5 1240.2 L899.7 1243.3 L900.2 1243.8 L900.0 1247.1 L900.6 1246.1 L900.3 1248.5 L901.1 1246.9 L901.3 1251.1 L900.8 1251.6 L900.9 1248.7 L901.7 1251.6 L901.7 1253.3 L902.6 1255.8 L902.1 1255.5 L903.0 1255.5 L903.9 1256.0 L904.0 1259.7 L905.3 1257.3 L906.7 1259.4 L907.4 1258.0 L907.6 1252.8 L908.3 1255.0 L908.7 1255.4 L908.3 1251.1 L908.5 1253.9 L908.9 1248.6 L909.9 1250.7 L909.4 1250.5 L910.4 1248.5 L909.9 1249.0 L910.6 1247.5 L911.6 1248.1 L911.9 1243.2 L911.6 1244.6 L911.6 1246.7 L913.0 1241.2 L914.4 1242.0 L915.5 1244.6 L915.5 1244.6 L915.4 1244.7 L916.7 1248.5 L917.0 1246.0 L916.5 1245.6 L917.2 1248.4 L917.5 1250.0 L918.0 1250.1 L918.6 1250.0 L919.1 1253.0 L918.4 1252.4 L919.3 1253.8 L919.7 1254.1 L919.7 1257.7 L920.3 1258.3 L921.5 1258.7 L921.4 1261.5 L921.8 1262.0 L921.7 1260.2 L922.8 1258.8 L923.5 1259.7 L923.6 1261.2 L924.4 1264.2 L924.6 1264.6 L924.9 1266.5 L924.8 1264.6 L925.9 1265.0 L926.4 1266.2 L925.8 1266.3 L927.0 1271.9 L927.0 1270.9 L927.4 1273.3 L928.5 1270.1 L928.3 1273.8 L928.8 1275.4 L929.6 1272.7 L930.5 1273.9 L931.2 1273.8 L932.3 1275.6 L932.9 1275.5 L933.6 1280.8 L933.8 1276.3 L934.5 1280.3 L935.0 1280.4 L935.5 1280.6 L937.0 1281.0 L937.8 1280.0 L938.9 1280.8 L939.9 1286.2 L940.8 1284.2 L940.9 1283.8 L942.3 1285.1 L943.5 1283.1 L944.0 1287.2 L945.1 1285.6 L945.6 1283.1 L946.9 1286.6 L948.7 1282.5 L950.0 1280.8 L950.5 1284.9 L951.0 1284.2 L952.2 1279.1 L952.6 1280.4 L953.3 1281.2 L954.0 1280.8 L954.9 1276.5 L956.0 1276.0 L956.8 1278.8 L957.5 1276.5 L957.6 1276.1 L958.4 1276.1 L959.1 1275.1 L960.0 1273.5 L961.1 1271.8 L961.2 1274.8 L962.0 1273.6 L963.4 1271.2 L963.1 1268.6 L964.6 1268.0 L964.8 1269.2 L965.0 1268.1 L965.7 1267.6 L966.7 1266.1 L967.1 1265.3 L967.8 1263.1 L968.6 1265.4 L969.7 1264.5 L969.8 1263.8 L971.0 1262.2 L971.8 1260.7 L972.1 1259.9 L972.4 1257.1 L972.7 1256.8 L973.8 1255.6 L974.6 1253.7 L974.7 1253.3 L975.1 1254.5 L975.6 1250.7 L975.4 1251.8 L976.6 1248.6 L976.4 1250.1 L977.0 1247.6 L977.3 1246.9 L977.6 1244.4 L977.8 1245.1 L977.4 1243.1 L977.4 1244.7 L978.1 1241.7 L977.9 1240.8 L977.9 1240.2 L978.2 1242.2 L979.2 1240.6 L978.8 1238.7 L979.4 1239.3 L979.5 1237.4 L979.0 1236.5 L980.0 1236.2 L979.3 1235.1 L979.8 1232.2 L980.8 1233.2 L980.7 1230.4 L981.0 1232.4 L981.3 1230.8 L981.4 1230.2 L981.4 1228.1 L981.9 1228.5 L982.1 1225.9 L982.5 1225.9 L982.7 1223.7 L983.0 1225.2 L982.3 1224.6 L982.6 1221.6 L983.1 1220.9 L983.3 1222.4 L983.8 1220.9 L983.7 1220.3 L984.5 1219.2 L984.9 1218.8 L984.5 1215.6 L985.0 1217.3 L984.9 1215.6 L985.8 1215.5 L985.0 1213.7 L985.3 1211.6 L986.5 1211.8 L986.5 1211.2 L986.5 1209.6 L986.7 1210.8 L987.3 1208.2 L986.9 1207.3 L987.9 1207.1 L988.1 1207.4 L987.8 1206.2 L987.9 1205.8 L988.3 1203.3 L989.5 1202.8 L988.9 1203.6 L989.6 1202.8 L989.6 1200.8 L990.5 1200.0 L990.8 1198.3 L990.9 1197.4 L990.8 1196.1 L990.6 1198.1 L991.2 1196.9 L991.2 1194.8 L991.3 1194.6 L992.5 1193.7 L992.2 1194.1 L993.0 1192.6 L992.3 1191.7 L993.0 1191.8 L993.2 1190.2 L993.8 1188.6 L993.9 1188.7 L994.6 1187.4 L994.2 1187.9 L994.1 1186.7 L995.1 1185.2 L995.1 1184.9 L995.9 1184.1 L996.0 1181.4 L995.7 1180.9 L996.7 1182.0 L996.0 1180.4 L996.7 1178.2 L996.8 1179.2 L997.3 1177.1 L997.7 1176.3 L997.7 1175.8 L998.4 1175.5 L998.4 1174.7 L998.2 1174.5 L998.8 1172.7 L998.6 1170.2 L999.1 1171.1 L999.6 1169.1 L999.0 1168.7 L1000.1 1167.0 L1000.1 1166.3 L999.7 1165.2 L999.9 1165.1 L1000.9 1165.7 L1000.1 1163.3 L1001.2 1162.2 L1000.6 1161.9 L1000.5 1160.6 L1001.0 1160.1 L1001.9 1158.9 L1001.1 1159.6 L1001.6 1158.6 L1002.0 1157.6 L1001.8 1155.2 L1002.5 1155.2 L1002.4 1154.8 L1002.8 1153.0 L1002.5 1153.7 L1002.9 1151.3 L1003.1 1150.4 L1003.5 1149.1 L1003.7 1149.5 L1003.3 1149.5 L1003.4 1147.1 L1003.3 1147.0 L1004.3 1146.5 L1004.0 1146.0 L1003.9 1144.0 L1004.7 1144.8 L1004.9 1143.0 L1005.3 1141.1 L1005.7 1141.1 L1005.2 1139.4 L1006.0 1138.4 L1005.4 1138.8 L1006.1 1137.1 L1006.4 1137.2 L1006.0 1135.1 L1006.1 1134.4 L1006.8 1134.7 L1007.2 1133.2 L1007.1 1132.4 L1007.2 1132.3 L1008.1 1131.1 L1007.6 1129.6 L1008.7 1128.0 L1009.1 1127.8 L1009.3 1126.4 L1009.4 1125.4 L1009.0 1124.2 L1009.9 1123.2 L1009.6 1121.1 L1010.2 1122.1 L1010.0 1119.9 L1010.2 1118.8 L1010.9 1120.0 L1011.3 1117.7 L1011.3 1116.2 L1011.7 1116.0 L1010.9 1115.8 L1011.3 1114.1 L1011.4 1113.4 L1012.3 1113.1 L1011.9 1112.0 L1012.3 1109.4 L1013.0 1108.8 L1012.9 1108.6 L1012.9 1108.3 L1013.1 1107.6 L1013.9 1106.1 L1013.2 1105.8 L1013.3 1104.4 L1014.0 1102.5 L1014.4 1103.2 L1014.5 1101.6 L1014.6 1101.3 L1014.4 1101.1 L1015.5 1100.1 L1015.6 1098.1 L1015.8 1096.7 L1015.4 1096.0 L1015.5 1096.5 L1016.0 1095.1 L1015.7 1093.6 L1016.0 1093.0 L1015.9 1093.2 L1016.5 1091.7 L1016.2 1091.5 L1016.4 1089.6 L1017.0 1089.8 L1017.7 1089.0 L1017.8 1088.6 L1017.7 1087.3 L1017.1 1085.3 L1017.2 1086.0 L1018.2 1084.6 L1017.9 1083.1 L1017.9 1083.0 L1019.1 1081.4 L1018.1 1080.3 L1018.6 1081.2 L1019.3 1079.3 L1018.7 1077.7 L1018.9 1078.5 L1019.5 1077.8 L1020.3 1076.2 L1020.1 1075.1 L1019.9 1072.2 L1020.7 1072.0 L1020.5 1070.2 L1020.6 1070.6 L1021.6 1069.5 L1022.2 1067.2 L1022.2 1065.8 L1022.4 1066.1 L1021.8 1063.4 L1022.1 1063.9 L1022.4 1061.7 L1023.2 1062.8 L1022.9 1060.2 L1023.6 1060.5 L1022.8 1059.2 L1023.6 1059.7 L1023.6 1058.2 L1023.4 1056.4 L1024.4 1055.9 L1023.7 1055.5 L1023.9 1053.6 L1024.4 1053.7 L1024.8 1053.0 L1024.8 1050.6 L1025.3 1049.6 L1025.2 1049.3 L1025.6 1048.9 L1025.3 1047.6 L1026.0 1046.0 L1025.5 1046.2 L1026.2 1043.4 L1025.9 1044.8 L1026.0 1042.5 L1026.8 1042.7 L1026.7 1041.7 L1026.2 1039.3 L1027.4 1040.1 L1026.4 1037.5 L1026.8 1038.7 L1026.9 1037.2 L1027.9 1036.3 L1028.0 1034.5 L1027.2 1033.1 L1028.1 1032.4 L1028.5 1032.9 L1027.7 1032.3 L1027.8 1030.7 L1027.8 1030.4 L1028.9 1029.9 L1028.0 1028.8 L1028.8 1027.9 L1028.8 1026.5 L1029.1 1026.0 L1028.6 1023.4 L1029.3 1023.1 L1029.2 1021.5 L1029.8 1020.7 L1030.0 1021.7 L1029.7 1019.2 L1030.0 1018.5 L1029.9 1017.5 L1030.7 1017.6 L1030.1 1015.7 L1030.7 1016.7 L1030.9 1014.1 L1030.5 1013.8 L1031.1 1012.6 L1031.0 1013.7 L1031.4 1010.3 L1030.8 1009.3 L1031.7 1009.4 L1031.7 1007.9 L1031.8 1007.3 L1032.2 1007.1 L1032.5 1005.9 L1032.9 1005.1 L1032.8 1002.4 L1032.9 1003.4 L1032.8 1002.6 L1032.7 1002.0 L1033.1 1000.6 L1033.1 998.8 L1033.3 998.1 L1033.2 997.6 L1034.5 996.9 L1034.7 996.0 L1034.8 995.4 L1034.9 992.6 L1034.6 991.8 L1034.6 990.2 L1035.8 990.7 L1035.4 989.2 L1036.2 988.3 L1036.5 986.4 L1035.9 986.2 L1036.3 985.0 L1036.5 984.0 L1037.4 982.3 L1037.0 982.6 L1037.2 982.4 L1037.3 981.5 L1037.8 980.7 L1037.3 978.1 L1037.7 978.8 L1037.5 976.4 L1038.6 977.1 L1038.1 974.7 L1039.0 974.2 L1039.3 973.2 L1038.9 970.9 L1038.8 971.1 L1039.2 969.3 L1040.2 969.3 L1039.9 968.5 L1040.1 967.8 L1039.9 965.5 L1039.8 964.6 L1040.3 964.0 L1040.2 964.0 L1041.4 963.6 L1040.7 962.9 L1040.8 960.5 L1041.1 960.3 L1041.7 959.5 L1041.9 957.9 L1042.3 957.6 L1042.4 956.0 L1042.5 955.5 L1042.7 956.0 L1042.7 953.9 L1042.1 952.8 L1043.3 951.9 L1043.2 952.0 L1043.3 950.1 L1042.9 949.1 L1044.1 948.9 L1043.8 948.4 L1043.5 946.4 L1043.5 947.3 L1043.8 946.7 L1044.2 945.3 L1044.1 944.6 L1044.4 942.8 L1044.9 941.3 L1044.7 942.1 L1045.0 940.3 L1045.7 939.1 L1045.2 938.3 L1045.6 937.8 L1046.0 937.2 L1046.5 935.4 L1046.4 936.5 L1046.1 933.4 L1046.6 932.5 L1046.9 932.9 L1046.6 930.6 L1047.3 929.9 L1047.2 929.6 L1047.3 927.8 L1047.7 927.8 L1048.6 927.2 L1047.8 925.5 L1048.8 925.4 L1049.1 925.4 L1049.3 922.6 L1049.6 922.7 L1049.0 921.0 L1049.9 920.2 L1049.2 919.5 L1050.4 919.1 L1050.3 917.4 L1050.2 917.1 L1050.1 917.0 L1050.5 915.0 L1051.4 915.0 L1050.7 913.1 L1051.4 913.4 L1050.9 912.5 L1051.9 911.8 L1051.5 910.9 L1052.2 910.5 L1051.8 910.0 L1052.9 909.1 L1053.0 907.4 L1053.4 905.8 L1052.9 905.6 L1054.0 903.3 L1053.5 902.0 L1054.0 901.2 L1054.1 901.4 L1054.8 900.8 L1054.9 899.1 L1054.7 898.7 L1055.2 896.8 L1055.8 896.9 L1056.0 896.1 L1056.4 893.4 L1056.9 892.5 L1057.3 892.2 L1056.7 892.5 L1057.0 890.4 L1057.3 890.1 L1057.2 888.6 L1057.6 888.8 L1057.6 887.4 L1058.2 886.3 L1058.7 886.0 L1058.5 884.1 L1058.7 885.0 L1059.0 882.3 L1059.7 882.5 L1060.3 880.5 L1059.9 880.0 L1060.6 879.5 L1060.8 879.4 L1061.5 878.2 L1062.2 875.7 L1062.6 875.0 L1062.0 875.0 L1062.4 871.9 L1063.1 871.5 L1064.2 871.9 L1064.0 870.2 L1064.9 869.9 L1065.0 868.4 L1064.8 866.9 L1065.8 866.8 L1066.4 866.7 L1067.0 864.3 L1066.4 865.1 L1067.3 862.6 L1067.9 862.0 L1067.8 861.5 L1068.5 861.5 L1068.4 860.8 L1069.5 859.5 L1070.2 859.2 L1070.1 857.3 L1071.5 856.8 L1072.1 854.6 L1073.1 855.0 L1073.0 853.2 L1074.4 851.8 L1074.4 852.6 L1075.6 850.0 L1075.9 849.6 L1076.3 849.8 L1076.2 847.9 L1076.8 847.3 L1077.2 846.1 L1078.3 845.8 L1078.6 845.3 L1080.2 844.6 L1080.2 844.1 L1081.0 842.2 L1082.0 841.1 L1083.2 840.6 L1083.9 842.1 L1085.3 841.5 L1086.2 841.4 L1087.2 842.4 L1087.7 842.7 L1088.8 842.3 L1090.1 843.7 L1090.8 845.1 L1091.2 844.3 L1091.2 845.9 L1092.6 846.2 L1092.6 846.5 L1093.2 848.7 L1093.5 848.4 L1094.2 850.2 L1095.5 849.4 L1095.0 852.2 L1096.3 851.1 L1096.1 852.7 L1096.5 853.2 L1097.2 853.8 L1097.3 854.4 L1097.9 855.4 L1098.9 857.7 L1099.0 859.0 L1100.0 859.1 L1100.2 859.8 L1101.1 861.8 L1100.4 861.6 L1101.4 862.9 L1101.7 863.4 L1102.1 865.5 L1101.6 865.8 L1102.0 866.9 L1103.0 867.9 L1102.6 867.3 L1103.4 869.2 L1103.1 869.3 L1103.9 870.0 L1104.2 871.2 L1104.1 872.6 L1104.7 874.2 L1104.5 875.1 L1105.0 875.2 L1105.8 877.2 L1106.1 878.7 L1106.0 878.6 L1106.8 879.6 L1106.5 880.7 L1107.4 882.8 L1107.6 883.9 L1107.9 883.3 L1107.6 885.0 L1107.5 885.6 L1107.7 885.2 L1108.4 886.2 L1109.1 888.7 L1108.8 888.0 L1108.6 889.6 L1109.3 890.1 L1109.7 891.3 L1110.0 891.3 L1109.4 892.7 L1110.1 893.3 L1110.5 894.1 L1110.3 895.5 L1111.0 897.0 L1110.8 897.2 L1111.6 899.1 L1111.5 898.2 L1111.5 900.2 L1111.6 899.7 L1112.5 902.5 L1111.8 902.4 L1112.6 902.9 L1112.2 904.7 L1113.2 904.8 L1112.6 905.6 L1112.9 907.6 L1113.0 907.0 L1114.0 907.5 L1113.5 908.2 L1113.8 910.0 L1114.7 910.0 L1114.2 912.1 L1114.7 912.0 L1114.6 912.6 L1115.7 913.1 L1115.2 915.3 L1116.1 916.5 L1115.9 917.4 L1116.2 916.7 L1116.3 918.5 L1116.8 918.0 L1116.4 920.6 L1116.5 921.1 L1117.0 920.7 L1117.1 922.0 L1118.1 922.1 L1118.2 923.3 L1117.7 925.0 L1118.1 924.6 L1118.4 926.8 L1119.1 927.1 L1118.4 928.3 L1119.2 929.5 L1119.8 929.0 L1119.9 930.9 L1119.5 930.8 L1119.8 931.6 L1120.1 931.9 L1120.1 934.5 L1120.5 934.7 L1121.3 935.8 L1120.8 937.0 L1121.6 938.0 L1121.7 938.3 L1122.0 938.1 L1122.1 939.2 L1122.5 939.4 L1122.3 940.7 L1122.8 941.5 L1123.1 943.4 L1123.3 942.7 L1123.6 944.8 L1123.5 945.4 L1123.0 946.7 L1123.8 946.6 L1123.7 948.2 L1124.4 949.2 L1124.0 948.8 L1124.3 949.2 L1124.6 949.8 L1125.3 951.1 L1124.7 951.6 L1125.6 952.7 L1125.5 954.0 L1126.1 956.0 L1125.8 956.1 L1126.6 956.6 L1126.8 958.0 L1126.4 959.1 L1126.8 958.3 L1127.1 960.7 L1127.2 960.8 L1127.3 962.5 L1127.7 961.9 L1127.6 963.1 L1128.4 964.6 L1127.7 965.9 L1127.8 966.1 L1128.4 967.2 L1128.6 966.7 L1128.9 969.1 L1129.4 968.9 L1129.0 970.6 L1129.8 970.3 L1130.0 972.8 L1129.7 972.3 L1130.2 974.3 L1129.9 973.8 L1130.2 975.5 L1130.2 975.9 L1130.7 977.0 L1130.5 978.5 L1131.6 978.4 L1131.5 978.5 L1131.8 980.1 L1131.8 981.6 L1131.6 982.5 L1131.6 981.4 L1132.0 984.1 L1132.6 985.1 L1132.4 985.8 L1132.6 985.0 L1132.8 987.2 L1132.7 987.6 L1132.7 987.7 L1133.1 989.1 L1133.3 989.0 L1132.9 990.3 L1133.8 992.0 L1133.5 991.8 L1133.9 992.5 L1134.2 994.8 L1133.9 995.0 L1134.6 996.2 L1134.8 996.9 L1134.4 998.0 L1135.3 997.2 L1135.5 998.8 L1134.7 998.8 L1135.6 1001.0 L1135.1 1001.3 L1135.8 1003.3 L1135.6 1003.6 L1135.6 1003.2 L1135.7 1004.5 L1136.4 1005.1 L1136.0 1005.8 L1136.1 1006.5 L1136.5 1008.0 L1136.5 1008.8 L1136.9 1010.7 L1137.2 1011.4 L1137.3 1010.7 L1137.6 1011.4 L1137.3 1012.1 L1138.0 1014.8 L1137.8 1014.3 L1138.0 1015.2 L1138.4 1016.1 L1138.0 1017.9 L1138.6 1016.9 L1139.1 1019.3 L1138.7 1019.9 L1139.4 1020.3 L1139.1 1020.9 L1139.3 1022.5 L1139.7 1023.9 L1139.2 1023.5 L1140.1 1025.3 L1140.0 1025.9 L1139.9 1027.3 L1140.3 1026.9 L1140.0 1027.2 L1140.9 1029.4 L1140.2 1029.3 L1140.8 1030.5 L1140.8 1032.1 L1141.0 1032.2 L1141.7 1033.2 L1141.4 1033.4 L1141.5 1034.8 L1142.1 1034.9 L1141.8 1036.0 L1142.0 1037.9 L1142.3 1037.4 L1142.3 1039.3 L1142.2 1039.8 L1142.3 1039.6 L1142.5 1041.7 L1142.8 1041.3 L1142.8 1042.1 L1143.7 1044.0 L1144.1 1045.3 L1143.9 1046.1 L1143.7 1046.9 L1144.2 1046.2 L1144.8 1048.5 L1144.6 1047.7 L1145.3 1050.0 L1145.3 1051.3 L1144.9 1050.2 L1145.2 1050.9 L1146.0 1053.0 L1145.6 1052.9 L1145.9 1054.7 L1146.7 1056.2 L1146.6 1057.1 L1146.9 1056.7 L1146.9 1057.2 L1147.9 1059.6 L1147.8 1058.7 L1147.5 1059.5 L1147.9 1061.5 L1147.8 1061.9 L1148.7 1061.7 L1148.7 1064.1 L1149.0 1064.2 L1149.6 1065.3 L1149.2 1065.7 L1150.1 1067.4 L1150.3 1067.6 L1149.7 1067.6 L1150.2 1069.5 L1150.0 1070.5 L1151.0 1070.7 L1150.4 1072.1 L1151.0 1072.6 L1151.4 1073.5 L1151.4 1074.8 L1152.2 1075.5 L1152.0 1075.1 L1152.0 1075.8 L1152.7 1077.8 L1152.8 1078.7 L1153.2 1079.2 L1152.7 1080.2 L1152.8 1080.7 L1152.9 1082.1 L1153.4 1081.7 L1154.1 1082.1 L1154.2 1084.3 L1153.6 1085.2 L1154.2 1086.3 L1154.4 1086.1 L1154.9 1086.2 L1154.9 1087.0 L1154.6 1087.9 L1155.4 1089.4 L1155.4 1089.8 L1155.6 1091.4 L1155.1 1091.9 L1155.9 1092.1 L1156.0 1093.0 L1155.9 1095.2 L1156.7 1096.2 L1156.3 1096.1 L1156.9 1097.3 L1156.7 1098.3 L1156.8 1099.3 L1157.1 1098.3 L1157.6 1099.2 L1157.7 1099.8 L1158.2 1101.6 L1158.1 1101.6 L1158.2 1102.9 L1158.0 1104.7 L1158.0 1104.8 L1158.3 1106.4 L1159.3 1105.5 L1159.1 1107.2 L1159.6 1108.6 L1159.4 1109.8 L1159.5 1109.0 L1160.4 1109.7 L1159.9 1111.3 L1160.3 1111.5 L1161.2 1112.9 L1161.3 1113.3 L1161.6 1114.0 L1161.9 1115.7 L1162.2 1116.8 L1162.1 1117.1 L1162.5 1117.8 L1162.0 1119.5 L1163.0 1119.9 L1163.1 1119.8 L1163.1 1121.8 L1163.8 1122.8 L1163.2 1123.1 L1163.9 1123.4 L1163.7 1123.6 L1164.3 1125.2 L1164.3 1125.8 L1164.9 1127.4 L1165.1 1127.0 L1165.7 1128.2 L1166.0 1130.3 L1165.4 1130.3 L1166.5 1130.7 L1166.3 1131.3 L1166.0 1131.9 L1166.3 1132.9 L1167.1 1134.3 L1167.6 1135.4 L1167.3 1136.7 L1167.8 1136.7 L1168.2 1137.8 L1167.9 1138.5 L1168.1 1140.1 L1168.3 1140.9 L1168.3 1139.7 L1169.1 1141.0 L1169.3 1141.6 L1169.8 1143.6 L1169.9 1144.9 L1170.4 1145.2 L1170.4 1144.7 L1169.9 1146.4 L1171.1 1147.0 L1170.9 1147.2 L1171.0 1149.8 L1171.4 1150.5 L1171.0 1150.0 L1171.4 1152.1 L1171.6 1153.1 L1172.0 1153.9 L1172.5 1153.5 L1173.2 1154.5 L1173.1 1154.6 L1173.5 1157.3 L1173.0 1157.6 L1173.4 1157.2 L1173.7 1159.0 L1174.5 1160.5 L1174.8 1160.5 L1174.7 1160.4 L1175.0 1162.0 L1174.9 1163.5 L1175.0 1162.8 L1175.1 1163.6 L1175.8 1165.8 L1175.6 1166.0 L1176.3 1167.0 L1176.4 1167.8 L1176.2 1167.6 L1176.9 1168.8 L1177.5 1169.7 L1177.8 1170.5 L1177.3 1171.8 L1177.8 1172.3 L1178.5 1172.9 L1178.6 1175.0 L1178.6 1175.1 L1179.4 1176.1 L1178.8 1175.9 L1179.0 1177.2 L1179.2 1178.6 L1179.8 1178.8 L1180.2 1180.8 L1180.1 1180.0 L1180.5 1181.2 L1181.3 1182.8 L1181.1 1182.4 L1181.0 1183.1 L1182.0 1185.0 L1181.6 1185.7 L1181.8 1186.3 L1182.3 1186.2 L1183.0 1188.3 L1183.0 1187.9 L1183.5 1189.2 L1183.8 1189.4 L1184.3 1190.0 L1183.9 1191.7 L1184.2 1191.9 L1185.1 1194.6 L1185.0 1193.9 L1185.7 1194.7 L1185.7 1196.5 L1186.1 1196.2 L1186.1 1197.8 L1187.3 1199.4 L1186.8 1199.4 L1187.5 1199.6 L1188.0 1201.0 L1188.5 1201.4 L1189.0 1203.3 L1188.9 1202.7 L1189.2 1203.5 L1189.7 1205.5 L1190.0 1206.8 L1189.8 1207.1 L1190.9 1206.6 L1190.8 1207.3 L1191.4 1209.4 L1191.6 1210.5 L1192.2 1211.6 L1192.6 1213.2 L1193.2 1212.4 L1193.3 1214.7 L1194.5 1215.4 L1194.2 1216.7 L1195.2 1216.0 L1195.3 1217.9 L1195.3 1217.5 L1196.1 1219.9 L1197.1 1219.6 L1197.5 1221.3 L1197.8 1221.7 L1198.4 1222.5 L1198.7 1223.1 L1198.4 1223.8 L1199.1 1224.2 L1199.4 1225.3 L1200.1 1225.4 L1200.2 1226.7 L1200.8 1227.3 L1201.4 1227.6 L1201.7 1228.5 L1202.3 1230.1 L1202.7 1230.5 L1202.6 1232.1 L1203.3 1231.8 L1203.5 1232.6 L1204.3 1234.2 L1204.5 1234.8 L1204.7 1235.1 L1205.2 1235.6 L1205.7 1237.3 L1206.4 1237.0 L1206.4 1239.0 L1207.2 1239.6 L1207.6 1240.4 L1207.7 1240.0 L1208.2 1240.7 L1209.2 1242.5 L1209.3 1244.2 L1209.9 1243.5 L1209.8 1244.0 L1210.7 1246.0 L1210.8 1246.1 L1211.0 1247.1 L1211.8 1248.6 L1212.4 1249.3 L1212.6 1249.4 L1213.1 1251.6 L1213.5 1250.8 L1214.2 1253.2 L1215.3 1252.8 L1215.8 1254.7 L1215.9 1254.1 L1216.8 1255.2 L1216.7 1257.0 L1217.5 1256.7 L1218.2 1257.2 L1218.2 1258.1 L1219.1 1258.1 L1219.6 1260.2 L1220.1 1260.8 L1221.0 1260.5 L1221.0 1262.2 L1222.2 1262.1 L1222.4 1264.0 L1223.7 1263.5 L1224.0 1264.9 L1224.3 1264.6 L1224.9 1266.6 L1225.7 1267.0 L1225.7 1267.2 L1226.4 1268.3 L1226.9 1269.9 L1227.2 1270.8 L1227.8 1271.3 L1228.3 1271.5 L1229.0 1271.2 L1230.0 1273.6 L1230.2 1274.4 L1231.1 1275.7 L1231.4 1275.2 L1232.2 1276.4 L1233.4 1277.5 L1234.1 1277.2 L1235.3 1277.2 L1236.5 1278.1 L1237.5 1277.6 L1238.0 1275.1 L1238.4 1273.3 L1238.7 1272.5 L1239.3 1272.0 L1239.8 1270.6 L1240.2 1270.2 L1240.7 1268.7 L1240.4 1268.4 L1240.5 1268.2 L1240.6 1267.3 L1240.9 1265.3 L1241.4 1264.8 L1241.3 1262.9 L1242.1 1262.5 L1241.5 1262.0 L1242.1 1260.3 L1242.1 1260.3 L1242.4 1258.5 L1243.1 1257.4 L1242.8 1256.0 L1243.3 1255.9 L1243.3 1254.4 L1243.3 1254.1 L1243.8 1253.2 L1243.9 1252.0 L1243.9 1250.2 L1244.9 1250.1 L1244.9 1248.9 L1245.0 1247.5 L1245.0 1247.4 L1245.6 1246.0" stroke="#0000ff" stroke-width="5.60"/></g>
<g transform="scale(1 1.2593)"><path d="M1245.0 1238.3 L1245.6 1236.9 L1245.8 1235.9 L1246.0 1235.2 L1246.2 1234.6 L1246.5 1233.6 L1246.7 1233.5 L1246.7 1232.3 L1247.3 1231.8 L1247.5 1231.4 L1247.8 1229.8 L1247.9 1229.9 L1248.3 1229.0 L1248.4 1227.7 L1249.1 1227.5 L1249.1 1225.7 L1249.3 1224.8 L1249.8 1225.3 L1249.9 1223.5 L1250.3 1222.6 L1250.5 1222.2 L1250.2 1221.9 L1250.8 1221.0 L1251.2 1219.8 L1251.6 1218.6 L1251.9 1217.9 L1251.6 1217.1 L1251.9 1215.9 L1252.5 1215.2 L1252.5 1214.6 L1252.8 1214.5 L1253.4 1213.5 L1253.7 1212.2 L1253.9 1211.2 L1254.2 1210.9 L1254.4 1209.4 L1254.3 1209.3 L1254.8 1208.1 L1255.2 1206.7 L1255.4 1205.9 L1255.8 1204.7 L1255.8 1204.1 L1256.2 1202.7 L1256.8 1201.1 L1257.1 1200.1 L1257.1 1199.1 L1257.7 1198.5 L1257.7 1197.8 L1257.7 1197.3 L1258.2 1196.6 L1258.3 1195.2 L1258.5 1194.9 L1258.8 1193.8 L1259.0 1192.8 L1259.4 1192.3 L1259.4 1191.8 L1259.5 1190.9 L1259.8 1190.2 L1259.9 1188.9 L1260.4 1188.3 L1260.5 1187.5 L1260.7 1186.6 L1260.8 1186.1 L1261.1 1185.2 L1261.5 1184.2 L1261.7 1183.0 L1262.0 1182.3 L1262.3 1181.8 L1262.4 1181.0 L1262.5 1180.0 L1263.0 1178.8 L1262.8 1178.1 L1263.2 1177.0 L1263.3 1176.7 L1263.6 1175.2 L1263.8 1174.6 L1264.0 1173.7 L1264.3 1172.7 L1264.6 1172.1 L1264.6 1171.2 L1264.9 1169.6 L1265.4 1169.0 L1265.5 1167.6 L1265.9 1166.5 L1266.1 1165.4 L1266.3 1164.6 L1266.5 1163.3 L1266.6 1162.2 L1267.1 1160.7 L1267.2 1160.3 L1267.2 1159.6 L1267.7 1158.2 L1267.6 1157.4 L1267.8 1156.6 L1268.0 1155.9 L1268.1 1155.3 L1268.3 1154.7 L1268.7 1153.3 L1268.6 1152.4 L1268.8 1151.7 L1269.2 1151.4 L1269.5 1150.1 L1269.2 1149.7 L1269.6 1149.0 L1269.7 1147.7 L1269.8 1147.3 L1270.1 1146.1 L1270.3 1145.5 L1270.6 1144.5 L1270.5 1143.6 L1270.9 1142.7 L1271.0 1142.0 L1271.1 1141.2 L1271.2 1140.3 L1271.6 1139.1 L1271.6 1138.9 L1272.0 1137.4 L1272.0 1137.1 L1272.3 1136.1 L1272.1 1135.2 L1272.5 1134.7 L1272.5 1133.9 L1272.8 1133.1 L1272.8 1132.1 L1273.0 1131.4 L1273.3 1129.9 L1273.7 1128.8 L1273.9 1127.7 L1274.1 1127.0 L1274.1 1125.8 L1274.4 1124.8 L1274.6 1123.6 L1274.9 1122.1 L1275.2 1121.4 L1275.4 1120.2 L1275.6 1119.4 L1276.0 1118.5 L1276.0 1117.5 L1276.4 1116.7 L1276.4 1116.2 L1276.5 1115.2 L1276.7 1113.9 L1276.8 1113.3 L1277.3 1112.2 L1277.3 1111.8 L1277.4 1110.4 L1277.7 1109.8 L1278.1 1109.3 L1278.0 1108.2 L1278.2 1107.0 L1278.4 1106.8 L1278.5 1105.8 L1278.9 1104.5 L1279.2 1103.7 L1279.1 1103.4 L1279.1 1102.3 L1279.4 1101.6 L1279.5 1100.6 L1279.8 1099.7 L1279.9 1099.0 L1280.2 1098.2 L1280.5 1097.6 L1280.5 1096.7 L1281.0 1095.3 L1281.2 1094.2 L1281.6 1093.3 L1281.7 1092.5 L1281.8 1090.7 L1282.3 1090.0 L1282.6 1088.6 L1282.7 1087.4 L1283.0 1086.3 L1283.3 1085.2 L1283.4 1084.6 L1283.6 1083.8 L1283.9 1082.5 L1284.0 1081.9 L1284.4 1081.2 L1284.5 1080.1 L1285.0 1079.2 L1285.2 1078.9 L1285.4 1078.1 L1285.4 1077.2 L1285.7 1075.9 L1286.1 1075.5 L1286.2 1074.6 L1286.1 1074.0 L1286.4 1072.8 L1286.8 1071.9 L1286.9 1071.6 L1287.0 1070.7 L1287.2 1069.8 L1287.7 1069.2 L1287.6 1068.0 L1288.2 1067.4 L1288.2 1066.6 L1288.6 1066.1 L1288.7 1065.1 L1288.9 1064.4 L1289.0 1063.9 L1289.5 1063.0 L1289.7 1061.9 L1289.9 1060.9 L1290.1 1060.5 L1290.4 1059.8 L1290.6 1058.5 L1290.7 1057.8 L1290.8 1056.9 L1291.2 1056.4 L1291.4 1055.4 L1291.4 1054.2 L1291.7 1053.3 L1291.9 1052.1 L1292.1 1051.4 L1292.3 1050.7 L1292.5 1049.9 L1292.7 1048.7 L1292.9 1047.7 L1293.1 1047.2 L1293.1 1046.8 L1293.5 1045.3 L1293.9 1044.6 L1293.8 1043.7 L1293.9 1043.4 L1294.3 1042.4 L1294.3 1041.4 L1294.8 1040.7 L1295.0 1040.2 L1294.8 1039.4 L1294.9 1038.4 L1295.4 1037.6 L1295.5 1036.9 L1295.5 1035.8 L1295.7 1034.8 L1295.9 1034.3 L1296.2 1033.5 L1296.4 1032.5 L1296.7 1031.8 L1296.8 1030.6 L1297.1 1029.8 L1297.0 1028.9 L1297.4 1028.5 L1297.5 1027.5 L1297.8 1026.7 L1297.8 1025.6 L1298.1 1024.7 L1298.1 1024.1 L1298.5 1022.9 L1298.7 1022.6 L1298.7 1021.2 L1299.0 1020.5 L1299.4 1020.2 L1299.4 1019.2 L1299.7 1017.9 L1300.0 1017.0 L1299.8 1016.4 L1300.0 1015.6 L1300.4 1015.2 L1300.6 1014.3 L1300.9 1013.2 L1300.9 1012.2 L1301.2 1011.4 L1301.5 1010.7 L1301.6 1010.0 L1302.1 1008.8 L1302.0 1007.8 L1302.2 1007.1 L1302.5 1006.8 L1302.8 1006.1 L1303.1 1005.0 L1303.2 1003.7 L1303.4 1003.1 L1303.7 1002.1 L1303.9 1001.5 L1304.1 1000.7 L1304.2 1000.2 L1304.7 999.2 L1304.6 998.4 L1305.2 997.9 L1305.3 996.3 L1305.6 996.0 L1305.6 995.4 L1306.0 994.5 L1306.0 993.5 L1306.3 992.4 L1306.7 991.8 L1306.8 991.0 L1307.2 990.1 L1307.5 989.3 L1307.7 988.1 L1307.7 987.7 L1308.1 987.2 L1308.2 986.0 L1308.5 985.2 L1308.7 984.7 L1308.7 983.4 L1309.3 982.3 L1309.4 981.5 L1309.6 981.3 L1309.7 980.1 L1309.9 979.5 L1310.2 978.6 L1310.4 977.8 L1310.9 977.1 L1311.1 975.9 L1311.1 975.2 L1311.3 974.7 L1311.4 973.7 L1311.9 973.1 L1311.8 971.8 L1312.3 971.5 L1312.4 970.6 L1312.7 969.6 L1313.1 968.3 L1313.1 967.6 L1313.3 966.9 L1313.7 966.3 L1313.7 965.6 L1314.1 964.3 L1314.4 964.0 L1314.4 963.3 L1314.9 961.9 L1314.8 961.6 L1315.4 960.2 L1315.6 959.9 L1315.7 959.1 L1316.1 957.9 L1316.3 957.5 L1316.3 956.5 L1316.7 955.8 L1316.8 954.5 L1316.9 953.9 L1317.1 953.4 L1317.6 952.0 L1317.8 951.6 L1317.8 950.8 L1318.2 949.6 L1318.2 948.8 L1318.7 948.1 L1318.9 947.0 L1318.8 946.4 L1319.3 945.4 L1319.2 945.0 L1319.4 944.2 L1319.6 943.0 L1320.1 942.7 L1320.2 941.5 L1320.2 940.6 L1320.5 940.1 L1320.9 939.3 L1321.0 938.4 L1321.0 937.3 L1321.3 936.4 L1321.7 935.5 L1321.7 934.8 L1322.1 934.2 L1322.1 933.2 L1322.5 932.8 L1322.5 931.6 L1322.8 930.6 L1322.8 929.6 L1323.0 929.3 L1323.1 928.2 L1323.6 927.4 L1323.5 926.9 L1323.9 925.7 L1323.8 925.0 L1324.2 924.4 L1324.3 923.1 L1324.5 922.3 L1324.6 921.6 L1325.0 921.1 L1325.2 919.9 L1325.3 918.8 L1325.5 918.4 L1325.6 917.4 L1325.9 916.3 L1326.0 916.1 L1326.0 915.3 L1326.1 914.4 L1326.4 913.3 L1326.4 912.8 L1326.8 911.4 L1327.1 910.7 L1327.0 910.0 L1327.3 909.6 L1327.6 908.6 L1327.5 907.4 L1327.6 906.9 L1328.0 906.1 L1328.3 905.2 L1328.2 904.4 L1328.3 903.9 L1328.7 902.8 L1328.8 901.7 L1329.0 901.0 L1329.2 900.5 L1329.4 899.0 L1329.4 898.1 L1329.7 897.7 L1330.1 896.4 L1330.3 895.7 L1330.4 894.9 L1330.4 893.7 L1330.8 893.3 L1330.9 892.6 L1331.2 891.3 L1331.1 890.6 L1331.5 889.5 L1331.5 888.8 L1331.7 888.2 L1332.1 886.9 L1332.2 886.1 L1332.3 885.2 L1332.7 884.5 L1332.8 883.6 L1333.1 883.0 L1333.2 882.0 L1333.3 881.1 L1333.7 880.6 L1333.7 879.8 L1333.8 878.4 L1334.1 877.6 L1334.3 876.2 L1334.9 875.3 L1335.1 873.9 L1335.2 873.1 L1335.5 872.1 L1335.7 871.1 L1336.1 870.2 L1336.5 868.9 L1336.8 867.6 L1337.0 866.8 L1337.1 866.2 L1337.4 865.3 L1337.6 864.5 L1338.0 863.4 L1338.4 861.7 L1338.8 860.8 L1339.1 859.6 L1339.3 859.1 L1339.9 858.0 L1340.1 857.1 L1340.6 855.6 L1341.0 854.8 L1341.3 853.7 L1341.4 853.0 L1341.6 852.2 L1342.2 851.5 L1342.3 850.8 L1342.5 849.9 L1342.9 848.3 L1343.3 847.6 L1343.7 846.9 L1344.4 845.4 L1344.7 844.7 L1345.0 843.3 L1345.6 842.9 L1345.6 841.3 L1346.1 840.2 L1346.6 839.6 L1346.8 838.5 L1347.4 836.7 L1347.9 836.2 L1347.9 835.3 L1348.3 834.5 L1348.5 833.8 L1349.0 833.1 L1349.2 832.4 L1349.7 831.6 L1349.8 830.9 L1350.3 829.8 L1350.5 828.6 L1350.7 828.1 L1351.2 826.6 L1351.6 826.2 L1351.6 825.0 L1352.0 823.9 L1352.5 822.9 L1352.6 822.3 L1352.7 821.5 L1353.1 820.9 L1353.3 819.8 L1353.5 818.5 L1353.8 817.4 L1354.2 816.4 L1354.6 815.3 L1354.9 814.8 L1355.0 813.3 L1355.5 812.4 L1355.9 811.1 L1356.0 810.5 L1356.3 809.4 L1356.8 807.6 L1356.9 807.4 L1356.9 806.6 L1357.4 805.7 L1357.5 804.4 L1357.9 803.6 L1358.0 803.3 L1358.0 802.4 L1358.3 801.6 L1358.4 801.0 L1358.7 800.0 L1359.0 799.2 L1359.1 798.2 L1359.2 797.3 L1359.4 796.7 L1359.9 795.5 L1360.2 795.1 L1360.5 793.6 L1360.6 793.2 L1360.7 791.8 L1361.1 791.3 L1361.2 790.7 L1361.3 789.3 L1361.8 788.6 L1361.6 787.6 L1362.2 787.2 L1362.1 785.9 L1362.6 785.5 L1362.7 784.2 L1362.9 784.0 L1362.9 782.7 L1363.2 782.3 L1363.4 781.4 L1363.9 780.4 L1363.8 779.5 L1364.2 778.5 L1364.3 777.6 L1364.8 776.5 L1365.1 775.9 L1365.0 774.9 L1365.3 774.4 L1365.6 773.7 L1365.8 772.6 L1366.2 771.5 L1366.0 770.8 L1366.4 769.8 L1366.6 768.9 L1367.1 768.5 L1367.3 767.8 L1367.4 767.1 L1367.5 766.3 L1367.6 765.3 L1368.0 764.7 L1368.1 763.5 L1368.5 763.1 L1368.8 761.8 L1368.7 760.9 L1369.2 760.6 L1369.4 759.9 L1369.5 758.9 L1369.9 758.2 L1370.0 757.3 L1370.2 756.6 L1370.5 755.3 L1370.6 754.8 L1370.8 754.1 L1371.0 753.1 L1371.3 752.3 L1371.7 751.3 L1371.6 751.0 L1372.0 750.0 L1372.3 749.1 L1372.3 748.0 L1372.8 748.0 L1372.8 746.8 L1373.1 745.7 L1373.5 745.5 L1373.5 744.2 L1373.9 743.8 L1374.0 742.7 L1374.2 742.2 L1374.6 741.5 L1374.6 740.5 L1375.1 739.8 L1375.2 738.5 L1375.2 738.2 L1375.5 737.4 L1375.9 736.4 L1376.2 735.9 L1376.3 734.5 L1376.6 733.9 L1376.7 733.5 L1377.1 732.1 L1377.1 731.4 L1377.5 730.6 L1377.6 730.2 L1377.7 729.3 L1378.0 728.7 L1378.5 727.4 L1378.6 726.4 L1378.7 726.0 L1379.0 725.0 L1379.0 724.0 L1379.4 723.3 L1379.6 722.8 L1380.0 721.9 L1380.0 721.2 L1380.2 720.5 L1380.4 719.3 L1380.7 719.0 L1380.8 717.7 L1381.0 716.9 L1381.3 716.2 L1381.7 715.4 L1381.8 714.6 L1382.1 714.2 L1382.2 713.4 L1382.3 712.7 L1382.7 711.6 L1382.8 710.5 L1382.9 710.2 L1383.2 709.2 L1383.5 708.3 L1383.6 707.2 L1383.8 706.8 L1384.1 705.5 L1384.4 705.0 L1384.3 704.1 L1384.6 703.7 L1384.9 702.5 L1385.0 701.7 L1385.2 700.9 L1385.6 700.5 L1385.8 699.8 L1386.0 698.3 L1385.9 697.6 L1386.2 697.1 L1386.7 696.3 L1386.7 695.2 L1387.1 694.8 L1387.1 693.5 L1387.5 692.8 L1387.7 691.9 L1387.8 691.3 L1388.1 690.5 L1388.0 689.6 L1388.5 689.4 L1388.6 688.4 L1388.6 687.2 L1388.8 687.0 L1388.9 685.9 L1389.3 684.8 L1389.5 684.5 L1389.6 683.1 L1390.0 682.7 L1390.1 681.5 L1390.5 680.7 L1390.4 680.0 L1390.7 679.4 L1390.9 678.8 L1391.3 677.8 L1391.1 677.2 L1391.3 676.0 L1391.6 675.5 L1392.0 674.3 L1392.0 674.0 L1392.4 672.7 L1392.6 672.4 L1392.7 671.1 L1393.0 670.4 L1392.9 669.5 L1393.3 668.7 L1393.4 668.2 L1393.7 667.3 L1394.0 666.2 L1394.0 666.1 L1394.4 665.3 L1394.6 664.2 L1394.8 663.4 L1394.7 662.3 L1394.9 662.0 L1395.2 660.9 L1395.5 659.8 L1395.8 659.6 L1396.0 658.8 L1396.0 657.4 L1396.4 657.1 L1396.5 656.0 L1396.6 655.6 L1396.9 654.8 L1397.0 653.6 L1397.3 653.1 L1397.7 652.0 L1397.8 651.2 L1398.1 650.7 L1398.1 649.6 L1398.2 649.2 L1398.6 648.0 L1398.5 647.1 L1399.1 646.1 L1399.2 645.7 L1399.3 644.9 L1399.5 644.2 L1399.5 643.6 L1399.7 642.2 L1400.2 641.8 L1400.4 641.1 L1400.7 639.7 L1400.5 639.1 L1401.0 638.2 L1401.1 637.9 L1401.2 636.9 L1401.7 636.3 L1401.7 635.3 L1401.8 634.9 L1402.2 633.8 L1402.2 633.1 L1402.5 632.3 L1402.6 631.6 L1403.0 630.4 L1403.1 629.9 L1403.3 629.3 L1403.3 628.4 L1403.8 627.3 L1404.1 626.2 L1404.0 625.9 L1404.4 624.8 L1404.7 624.2 L1404.5 623.0 L1404.8 622.5 L1405.1 621.5 L1405.3 620.5 L1405.7 620.3 L1405.8 619.2 L1405.9 618.6 L1406.1 618.0 L1406.6 617.0 L1406.7 615.7 L1406.7 615.1 L1406.9 614.4 L1407.4 613.9 L1407.6 612.6 L1407.5 611.7 L1407.8 610.9 L1408.1 610.3 L1408.4 609.7 L1408.5 608.7 L1408.8 608.2 L1409.0 607.2 L1409.1 606.3 L1409.2 605.6 L1409.6 604.6 L1410.0 604.3 L1410.2 603.5 L1410.3 602.2 L1410.4 601.8 L1410.9 600.5 L1410.7 599.9 L1411.1 599.3 L1411.2 598.7 L1411.5 597.9 L1411.8 596.7 L1411.9 596.4 L1412.3 595.5 L1412.3 594.4 L1412.8 594.0 L1413.2 592.5 L1413.2 592.4 L1413.5 591.6 L1413.6 590.0 L1414.1 589.4 L1414.2 588.7 L1414.4 588.3 L1414.8 587.5 L1414.7 586.6 L1414.9 585.5 L1415.5 584.6 L1415.5 584.0 L1415.7 583.3 L1416.1 582.0 L1416.4 581.2 L1416.6 580.6 L1416.6 579.6 L1417.1 579.4 L1417.2 578.6 L1417.6 577.9 L1417.7 576.6 L1417.9 576.3 L1418.2 575.3 L1418.5 574.3 L1418.6 573.8 L1418.7 573.0 L1418.8 572.0 L1419.3 570.9 L1419.7 570.3 L1419.6 569.5 L1420.0 568.7 L1420.0 567.6 L1420.5 566.8 L1420.5 566.6 L1421.0 565.8 L1420.9 564.3 L1421.4 564.0 L1421.5 562.7 L1421.7 562.1 L1422.0 561.9 L1422.1 560.4 L1422.5 559.6 L1422.5 559.0 L1423.0 558.2 L1423.0 557.5 L1423.1 556.6 L1423.6 555.7 L1423.8 554.8 L1423.8 554.4 L1424.1 553.8 L1424.2 552.9 L1424.6 551.8 L1424.6 551.2 L1425.1 550.2 L1425.2 549.6 L1425.4 548.6 L1425.5 547.8 L1425.8 547.4 L1426.2 546.3 L1426.1 545.2 L1426.5 544.8 L1426.5 544.0 L1427.0 543.0 L1427.2 542.2 L1427.3 541.7 L1427.3 540.5 L1427.8 539.5 L1427.7 539.0 L1428.1 538.3 L1428.4 537.6 L1428.2 536.3 L1428.4 535.8 L1428.6 535.0 L1429.0 534.0 L1429.3 533.3 L1429.6 532.5 L1429.6 531.8 L1429.7 531.2 L1429.8 530.0 L1430.1 529.7 L1430.3 528.2 L1430.5 527.9 L1430.9 526.7 L1431.0 526.1 L1431.1 525.3 L1431.3 525.0 L1431.7 524.1 L1431.8 523.1 L1431.8 521.8 L1432.2 521.5 L1432.4 520.4 L1432.4 520.1 L1432.7 518.6 L1432.8 518.0 L1432.9 517.7 L1433.5 516.8 L1433.3 515.7 L1433.5 515.1 L1434.0 514.4 L1434.2 513.0 L1434.1 512.2 L1434.6 512.0 L1434.7 510.7 L1435.1 509.8 L1435.1 508.9 L1435.5 508.5 L1435.6 508.0 L1435.8 507.3 L1436.1 506.5 L1436.3 505.0 L1436.5 504.3 L1436.5 503.6 L1437.0 502.6 L1437.0 501.8 L1437.4 501.3 L1437.5 500.5 L1437.8 499.6 L1437.9 499.1 L1438.2 498.4 L1438.3 497.6 L1438.6 496.5 L1438.7 495.7 L1438.8 494.5 L1439.1 493.7 L1439.3 493.4 L1439.8 492.5 L1439.8 491.8 L1440.3 490.9 L1440.3 490.0 L1440.5 489.0 L1440.7 488.6 L1441.1 487.9 L1441.2 486.5 L1441.5 485.5 L1441.7 485.1 L1442.0 484.6 L1442.2 483.6 L1442.5 482.9 L1442.6 481.4 L1443.1 481.2 L1443.0 479.9 L1443.3 479.5 L1443.5 478.2 L1443.8 477.4 L1444.0 476.9 L1444.2 475.7 L1444.5 475.1 L1444.7 474.4 L1445.0 473.6 L1445.1 473.2 L1445.6 472.1 L1445.5 471.1 L1446.1 470.4 L1446.1 469.9 L1446.6 468.6 L1446.6 468.1 L1446.7 467.1 L1447.2 466.6 L1447.4 465.8 L1447.5 464.5 L1447.6 464.3 L1448.2 463.6 L1448.1 462.7 L1448.4 461.6 L1448.6 461.2 L1449.1 460.4 L1449.1 459.7 L1449.3 458.6 L1449.7 457.5 L1449.8 456.7 L1450.2 455.9 L1450.1 455.2 L1450.6 454.7 L1450.8 453.8 L1451.3 452.1 L1451.5 450.9 L1451.7 449.7 L1451.9 449.1 L1452.4 448.5 L1452.3 447.3 L1452.8 446.7 L1452.7 445.6 L1453.2 445.2 L1453.2 444.5 L1453.5 443.5 L1453.8 442.5 L1454.2 441.8 L1454.2 441.1 L1454.6 440.7 L1454.8 439.5 L1455.0 438.8 L1455.3 438.3 L1455.4 436.9 L1455.5 436.3 L1455.6 435.8 L1455.9 434.6 L1456.3 433.2 L1456.7 432.3 L1457.1 431.4 L1457.3 429.6 L1457.6 428.7 L1458.0 427.5 L1458.1 426.0 L1458.4 425.2 L1458.7 423.8 L1459.1 422.6 L1459.2 421.7 L1459.6 420.6 L1460.0 419.3 L1460.1 418.3 L1460.5 418.2 L1460.6 417.0 L1460.8 416.5 L1461.1 415.8 L1461.1 414.4 L1461.4 413.8 L1461.7 413.0 L1462.2 412.3 L1462.2 411.9 L1462.5 410.8 L1462.8 409.8 L1462.7 409.4 L1463.2 408.3 L1463.2 407.6 L1463.6 406.7 L1463.8 406.1 L1464.1 404.8 L1464.5 403.9 L1464.6 403.2 L1465.1 402.1 L1465.1 401.5 L1465.4 400.1 L1466.0 399.3 L1466.4 397.7 L1466.8 396.8 L1467.1 395.8 L1467.5 394.6 L1467.6 393.2 L1468.0 392.0 L1468.3 391.5 L1468.7 390.7 L1468.8 389.7 L1469.2 388.6 L1469.3 388.5 L1469.8 387.4 L1470.0 386.9 L1470.4 385.9 L1470.3 385.3 L1470.6 384.0 L1470.8 383.5 L1471.3 382.6 L1471.5 381.5 L1471.9 381.1 L1471.9 380.6 L1472.5 380.0 L1472.8 378.3 L1472.7 377.9 L1472.9 377.4 L1473.6 375.9 L1473.6 376.1 L1474.1 374.7 L1473.9 373.9 L1474.4 373.5 L1474.5 372.1 L1475.3 370.9" stroke="#0000ff" stroke-width="5.40"/></g>
<g transform="scale(1 1.2500)"><path d="M1474.5 374.8 L1475.3 373.7 L1475.3 373.0 L1475.7 372.6 L1476.1 371.5 L1476.3 370.7 L1476.0 369.7 L1476.2 369.4 L1477.2 368.5 L1477.3 367.2 L1477.4 367.2 L1477.3 366.5 L1477.9 365.3 L1478.4 365.1 L1478.1 363.3 L1478.3 362.8 L1479.1 363.2 L1479.6 362.3 L1479.1 361.3 L1480.0 360.0 L1480.5 359.4 L1479.9 357.9 L1480.3 357.5 L1481.2 356.9 L1480.9 354.0 L1482.3 353.4 L1481.9 353.5 L1482.1 352.2 L1483.4 350.6 L1483.4 348.3 L1483.7 348.8 L1484.2 347.7 L1483.7 346.2 L1484.6 345.0 L1484.2 344.5 L1485.3 344.4 L1485.1 344.6 L1485.6 342.0 L1485.9 342.6 L1485.9 340.8 L1486.4 341.3 L1486.8 338.4 L1487.0 338.0 L1487.1 338.1 L1486.8 336.8 L1487.4 336.2 L1488.3 335.0 L1488.4 333.7 L1488.2 333.4 L1488.8 331.8 L1489.3 331.8 L1489.1 330.2 L1489.9 331.3 L1490.3 328.6 L1489.5 328.9 L1489.7 328.7 L1490.8 326.3 L1490.8 326.6 L1490.7 324.8 L1491.7 324.9 L1491.7 322.3 L1491.5 322.0 L1491.6 322.4 L1492.5 322.5 L1492.7 321.7 L1492.9 319.6 L1492.9 318.6 L1494.0 317.9 L1493.1 316.6 L1493.6 316.8 L1494.2 315.5 L1495.0 315.6 L1494.3 312.3 L1495.3 313.5 L1495.5 312.4 L1495.0 311.4 L1496.2 311.2 L1495.5 308.7 L1496.8 309.4 L1496.2 309.2 L1497.4 309.1 L1497.4 307.7 L1497.1 305.3 L1498.4 303.7 L1498.0 304.5 L1499.1 300.1 L1498.7 301.1 L1500.1 300.2 L1500.5 297.1 L1500.4 296.5 L1500.4 295.5 L1500.9 294.2 L1501.4 295.8 L1502.0 295.4 L1501.3 295.0 L1502.2 294.4 L1502.5 290.1 L1503.0 289.6 L1503.7 290.3 L1503.9 289.2 L1503.5 289.1 L1504.3 287.4 L1504.1 286.4 L1504.9 284.8 L1504.5 285.0 L1505.5 282.4 L1505.3 285.4 L1505.6 283.8 L1506.0 280.0 L1506.5 282.6 L1507.1 278.2 L1507.4 279.9 L1507.4 279.3 L1507.8 276.4 L1508.3 275.3 L1508.1 277.7 L1508.7 275.4 L1509.2 274.5 L1509.1 274.0 L1509.0 272.3 L1509.4 274.4 L1510.7 272.1 L1510.1 272.2 L1510.6 271.2 L1511.3 269.6 L1511.9 266.9 L1512.5 267.0 L1512.8 267.3 L1512.7 264.2 L1513.3 261.6 L1514.4 263.2 L1514.4 261.5 L1515.3 258.3 L1515.1 260.0 L1515.8 258.1 L1515.9 255.8 L1516.9 255.3 L1517.6 257.0 L1518.1 253.2 L1517.9 251.5 L1518.1 250.6 L1518.7 253.9 L1519.4 250.3 L1519.2 252.2 L1519.3 251.0 L1520.7 246.5 L1521.2 248.5 L1520.9 246.6 L1521.6 246.4 L1522.3 247.4 L1522.0 242.3 L1523.0 244.7 L1523.4 240.8 L1523.3 243.8 L1524.2 240.6 L1525.6 238.1 L1525.8 236.4 L1526.3 238.7 L1526.4 237.8 L1527.9 237.0 L1528.3 236.6 L1528.8 233.5 L1529.5 233.7 L1529.9 231.9 L1529.7 229.4 L1530.3 231.4 L1531.3 227.7 L1531.9 225.7 L1531.2 226.3 L1531.6 228.8 L1532.3 225.0 L1533.3 225.0 L1533.5 223.7 L1533.8 225.4 L1534.1 221.9 L1534.8 218.8 L1535.0 219.6 L1536.1 218.4 L1535.5 220.4 L1536.0 219.4 L1536.2 217.3 L1536.7 214.4 L1537.4 216.4 L1537.7 213.7 L1538.0 213.5 L1538.2 215.1 L1538.5 209.8 L1539.3 210.2 L1539.8 207.7 L1540.1 208.7 L1540.8 207.6 L1540.5 206.9 L1541.0 205.8 L1541.5 205.8 L1541.9 204.3 L1541.9 205.0 L1542.6 204.8 L1542.6 200.7 L1542.6 200.3 L1543.0 199.7 L1543.9 199.8 L1544.6 198.4 L1544.1 197.3 L1544.4 199.3 L1545.2 196.1 L1545.8 197.7 L1545.7 196.5 L1546.4 194.8 L1546.0 193.5 L1547.4 192.8 L1547.4 190.4 L1547.9 194.1 L1547.8 190.5 L1548.3 189.0 L1548.3 187.5 L1549.2 189.0 L1549.9 190.9 L1550.1 190.1 L1550.4 183.8 L1549.9 188.7 L1551.2 185.7 L1551.3 183.9 L1551.4 181.3 L1551.9 181.3 L1551.8 184.1 L1552.7 183.3 L1552.7 180.7 L1553.1 181.4 L1553.4 179.5 L1554.2 176.7 L1554.0 176.9 L1554.9 178.2 L1554.8 173.4 L1555.3 176.5 L1555.6 174.6 L1555.8 170.4 L1556.9 172.2 L1556.6 171.2 L1558.0 169.9 L1557.9 169.3 L1558.2 166.2 L1559.0 168.8 L1558.7 166.1 L1558.9 169.5 L1560.1 165.1" stroke="#0000ff" stroke-width="5.60"/></g>
<g transform="scale(1 1.2333)"><path d="M1558.9 171.8 L1560.1 167.4 L1560.2 167.7 L1560.0 163.6 L1561.1 163.6 L1561.2 161.9 L1560.9 162.1 L1562.1 164.3 L1562.8 163.8 L1562.8 158.3 L1563.9 160.4 L1564.4 156.3 L1564.9 158.1 L1564.7 156.6 L1565.1 156.7 L1565.8 156.5 L1566.3 155.4 L1567.3 154.7 L1568.2 150.9 L1568.3 150.8 L1569.0 153.1 L1569.3 150.7 L1569.2 152.2 L1570.5 151.8 L1570.2 150.1 L1571.1 149.5 L1571.7 145.9 L1571.7 147.7 L1572.4 145.1 L1573.4 140.0 L1573.0 142.4 L1573.8 144.3 L1574.5 143.6 L1575.4 136.6 L1576.7 139.9 L1577.0 138.2 L1577.8 140.1 L1578.2 136.0 L1578.6 134.2 L1579.4 130.9 L1579.8 137.1 L1580.4 133.1 L1580.4 128.5 L1580.5 131.5 L1581.9 133.5 L1581.5 131.7 L1582.7 128.6 L1583.3 125.1 L1583.1 127.2 L1584.1 125.5 L1584.2 128.2 L1584.7 123.4 L1584.8 123.2 L1585.8 121.4 L1586.1 121.8 L1585.7 125.3 L1586.4 120.7 L1587.6 116.8 L1586.9 115.9 L1587.3 121.1 L1588.1 112.7 L1588.2 116.3 L1588.5 113.5 L1589.7 114.0 L1589.3 114.6 L1589.5 113.0 L1590.5 108.0 L1590.8 109.3 L1591.4 111.3 L1591.9 110.4 L1591.4 105.5 L1592.4 110.7 L1592.0 106.0 L1592.7 105.7 L1593.8 105.7 L1594.0 107.0 L1593.8 104.7 L1594.3 102.4 L1594.8 103.6 L1594.8 104.5 L1595.1 98.4 L1596.3 104.4 L1596.1 103.4 L1596.1 102.6 L1596.9 92.1 L1598.1 92.3 L1598.6 89.7 L1598.4 92.3 L1598.9 92.5 L1599.8 94.4 L1600.6 95.8 L1601.6 86.5 L1602.4 93.2 L1602.6 88.5 L1602.7 85.5 L1603.4 83.3 L1604.5 83.9 L1605.3 85.8 L1606.0 79.9 L1606.6 83.7 L1607.0 80.1 L1607.7 81.2 L1608.3 82.5 L1608.2 78.8 L1609.6 75.2 L1610.4 79.9 L1611.4 76.7 L1612.0 77.3 L1613.3 72.2 L1613.9 73.2 L1615.0 72.3 L1615.4 71.1 L1617.2 71.5 L1617.8 74.7 L1617.8 72.1 L1618.2 75.4 L1619.6 66.0 L1620.2 69.3 L1621.1 66.4 L1622.0 69.3 L1621.7 70.6 L1623.4 64.5 L1623.9 69.7 L1624.8 60.7 L1625.4 61.9 L1626.1 65.8 L1626.3 67.4 L1627.4 67.7 L1628.3 62.6 L1628.7 63.0 L1629.0 60.5 L1629.8 56.9 L1630.2 62.9 L1631.6 60.7 L1632.1 58.1 L1632.7 59.1 L1632.7 56.2 L1634.7 52.9 L1634.8 50.9 L1635.4 58.0 L1635.9 57.0 L1637.6 57.0 L1637.8 57.0 L1638.7 51.2 L1640.2 51.5 L1640.7 46.2 L1640.7 47.1 L1641.6 52.3 L1642.5 53.0 L1643.8 44.3 L1644.7 45.0 L1645.3 41.8 L1646.4 48.8 L1646.9 47.2 L1647.4 40.7 L1648.6 46.5 L1650.1 39.4 L1650.8 42.4 L1651.6 37.4 L1653.3 37.8 L1654.9 37.3 L1655.9 43.9 L1656.5 40.8 L1658.4 41.3 L1658.8 44.8 L1659.7 44.3 L1660.9 38.6 L1662.0 40.9 L1663.8 41.1 L1664.1 44.3 L1665.9 39.2 L1667.1 35.0 L1668.2 42.4 L1669.8 41.4 L1670.3 39.6 L1672.0 41.3 L1673.0 40.0 L1674.1 41.7 L1675.5 38.8 L1675.7 38.2 L1676.4 45.7 L1678.3 38.5 L1678.5 47.2 L1680.0 48.5 L1681.1 41.9 L1680.9 42.0 L1682.4 40.2 L1683.0 45.7 L1684.4 43.1 L1684.7 45.7 L1685.6 44.4 L1686.5 52.4 L1688.1 45.1 L1688.6 54.2 L1689.0 49.1 L1689.9 47.5 L1689.6 57.3 L1690.4 57.6 L1691.6 49.2 L1691.5 56.2 L1692.1 57.2 L1693.4 53.4 L1693.8 53.9 L1694.9 59.1 L1695.3 59.8 L1695.1 63.4 L1696.6 60.2 L1697.0 60.8 L1697.8 62.0 L1697.9 62.6 L1698.4 58.0 L1699.4 68.0 L1700.3 61.8 L1700.8 66.7 L1701.6 66.4 L1702.3 69.8 L1703.5 69.0 L1704.1 71.7 L1704.1 68.3 L1705.1 70.3 L1706.1 70.7 L1707.4 76.4 L1707.4 77.1 L1708.6 72.1 L1708.8 81.2 L1709.0 81.1 L1710.0 75.9 L1709.7 81.8 L1710.5 77.7 L1711.1 82.5 L1712.1 85.3 L1712.5 78.2 L1712.5 77.2 L1712.8 81.6 L1713.3 83.8 L1713.7 86.5 L1714.6 83.0 L1715.4 84.7 L1715.1 91.0 L1716.5 92.3 L1716.5 86.7 L1717.5 86.5 L1718.4 92.8 L1718.5 87.6 L1718.7 92.5 L1720.1 90.7 L1720.3 91.1 L1721.1 98.9 L1721.3 99.7 L1721.0 95.1 L1721.2 99.2 L1721.6 96.1 L1722.2 104.6 L1723.3 98.7 L1723.9 98.2 L1723.3 101.3 L1724.5 99.2 L1724.9 104.7 L1725.3 103.3 L1724.8 101.6 L1726.0 106.7 L1726.4 104.3 L1726.2 105.2 L1727.3 111.2 L1726.8 112.3 L1727.1 110.4 L1727.7 114.4 L1728.6 114.3 L1728.4 108.4 L1729.3 116.1 L1728.9 118.4 L1730.3 114.2 L1730.2 118.1 L1731.0 118.9 L1730.9 120.9 L1731.2 113.9 L1731.6 118.8 L1731.6 119.3 L1731.8 119.2 L1732.7 126.1 L1732.8 126.8 L1732.9 124.5 L1733.9 128.1 L1733.8 122.5 L1734.8 128.0 L1734.7 126.1 L1734.3 129.3 L1734.9 133.5 L1735.5 133.0 L1735.6 133.8 L1735.4 137.2 L1736.1 133.8 L1735.9 129.3 L1736.7 136.9 L1736.9 132.7 L1736.9 139.0 L1737.3 141.3 L1736.8 140.7 L1736.9 139.9 L1737.8 135.0 L1737.8 142.0 L1738.6 136.6 L1738.3 145.0 L1738.0 146.9 L1739.2 141.9 L1738.5 140.6 L1738.7 144.3 L1739.5 150.6 L1739.5 151.6 L1739.5 149.3 L1739.2 147.6 L1739.4 145.4 L1740.5 146.1 L1740.1 151.2 L1740.5 146.8 L1740.2 154.5 L1740.8 149.1 L1741.1 152.9 L1741.9 150.3 L1741.1 151.4 L1741.8 161.6 L1742.2 153.5 L1742.2 156.9 L1742.9 161.4 L1742.7 157.5 L1742.7 161.1 L1742.8 162.4 L1742.7 161.7 L1744.0 162.3 L1743.6 166.8 L1744.2 167.5 L1743.9 168.0 L1743.9 167.9 L1743.9 164.2 L1744.3 166.7 L1745.2 164.0 L1745.6 165.6 L1745.9 175.5 L1745.7 175.1 L1746.3 171.8 L1746.4 168.3 L1746.5 175.6 L1746.7 171.1 L1746.1 175.9 L1746.9 178.5 L1746.6 178.0 L1747.8 175.5 L1747.8 183.8 L1747.9 179.2 L1747.8 180.3 L1747.6 177.0 L1748.0 178.9 L1749.0 181.7 L1749.2 184.7 L1749.4 189.1 L1749.4 185.2 L1749.1 187.3 L1749.3 190.9 L1749.2 189.7 L1749.8 188.3 L1750.2 195.1 L1751.0 189.3 L1751.1 196.4 L1750.8 193.1 L1750.6 196.3 L1751.2 196.8 L1751.9 196.2 L1751.8 196.3 L1751.3 196.1 L1751.4 194.0 L1752.7 197.0 L1751.9 198.4 L1752.0 201.1 L1752.4 197.8 L1753.1 206.1 L1752.6 204.8 L1753.5 203.2 L1753.5 199.0 L1753.6 205.3 L1753.7 211.1 L1754.0 210.4 L1754.7 210.7 L1754.5 208.5 L1755.1 205.3 L1754.6 205.0 L1755.1 210.5 L1755.9 216.4 L1755.4 212.7 L1755.2 216.2 L1755.9 210.9 L1756.6 210.4 L1755.9 215.9 L1757.1 213.1 L1756.4 220.8 L1756.7 223.1 L1756.5 216.7 L1757.1 223.9 L1757.0 222.9 L1758.2 226.9 L1758.3 218.0 L1758.1 220.6 L1757.8 221.6 L1758.8 226.0 L1758.3 223.8 L1758.4 231.4 L1759.5 227.5 L1759.9 233.7 L1759.2 226.9 L1759.4 231.7 L1760.1 231.4 L1760.6 232.4 L1760.2 234.7 L1761.2 229.0 L1760.9 230.8 L1761.4 234.7 L1761.7 238.1 L1762.1 238.0 L1761.9 243.0 L1762.3 237.1 L1761.7 244.1 L1761.9 244.9 L1763.1 243.0 L1763.4 243.3 L1763.3 244.0 L1762.9 239.4 L1763.8 244.1 L1763.2 246.1 L1763.6 243.8 L1764.6 248.3 L1764.6 251.2 L1764.5 248.2 L1764.7 248.1 L1765.3 254.3 L1765.0 253.3 L1765.1 246.9 L1765.8 255.6 L1765.6 258.7 L1766.3 252.5 L1766.6 258.7 L1766.1 260.2 L1766.6 254.5 L1766.8 257.9 L1767.2 256.4 L1766.9 260.7 L1767.9 262.2 L1767.7 264.7 L1767.5 258.1 L1767.7 263.2 L1768.6 260.7 L1768.8 259.3 L1768.5 269.9 L1769.7 261.6 L1769.7 266.9 L1769.8 271.0 L1770.1 272.9 L1770.4 273.4 L1769.9 273.3 L1770.4 275.1 L1771.2 276.3 L1771.4 271.3 L1771.3 276.1 L1771.0 274.4 L1771.9 277.0 L1771.8 276.7 L1772.5 275.3 L1772.7 281.3 L1772.5 278.4 L1772.9 282.3 L1772.9 277.6 L1773.3 282.1 L1773.2 286.2 L1773.9 284.5 L1774.0 278.3 L1774.2 284.6 L1774.0 289.5 L1774.9 285.2 L1774.4 283.9 L1775.0 288.7 L1775.0 287.9 L1775.4 289.5 L1776.1 289.9 L1776.4 291.7 L1775.8 292.8 L1776.5 294.7 L1777.2 291.5 L1777.3 291.1 L1777.3 289.7 L1777.7 294.9 L1777.5 296.2 L1777.6 294.4 L1778.2 299.1 L1777.7 296.5 L1778.9 297.4 L1778.4 301.2 L1778.7 305.6 L1779.6 298.5 L1778.9 299.7 L1779.4 301.7 L1779.9 308.4 L1779.4 300.8 L1779.6 304.4 L1779.9 306.5 L1780.4 310.2 L1781.3 313.5 L1780.9 311.1 L1780.7 311.6 L1781.8 315.1 L1781.2 309.0 L1782.3 314.9 L1782.3 309.7 L1782.4 310.1 L1782.7 318.4 L1782.4 311.6 L1783.2 322.0 L1783.2 316.8 L1783.1 321.9 L1784.1 318.4 L1783.4 325.3 L1783.9 320.8 L1783.9 324.4 L1785.0 322.8 L1785.0 323.0 L1784.7 327.7 L1785.6 328.1 L1785.5 329.6 L1786.0 331.7 L1785.7 327.1 L1785.3 329.3 L1785.9 325.2 L1786.9 328.9 L1787.0 327.0 L1786.6 335.1 L1787.2 334.9 L1787.2 330.3 L1787.8 337.5 L1787.6 336.4 L1788.2 336.7 L1788.0 337.4 L1788.5 340.6 L1788.3 341.8 L1788.5 341.7 L1788.8 344.6 L1789.6 344.3 L1789.2 341.2 L1789.5 344.4 L1789.2 344.6 L1790.5 340.9 L1790.7 346.5 L1791.0 348.7 L1791.0 350.2 L1791.0 345.5 L1791.8 353.7 L1792.0 348.7 L1791.9 352.3 L1792.0 353.0 L1792.4 358.4 L1792.9 359.2 L1793.4 352.7 L1793.5 355.5 L1793.6 358.0 L1794.0 356.4 L1794.1 357.9 L1794.5 359.9 L1794.6 365.3 L1794.4 357.0 L1795.4 362.6 L1795.3 366.2 L1795.9 363.0 L1796.2 363.8 L1796.1 368.6 L1796.0 365.7 L1796.2 365.8 L1796.5 371.1 L1796.3 373.2 L1797.5 370.1 L1797.5 368.6 L1797.9 374.5 L1797.7 372.0 L1797.8 370.5 L1798.8 374.8 L1798.6 375.6 L1798.5 370.7 L1799.0 376.6 L1799.1 377.2 L1799.5 375.5 L1800.3 377.2 L1800.6 381.4 L1800.4 375.9 L1801.3 381.3 L1801.2 383.3 L1801.5 386.1 L1801.1 387.5 L1802.2 383.3 L1802.8 388.4 L1802.7 381.3 L1803.1 385.7 L1803.3 390.3 L1803.1 391.2 L1803.6 386.7 L1803.6 386.2 L1804.2 390.8 L1805.3 388.4 L1804.8 391.0 L1805.5 391.6 L1805.9 390.6 L1805.4 395.3 L1806.6 392.1 L1806.1 397.7 L1806.4 400.8 L1807.5 394.8 L1807.4 394.7 L1807.4 398.2 L1808.6 404.0 L1808.8 402.4 L1808.9 402.1 L1809.3 402.8 L1809.3 406.7 L1809.5 403.7 L1810.2 409.5 L1810.1 405.6 L1810.4 404.4 L1810.7 410.4 L1810.7 408.4 L1811.1 410.1 L1812.0 406.8 L1812.0 408.3 L1812.4 413.5 L1812.2 410.4 L1812.6 412.1 L1813.6 417.8 L1813.7 414.4 L1813.6 413.5 L1813.9 421.1 L1813.8 416.9 L1814.2 421.8 L1814.6 419.5 L1814.6 422.2 L1815.4 424.0 L1815.9 424.3 L1815.7 420.8 L1816.4 419.8 L1817.0 426.7 L1816.8 424.3 L1816.6 426.9 L1817.7 423.8 L1817.1 429.7 L1817.9 431.5 L1818.1 434.0 L1818.9 428.9 L1818.7 432.1 L1818.9 434.9 L1819.5 435.7 L1819.3 434.1 L1820.1 435.9 L1819.7 438.8 L1820.5 433.9 L1821.3 438.3 L1821.5 440.8 L1821.6 443.2 L1821.2 438.8 L1821.6 442.4 L1822.0 437.8 L1822.2 439.9 L1822.9 443.2 L1823.1 440.0 L1823.5 443.0 L1823.2 442.0 L1823.6 445.8 L1823.9 447.2 L1824.2 450.8 L1825.5 448.3 L1824.9 455.1 L1825.4 453.5 L1826.4 452.8 L1826.9 450.6 L1826.9 458.2 L1827.4 458.5 L1827.1 456.3 L1827.9 455.9 L1827.5 453.6 L1827.7 455.4 L1828.8 457.8 L1828.4 464.5 L1829.0 460.5 L1828.6 460.6 L1829.1 466.6 L1829.5 467.7 L1829.5 460.2 L1830.6 461.3 L1830.7 466.7 L1830.3 469.6 L1830.8 471.8 L1831.2 472.2 L1831.9 468.0 L1831.8 472.0 L1832.0 466.5 L1832.3 473.9 L1832.0 468.8 L1832.1 473.6 L1832.4 477.2 L1833.0 479.3 L1833.7 475.1 L1833.3 475.9 L1834.0 480.6 L1834.6 476.7 L1833.8 480.5 L1834.9 481.2 L1835.3 483.5 L1835.3 484.4 L1835.0 486.3 L1835.9 479.6 L1835.5 485.3 L1836.0 488.7 L1836.2 485.5 L1836.7 490.4 L1836.7 490.8 L1837.5 488.7 L1838.0 492.4 L1838.0 490.2 L1837.4 488.1 L1838.4 488.0 L1838.6 490.8 L1838.6 495.9 L1839.4 496.1 L1839.2 495.0 L1840.1 499.3 L1839.9 492.5 L1840.5 493.1 L1839.8 499.4 L1840.1 501.0 L1841.0 496.6 L1841.5 504.8 L1841.4 505.5 L1841.8 501.8 L1842.1 506.8 L1842.2 499.9 L1842.1 506.3 L1842.3 502.3 L1842.7 502.9 L1843.0 503.4 L1843.5 505.2 L1844.0 505.1 L1843.9 510.7 L1843.6 511.3 L1844.3 512.1 L1844.1 511.6 L1845.2 513.7 L1844.7 512.0 L1845.7 510.3 L1845.5 515.2 L1845.7 511.5 L1845.5 519.8 L1846.2 515.7 L1846.5 514.4 L1846.3 522.2 L1847.4 517.3 L1847.1 517.1 L1847.4 521.9 L1848.2 522.6 L1848.5 527.8 L1848.5 520.1 L1848.2 526.5 L1848.5 529.4 L1848.6 522.7 L1850.0 526.6 L1849.7 529.1 L1849.5 527.6 L1850.0 532.0 L1850.8 532.5 L1850.3 531.2 L1851.5 529.5 L1851.0 534.2 L1852.0 529.8 L1851.9 534.5 L1852.0 538.7 L1851.7 537.3 L1852.2 539.6 L1852.9 537.4 L1852.4 541.3 L1853.3 540.3 L1853.6 544.6 L1853.2 543.1 L1854.1 540.1 L1854.4 541.4 L1854.7 544.6 L1854.9 548.1 L1854.8 544.3 L1854.6 547.1 L1855.2 546.4 L1855.5 545.4 L1855.2 545.6 L1855.0 547.7 L1855.0 551.0 L1855.8 550.3 L1856.2 552.4 L1856.2 549.1 L1856.0 549.4 L1855.9 557.6 L1856.1 556.2 L1856.5 557.7 L1857.3 559.9 L1857.6 561.9 L1857.0 562.9 L1857.7 557.4 L1857.3 560.4 L1858.1 557.4 L1858.3 563.4 L1858.2 561.8 L1858.1 562.6 L1858.7 563.8 L1858.9 568.5 L1858.4 561.6 L1859.6 564.0 L1859.7 566.7 L1859.2 564.0 L1859.7 570.1 L1859.5 565.7 L1860.0 574.2 L1860.8 569.5 L1860.6 571.7 L1861.2 571.4 L1861.1 574.1 L1861.2 574.3 L1862.1 575.8 L1861.5 575.2 L1862.4 575.0 L1862.4 578.7 L1862.7 576.2 L1863.6 576.0 L1863.9 577.0 L1863.8 581.9 L1863.9 583.4 L1864.7 581.5 L1864.0 581.2 L1865.3 585.6 L1865.4 584.6 L1865.2 588.1 L1865.8 590.9 L1865.6 586.6 L1866.5 592.5 L1866.5 592.2 L1866.4 591.7 L1866.9 593.0 L1867.2 589.3 L1867.4 594.9 L1868.3 597.4 L1868.2 590.7 L1869.0 593.2 L1869.1 596.1 L1869.1 592.8 L1869.2 600.1 L1869.7 602.1 L1870.4 599.8 L1871.0 595.9 L1870.6 601.4 L1870.5 605.3 L1870.9 603.5 L1871.3 602.5 L1871.9 602.5 L1871.8 606.7 L1872.7 602.3 L1873.4 603.4 L1872.8 605.7 L1873.3 608.4 L1874.3 605.8 L1874.2 611.3 L1874.1 609.7 L1874.7 615.3 L1875.4 612.4 L1874.8 612.2 L1876.0 613.7 L1875.8 616.3 L1875.7 617.2 L1876.8 613.3 L1876.8 620.7 L1876.9 618.6 L1877.3 619.7 L1877.6 618.6 L1878.5 622.5 L1878.9 620.2 L1878.5 621.3 L1879.3 622.1 L1879.3 621.2 L1879.4 622.9 L1880.2 624.6 L1880.5 627.2 L1880.0 627.8 L1881.0 629.9 L1881.1 629.6 L1881.1 626.6 L1881.6 631.9 L1881.7 629.7 L1882.0 632.5 L1881.8 637.5 L1882.6 635.5 L1882.9 636.5 L1882.6 639.6 L1883.5 637.9 L1883.1 637.2 L1882.9 641.5 L1884.1 639.7 L1883.9 642.4 L1883.6 639.6 L1884.2 642.3 L1884.5 643.1 L1885.4 642.1 L1884.7 639.4 L1885.9 644.3 L1885.6 641.2 L1885.5 641.7 L1886.7 643.0 L1886.2 647.6 L1886.8 646.2 L1887.1 650.7 L1887.8 646.7 L1887.2 647.6 L1887.5 649.4 L1887.4 655.5 L1888.0 655.7 L1888.9 657.0 L1888.2 656.0 L1889.4 657.2 L1889.4 656.2 L1889.9 657.9 L1889.6 658.4 L1890.0 656.5 L1890.5 663.1 L1890.8 656.5 L1890.7 664.1 L1890.6 662.6 L1891.6 663.7 L1891.4 659.9 L1892.1 662.0 L1892.2 666.0 L1892.6 663.2 L1893.2 669.7 L1893.3 665.5 L1893.4 668.0 L1893.6 671.7 L1893.5 674.7 L1893.8 671.3 L1894.3 669.3 L1894.8 671.7 L1895.0 670.8 L1894.3 675.6 L1894.7 675.1 L1894.9 678.5 L1895.7 678.9 L1895.2 674.1 L1896.0 675.2 L1896.3 680.2 L1896.8 683.4 L1896.7 684.3 L1896.7 680.3 L1896.3 684.8 L1897.2 685.0 L1897.2 684.3 L1897.9 684.4 L1897.2 690.3 L1898.1 690.7 L1898.6 687.4 L1897.7 688.7 L1898.3 688.6 L1898.9 688.2 L1899.3 688.7 L1898.6 695.0 L1898.8 694.9 L1899.0 692.9 L1899.4 692.3 L1900.1 699.3 L1900.4 693.1 L1899.5 696.5 L1900.6 698.2 L1901.1 703.0 L1901.0 697.3 L1900.9 696.4 L1901.1 703.3 L1901.2 699.1 L1901.7 706.3 L1902.1 700.1 L1902.1 702.0 L1902.9 704.5 L1902.7 709.4 L1902.8 706.4 L1903.9 705.9 L1903.7 709.8 L1903.7 710.4 L1904.1 713.1 L1904.6 712.9 L1904.9 713.5 L1905.0 709.4 L1905.2 711.8 L1905.1 716.6 L1906.1 714.8 L1906.6 712.0 L1906.2 718.6 L1906.4 720.8 L1907.3 722.4 L1908.0 718.3 L1907.7 719.3 L1908.6 720.4 L1908.8 725.9 L1909.2 722.5 L1909.5 723.1 L1909.6 723.3 L1910.4 729.2 L1910.2 726.2 L1910.0 727.0 L1911.3 725.0 L1911.4 725.9 L1911.6 727.0 L1911.8 732.2 L1911.4 733.6 L1912.3 729.1 L1912.4 732.7 L1913.2 730.1 L1912.7 731.4 L1913.7 733.8 L1914.2 737.5 L1914.0 737.1 L1914.0 738.1 L1915.0 735.6 L1915.3 735.5 L1916.0 740.0 L1916.2 741.9 L1915.7 743.3 L1916.5 740.9 L1916.9 745.1 L1917.2 741.1 L1917.8 748.1 L1917.5 749.1 L1918.5 744.7 L1917.8 744.6 L1918.5 744.6 L1918.5 750.6 L1918.5 750.4 L1919.3 752.1 L1919.4 750.8 L1919.6 747.5 L1920.7 751.4 L1920.3 757.3 L1920.7 754.6 L1920.7 754.3 L1921.9 758.8 L1922.1 760.4 L1921.7 753.6 L1921.8 759.7 L1922.6 758.0 L1923.1 757.5 L1923.2 760.1 L1922.9 764.1 L1923.3 765.1 L1924.2 762.7 L1924.1 761.5 L1924.0 766.7 L1924.6 766.3 L1924.8 764.5 L1924.8 769.7 L1925.4 765.1 L1926.2 766.0 L1925.7 766.8 L1926.4 773.2 L1926.0 775.3 L1927.0 775.3 L1927.0 772.6 L1926.8 771.8 L1928.0 772.9 L1928.3 778.6 L1928.5 773.2 L1928.2 780.2 L1928.3 775.8 L1928.1 779.2 L1929.0 777.1 L1928.9 781.7 L1929.0 783.9 L1930.0 781.5 L1929.3 783.6 L1929.8 780.3 L1930.4 785.2 L1930.1 783.2 L1930.8 790.0 L1930.6 787.8 L1930.6 787.6 L1931.2 787.0 L1931.4 789.9 L1930.9 787.0 L1931.5 788.0 L1931.8 792.8 L1932.1 796.3 L1932.2 796.1 L1931.7 797.8 L1932.9 796.1 L1932.9 796.5 L1932.6 793.9 L1932.8 799.6 L1933.3 802.1 L1933.1 803.3 L1933.0 795.9 L1933.2 801.4 L1933.8 799.4 L1933.0 804.6 L1933.4 806.6 L1933.9 801.0 L1934.0 807.5 L1933.8 810.0 L1933.7 803.6 L1934.5 809.1 L1934.7 812.1 L1934.3 805.1 L1934.9 808.7 L1934.9 809.9 L1935.6 809.7 L1935.5 813.1 L1935.2 817.0 L1935.3 812.3 L1935.4 816.7 L1936.1 814.6 L1935.6 817.5 L1936.0 817.9 L1936.6 813.9 L1936.0 822.0 L1937.1 816.3 L1936.5 820.2 L1937.4 820.0 L1937.7 818.9 L1937.8 819.4 L1937.5 828.4 L1937.8 828.8 L1937.5 830.0 L1938.4 824.7 L1938.4 831.3 L1937.8 827.4 L1938.7 829.9 L1939.0 829.4 L1938.6 827.9 L1938.6 835.4 L1938.8 836.8 L1939.7 835.0 L1939.3 831.1 L1939.3 839.6 L1940.6 841.9 L1939.9 842.6 L1940.3 838.4 L1941.0 843.3 L1940.9 839.3 L1940.4 839.2 L1940.8 840.1 L1941.4 842.4 L1941.2 848.6 L1941.6 841.9 L1941.5 848.0 L1941.7 849.1 L1942.0 849.5 L1943.0 851.3 L1942.7 855.1 L1943.9 856.0 L1944.2 858.6 L1943.7 855.6 L1944.0 858.6 L1943.9 854.4 L1944.5 858.1 L1945.4 857.1 L1944.4 858.5 L1945.8 857.0 L1945.7 862.6 L1946.4 861.3 L1946.5 868.1 L1947.1 865.4 L1946.6 867.0 L1947.3 868.0 L1947.5 866.2 L1947.8 866.7 L1947.5 865.3 L1948.2 866.8 L1948.1 868.7 L1948.5 870.6 L1949.5 872.4 L1949.2 872.2 L1949.5 876.7 L1949.7 874.8 L1949.8 872.8 L1949.9 872.7 L1950.3 873.2 L1950.7 878.8 L1950.6 881.2 L1951.3 880.9 L1951.5 883.3 L1952.1 878.1 L1952.2 880.2 L1952.6 882.0 L1952.3 879.8 L1953.4 881.4 L1952.8 889.5 L1952.8 885.7 L1953.4 888.9 L1954.1 892.4 L1953.7 885.2 L1953.8 885.4 L1954.1 891.7 L1955.0 887.9 L1954.5 895.8 L1955.1 892.3 L1954.6 890.1 L1955.0 896.0 L1955.0 895.8 L1956.1 892.2 L1955.6 896.7 L1956.2 900.5 L1956.5 898.6 L1956.3 901.2 L1956.6 904.8 L1956.9 902.5 L1957.2 902.5 L1957.2 904.9 L1957.5 908.7 L1957.4 905.1 L1958.4 908.7 L1958.0 905.0 L1957.9 907.2 L1958.5 908.5 L1958.6 910.1 L1959.4 907.8 L1959.8 914.3 L1959.6 911.3 L1959.8 914.2 L1960.9 914.6 L1961.2 917.2 L1960.9 913.1 L1961.9 921.7 L1962.5 918.3 L1962.4 916.3 L1963.3 922.7 L1963.4 917.4 L1963.7 923.7 L1964.7 921.7 L1965.3 922.3 L1964.9 921.8 L1966.6 927.3 L1966.0 924.3 L1966.9 926.8 L1966.9 931.5 L1967.9 926.4 L1967.7 929.9 L1969.2 931.9 L1969.6 934.1 L1969.8 927.7 L1969.8 933.2 L1970.3 930.7 L1970.2 937.2 L1971.3 932.9 L1971.5 938.8 L1971.4 937.4 L1971.9 940.7 L1973.0 941.9 L1972.9 938.7 L1973.2 938.1 L1974.3 944.4 L1974.8 944.7 L1974.5 943.3 L1975.4 942.1 L1975.8 946.2 L1975.4 943.1 L1976.3 942.1 L1976.1 943.2 L1976.3 950.4 L1977.8 950.4 L1977.5 950.6 L1978.1 948.7 L1978.3 946.7 L1978.3 949.5 L1978.8 953.1 L1979.0 950.1 L1980.1 955.8 L1980.5 956.6 L1980.0 954.8 L1981.1 958.4 L1980.7 956.3 L1981.4 952.9 L1981.3 960.2 L1982.1 958.4 L1982.3 959.9 L1982.3 956.8 L1983.1 963.7 L1983.0 964.5 L1983.7 964.6 L1984.0 967.8 L1983.4 968.4 L1984.1 967.7 L1984.8 962.5 L1984.9 963.2 L1985.3 966.2 L1985.2 966.4 L1986.0 970.5 L1985.7 972.2 L1985.9 973.5 L1986.7 974.0 L1987.1 976.8 L1987.5 972.9 L1987.7 974.6 L1987.7 973.1 L1988.7 978.5 L1989.2 978.1 L1989.1 976.3 L1989.7 979.4 L1990.4 981.1 L1990.1 977.8 L1990.1 983.1 L1991.0 980.4 L1991.0 982.2 L1992.4 981.1 L1992.7 986.2 L1993.0 985.6 L1993.0 987.1 L1993.8 990.6 L1994.2 985.9 L1995.1 989.2 L1994.9 990.2 L1995.1 986.9 L1996.4 990.2 L1996.8 988.7 L1996.8 989.7 L1997.7 993.7 L1997.7 992.6 L1997.9 991.8 L1998.9 993.5 L1998.9 995.2 L1999.9 1001.7 L2000.4 997.3 L2001.7 1001.0 L2001.6 999.0 L2001.9 997.6 L2002.8 1002.8 L2002.9 1002.1 L2003.6 1004.0 L2004.3 1005.3 L2005.4 1003.8 L2005.5 1001.6 L2005.9 1007.2 L2007.2 1003.6 L2007.9 1011.3 L2007.8 1008.7 L2008.7 1007.5 L2008.9 1011.8 L2009.6 1009.9 L2010.2 1007.8 L2010.6 1010.2 L2010.8 1013.0 L2011.9 1013.7 L2012.2 1015.8 L2012.6 1019.4 L2012.9 1011.4 L2013.8 1018.3 L2014.1 1016.5 L2014.5 1015.9 L2015.6 1022.2 L2015.4 1020.3 L2016.1 1017.2 L2017.0 1021.5 L2017.7 1025.7 L2018.1 1020.7 L2017.6 1026.3 L2018.1 1026.0 L2018.6 1026.9 L2018.9 1022.2 L2020.4 1026.8 L2020.3 1031.6 L2021.2 1025.7 L2021.5 1027.9 L2021.7 1028.1 L2021.8 1028.7 L2022.3 1028.5 L2023.4 1031.0 L2023.5 1035.6 L2024.0 1030.5 L2024.7 1038.2 L2025.0 1033.6 L2025.4 1037.2 L2024.8 1035.6 L2026.0 1037.8 L2026.7 1040.8 L2026.9 1043.3 L2026.7 1043.4 L2026.7 1043.2 L2027.2 1041.3 L2028.0 1038.3 L2028.6 1045.4 L2028.5 1041.4 L2029.5 1044.7 L2029.0 1043.4 L2030.5 1043.9 L2030.1 1046.3 L2031.3 1050.3 L2031.0 1049.8 L2031.0 1045.2 L2031.8 1051.1 L2031.9 1046.6 L2033.2 1048.6 L2032.6 1048.5 L2033.0 1051.1 L2034.0 1055.2 L2034.1 1054.7 L2034.5 1056.1 L2034.7 1057.3 L2034.9 1060.7 L2035.6 1058.2 L2035.9 1058.0 L2036.4 1060.5 L2037.4 1063.1 L2038.3 1060.7 L2038.4 1060.8 L2038.5 1063.0 L2039.8 1059.7 L2040.0 1062.9 L2040.5 1063.4 L2041.4 1066.5 L2041.6 1067.1 L2041.9 1065.0 L2043.7 1065.9 L2043.8 1072.2 L2043.8 1075.3 L2044.5 1076.4 L2045.2 1073.8 L2045.9 1070.2 L2046.2 1077.0 L2047.0 1077.8 L2047.4 1073.4 L2047.5 1077.8 L2047.5 1081.2 L2048.0 1080.5 L2048.5 1077.7 L2049.7 1082.6 L2049.7 1083.2 L2049.8 1086.4 L2049.5 1082.8 L2050.0 1085.6 L2050.5 1089.3 L2050.6 1084.3 L2051.7 1089.2 L2051.4 1087.0 L2052.1 1085.8 L2052.4 1087.3 L2052.8 1086.8 L2053.2 1094.7 L2052.5 1089.3 L2053.9 1096.0 L2053.4 1096.7 L2054.1 1092.6 L2054.6 1094.9 L2054.2 1099.6 L2055.3 1095.0 L2055.3 1099.7 L2055.5 1096.7 L2056.1 1103.7 L2055.9 1098.3 L2056.8 1105.6 L2057.7 1097.7 L2057.7 1099.7 L2057.5 1100.4 L2058.3 1108.9 L2059.2 1104.1 L2059.5 1107.8 L2058.9 1110.5 L2059.5 1112.0 L2059.8 1112.1 L2060.6 1109.4 L2060.6 1110.0 L2061.7 1111.4 L2062.3 1112.0 L2062.6 1109.2 L2062.8 1114.2 L2063.3 1112.6 L2063.2 1117.7 L2063.3 1114.6 L2064.4 1117.8 L2064.3 1113.0 L2065.0 1117.4 L2064.7 1117.9 L2064.9 1122.8 L2066.0 1124.7 L2066.2 1118.3 L2066.2 1126.5 L2066.1 1121.5 L2066.6 1120.8 L2067.0 1125.6 L2067.1 1128.6 L2067.9 1123.2 L2067.8 1127.2 L2068.4 1127.8 L2068.4 1127.3 L2069.2 1125.6 L2069.5 1133.2 L2069.9 1127.6 L2070.3 1128.0 L2070.0 1128.2 L2070.8 1130.5 L2070.7 1130.8 L2071.8 1131.8 L2071.8 1138.5 L2071.8 1137.3 L2072.0 1140.2 L2072.7 1134.4 L2073.0 1135.8 L2073.0 1136.9 L2073.3 1142.0 L2073.8 1139.8 L2073.3 1141.7 L2074.6 1143.4 L2074.5 1146.2 L2074.8 1148.6 L2075.4 1147.5 L2075.4 1143.0 L2075.0 1148.9 L2075.6 1151.1 L2076.1 1147.2 L2075.6 1150.9 L2075.7 1150.3 L2076.2 1150.2 L2076.8 1153.1 L2077.0 1148.8 L2077.6 1155.4 L2077.8 1155.3 L2077.8 1158.6 L2078.1 1157.1 L2077.5 1152.5 L2078.6 1160.6 L2078.6 1156.1 L2079.0 1162.9 L2079.9 1157.7 L2079.6 1159.5 L2080.7 1160.7 L2081.2 1163.0 L2080.7 1163.9 L2081.1 1168.8 L2081.3 1165.5 L2082.2 1162.9 L2082.4 1172.2 L2083.6 1167.9 L2084.0 1173.1 L2084.5 1172.2 L2084.5 1171.1 L2085.2 1172.7 L2085.9 1169.7 L2086.3 1175.6 L2086.2 1177.2 L2086.4 1173.9 L2087.2 1179.8 L2087.2 1179.5 L2088.2 1181.0 L2088.1 1179.4 L2089.3 1182.2 L2089.4 1182.6 L2089.8 1180.8 L2089.6 1181.3 L2090.9 1185.9 L2090.2 1180.9 L2090.8 1186.5 L2091.1 1186.7 L2091.5 1183.7 L2092.8 1182.6 L2092.6 1184.7 L2093.2 1183.6 L2093.4 1186.2 L2094.1 1187.6 L2094.1 1185.7 L2094.8 1191.9 L2095.1 1193.7 L2094.4 1194.5 L2095.1 1190.4 L2096.1 1195.4 L2095.7 1190.9 L2096.4 1191.5 L2096.3 1192.2 L2096.5 1199.2 L2097.0 1202.1 L2097.5 1201.6 L2098.6 1201.3 L2098.8 1197.6 L2099.5 1205.4 L2099.5 1199.6 L2099.4 1201.0 L2100.9 1202.3 L2100.4 1205.0 L2100.5 1208.1 L2101.8 1204.5 L2101.3 1210.5 L2102.9 1210.4 L2102.8 1213.2 L2103.7 1205.8 L2104.5 1212.5 L2103.9 1214.9 L2104.8 1213.4 L2104.5 1210.5 L2105.9 1209.5 L2105.5 1210.8 L2106.4 1212.2 L2107.0 1215.8 L2107.6 1220.9 L2108.3 1215.8 L2107.9 1221.8 L2108.2 1223.9 L2108.5 1222.0 L2108.8 1223.6 L2109.2 1221.8 L2110.0 1226.2 L2109.6 1221.4 L2110.1 1227.3 L2111.0 1227.7 L2111.5 1224.4 L2111.4 1223.2 L2111.6 1229.2 L2111.8 1231.6 L2112.1 1229.4 L2113.0 1228.3 L2113.4 1230.6 L2113.0 1228.9 L2114.1 1235.7 L2114.7 1237.1 L2115.2 1237.5 L2115.9 1236.8 L2116.1 1234.0 L2116.3 1234.2 L2116.7 1237.6 L2117.5 1239.8 L2118.7 1238.1 L2119.3 1243.5 L2119.1 1242.2 L2119.6 1238.6 L2120.2 1240.5 L2120.6 1239.7 L2122.1 1247.3 L2122.7 1241.5 L2122.3 1248.7 L2123.3 1245.2 L2124.2 1247.4 L2124.3 1245.1 L2124.5 1250.4 L2126.0 1245.7 L2125.6 1250.4 L2126.2 1250.8 L2126.9 1249.8 L2126.9 1251.8 L2128.2 1250.3 L2128.3 1256.4 L2128.8 1253.4 L2129.7 1257.7 L2130.2 1254.6 L2130.0 1256.5 L2130.9 1258.6 L2131.0 1258.5 L2131.9 1258.0 L2131.4 1257.4 L2132.0 1257.5 L2133.4 1261.9 L2133.7 1261.8 L2133.8 1260.8 L2134.8 1263.1 L2134.8 1266.3 L2135.9 1269.0 L2135.9 1265.3 L2136.9 1266.1 L2136.7 1267.3 L2137.4 1266.3 L2138.5 1267.8 L2138.9 1268.2 L2138.9 1272.6 L2140.2 1272.7 L2140.6 1269.4 L2141.0 1275.2 L2142.0 1274.1 L2142.3 1271.7 L2142.2 1277.5 L2142.7 1273.8 L2143.7 1277.9 L2144.7 1279.9 L2145.5 1276.2 L2145.3 1275.9 L2145.9 1276.5 L2147.2 1280.8 L2147.3 1277.7 L2148.3 1279.9 L2148.7 1280.3 L2148.7 1280.6 L2149.6 1282.4 L2150.2 1286.3 L2150.3 1282.8 L2151.2 1285.5 L2151.7 1286.1 L2151.8 1285.0 L2153.0 1289.4 L2153.5 1290.2 L2153.9 1288.0 L2155.0 1291.3 L2155.1 1290.3 L2155.4 1296.2 L2155.9 1295.7 L2156.0 1295.0 L2156.7 1293.2 L2157.3 1295.3 L2158.3 1296.3 L2159.1 1295.5 L2159.6 1298.2 L2160.1 1298.7 L2160.0 1302.9 L2161.1 1302.3 L2161.7 1302.8 L2163.3 1302.5 L2164.4 1299.2 L2164.0 1302.1 L2165.1 1301.3 L2165.0 1297.3 L2166.1 1295.0 L2165.5 1294.0 L2166.1 1294.9 L2166.6 1294.4" stroke="#0000ff" stroke-width="6.00"/></g>
</g>
<g shape-rendering="crispEdges">
<rect x="636" y="663" width="186" height="5" fill="#000000"/>
<rect x="636" y="764" width="186" height="5" fill="#ff0000"/>
<rect x="636" y="864" width="186" height="5" fill="#0000ff"/>
</g>
<text x="842.7" y="693.1" font-size="81.5">Ti-Al-Mg</text>
<text x="842.7" y="793.7" font-size="81.5">Ti-Cr-Mg</text>
<text x="842.7" y="894.3" font-size="81.5">Ti-Fe-Mg</text>
<text x="424.4" y="1713.3" font-size="65" text-anchor="middle">100</text>
<text x="674.1" y="1713.3" font-size="65" text-anchor="middle">200</text>
<text x="923.9" y="1713.3" font-size="65" text-anchor="middle">300</text>
<text x="1173.7" y="1713.3" font-size="65" text-anchor="middle">400</text>
<text x="1423.4" y="1713.3" font-size="65" text-anchor="middle">500</text>
<text x="1673.2" y="1713.3" font-size="65" text-anchor="middle">600</text>
<text x="1922.9" y="1713.3" font-size="65" text-anchor="middle">700</text>
<text x="2172.7" y="1713.3" font-size="65" text-anchor="middle">800</text>
<text x="1200.7" y="1839.3" font-size="81.3" text-anchor="middle">Temperature, ºC</text>
<text transform="translate(99.2 791.8) rotate(-90)" font-size="81.7" text-anchor="middle">TCD signal (a.u.)</text>
</svg>
</body>
</html>
